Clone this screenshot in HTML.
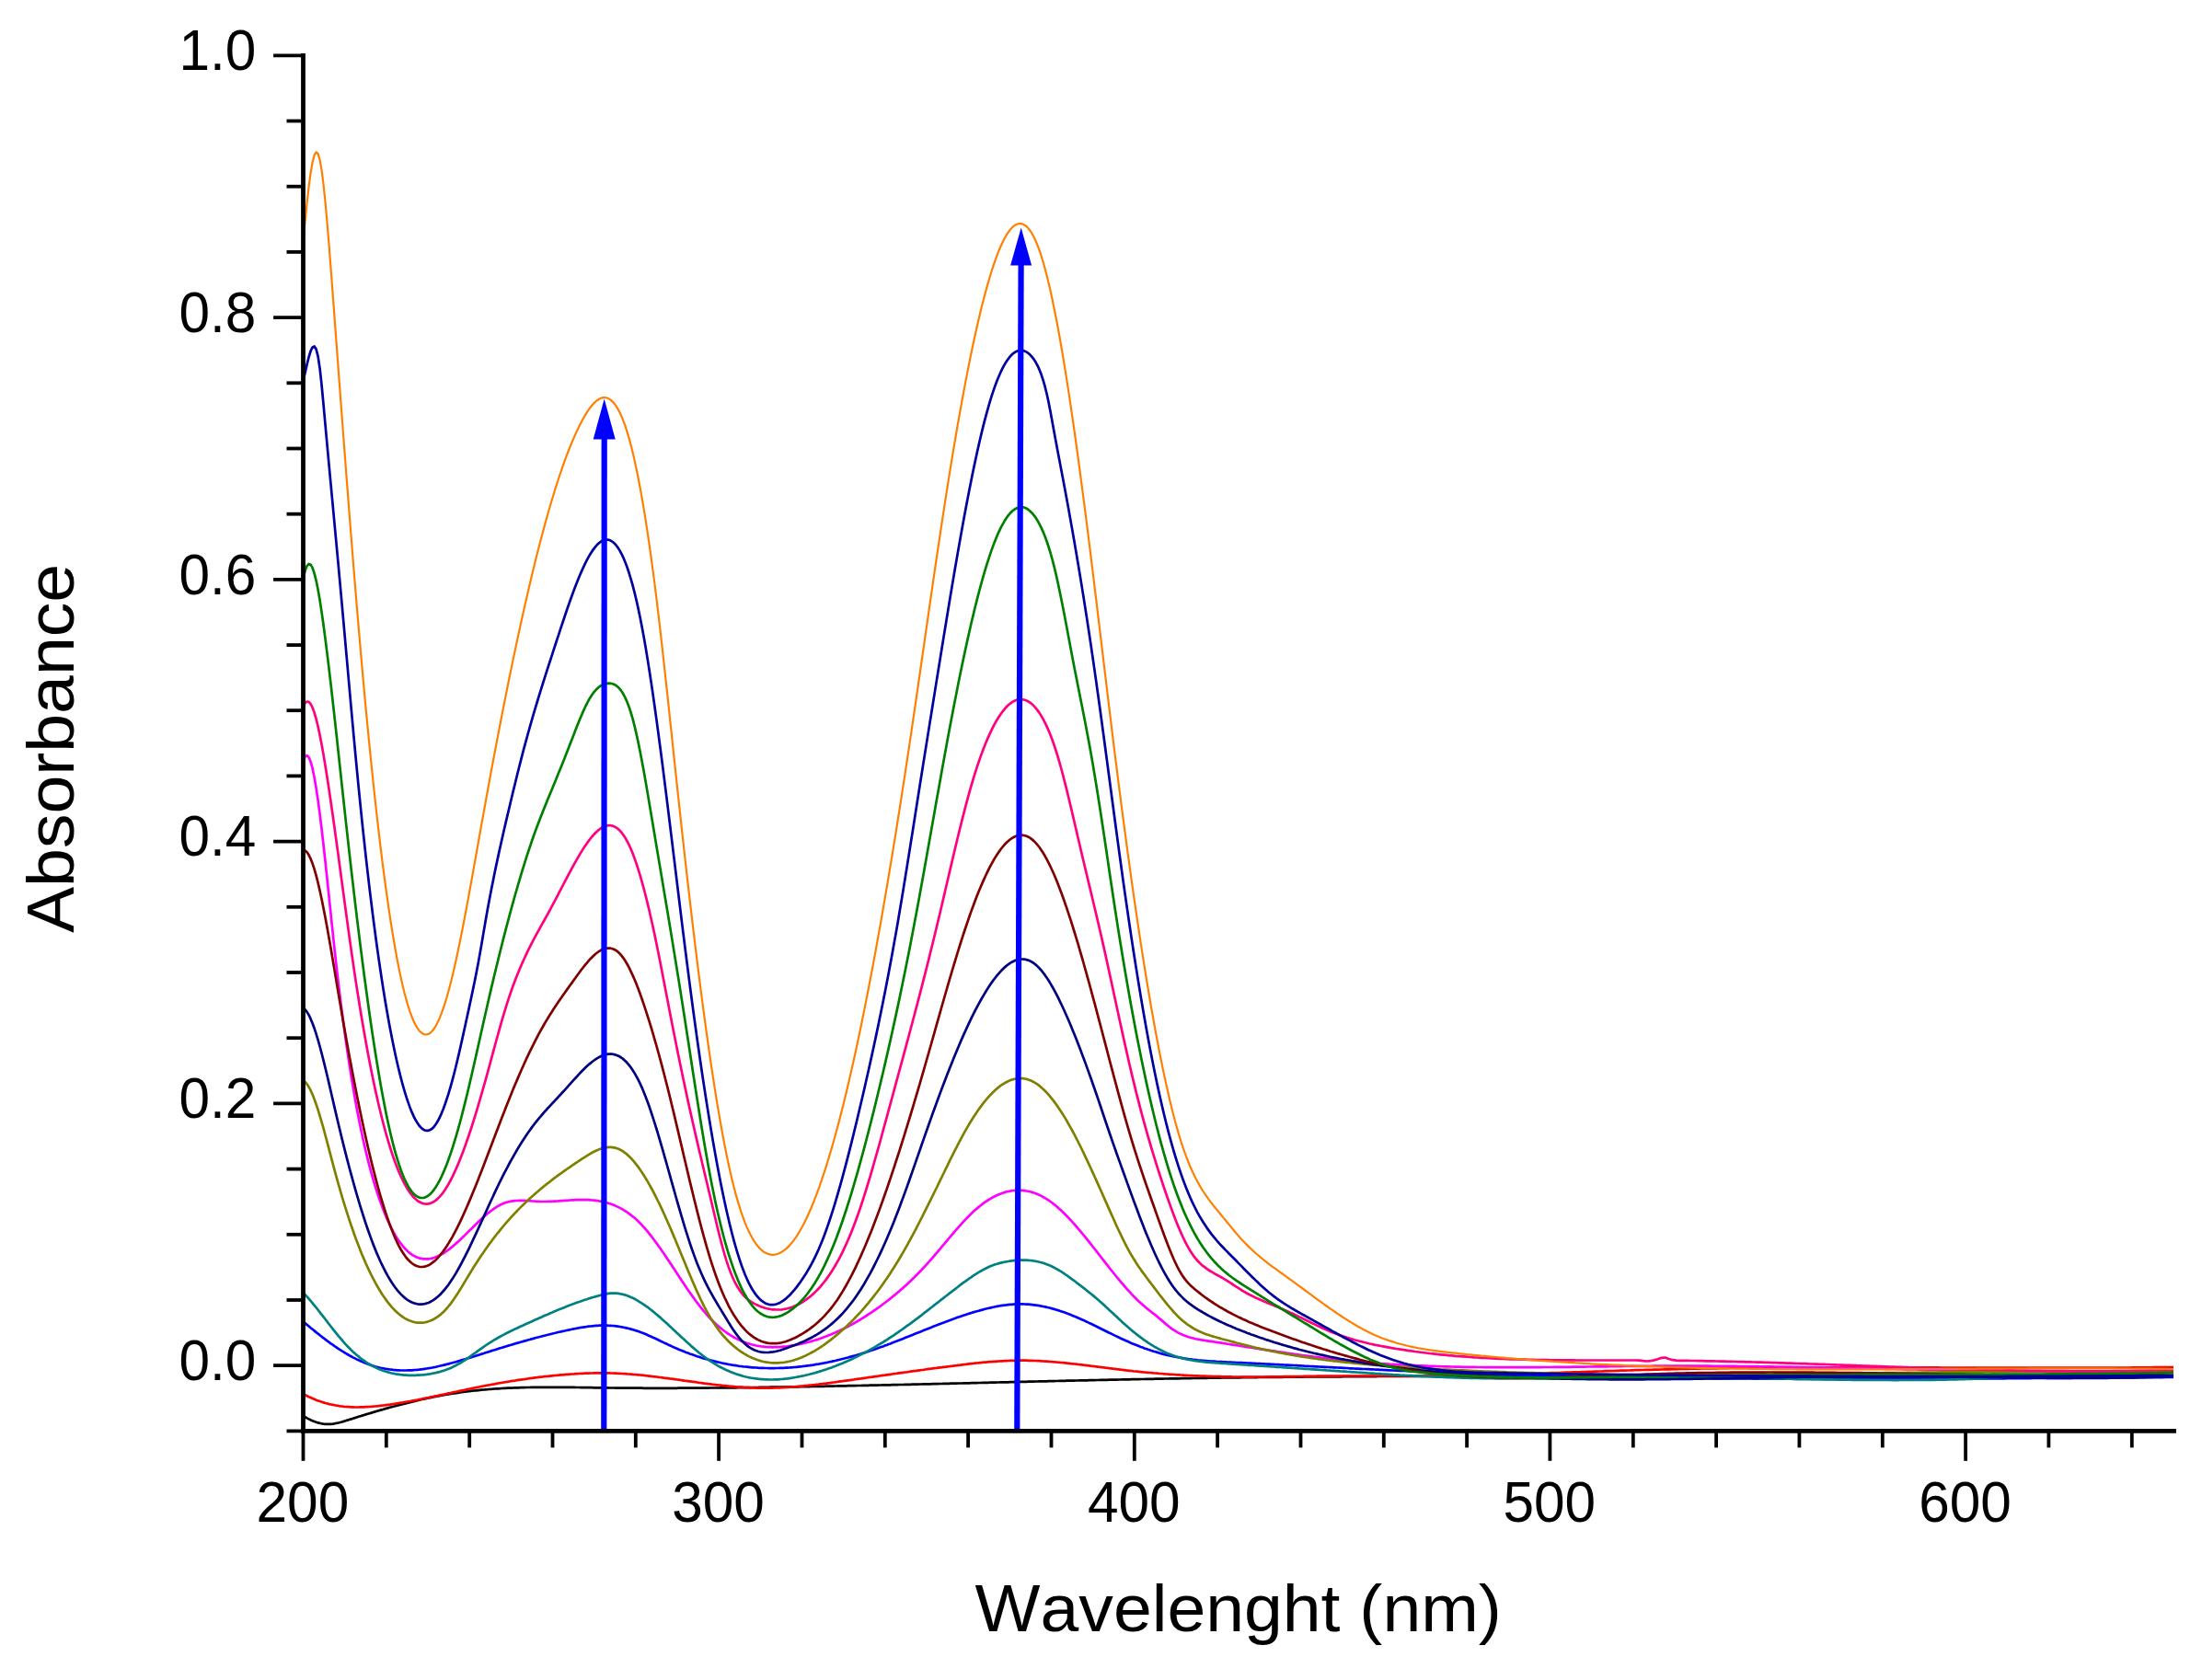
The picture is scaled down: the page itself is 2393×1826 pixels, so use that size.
<!DOCTYPE html>
<html lang="en"><head><meta charset="utf-8"><title>Absorbance spectra</title>
<style>html,body{margin:0;padding:0;background:#fff}svg{display:block}text{font-kerning:none;font-family:"Liberation Sans",Arial,Helvetica,sans-serif;fill:#000}</style></head><body>
<svg width="2393" height="1826" viewBox="0 0 2393 1826">
<rect width="2393" height="1826" fill="#fff"/>
<g fill="none" stroke-width="2.7" stroke-linejoin="round" stroke-linecap="butt">
<path d="M329.6,1539.0 331.6,1540.2 333.6,1541.4 335.6,1542.4 337.6,1543.4 339.6,1544.3 341.6,1545.1 343.6,1545.8 345.6,1546.4 347.6,1546.9 349.6,1547.3 351.6,1547.6 353.6,1547.8 355.6,1547.9 357.6,1547.9 359.6,1547.8 361.6,1547.6 363.6,1547.3 365.6,1546.9 367.6,1546.5 369.6,1546.0 371.6,1545.5 373.6,1544.9 375.6,1544.3 377.6,1543.6 379.6,1543.0 381.6,1542.4 383.6,1541.7 385.6,1541.1 387.6,1540.5 389.6,1539.8 391.6,1539.2 393.6,1538.6 395.6,1538.0 397.6,1537.4 399.6,1536.8 401.6,1536.2 403.6,1535.6 405.6,1535.0 407.6,1534.4 409.6,1533.8 411.6,1533.2 413.6,1532.6 415.6,1532.1 417.6,1531.5 419.6,1530.9 421.6,1530.4 423.6,1529.8 425.6,1529.3 427.6,1528.7 429.6,1528.2 431.6,1527.6 433.6,1527.1 435.6,1526.6 437.6,1526.1 439.6,1525.6 441.6,1525.1 443.6,1524.6 445.6,1524.1 447.6,1523.6 449.6,1523.1 451.6,1522.6 453.6,1522.2 455.6,1521.7 457.6,1521.3 459.6,1520.8 461.6,1520.4 463.6,1519.9 465.6,1519.5 467.6,1519.1 469.6,1518.7 471.6,1518.3 473.6,1517.9 475.6,1517.5 477.6,1517.1 479.6,1516.7 481.6,1516.4 483.6,1516.0 485.6,1515.7 487.6,1515.3 489.6,1515.0 491.6,1514.7 493.6,1514.4 495.6,1514.1 497.6,1513.8 499.6,1513.5 501.6,1513.2 503.6,1512.9 505.6,1512.7 507.6,1512.4 509.6,1512.2 511.6,1511.9 513.6,1511.7 515.6,1511.5 517.6,1511.3 519.6,1511.1 521.6,1510.9 523.6,1510.7 525.6,1510.5 527.6,1510.3 529.6,1510.2 531.6,1510.0 533.6,1509.8 535.6,1509.7 537.6,1509.5 539.6,1509.4 541.6,1509.3 543.6,1509.2 545.6,1509.0 547.6,1508.9 549.6,1508.8 551.6,1508.7 553.6,1508.6 555.6,1508.6 557.6,1508.5 559.6,1508.4 561.6,1508.3 563.6,1508.3 565.6,1508.2 567.6,1508.1 569.6,1508.1 571.6,1508.0 573.6,1508.0 575.6,1508.0 577.6,1507.9 579.6,1507.9 581.6,1507.9 583.6,1507.8 585.6,1507.8 587.6,1507.8 589.6,1507.8 591.6,1507.8 593.6,1507.8 595.6,1507.8 597.6,1507.8 599.6,1507.8 601.6,1507.8 603.6,1507.8 605.6,1507.8 607.6,1507.8 609.6,1507.8 611.6,1507.8 613.6,1507.8 615.6,1507.9 617.6,1507.9 619.6,1507.9 621.6,1507.9 623.6,1507.9 625.6,1508.0 627.6,1508.0 629.6,1508.0 631.6,1508.1 633.6,1508.1 635.6,1508.1 637.6,1508.1 639.6,1508.2 641.6,1508.2 643.6,1508.2 645.6,1508.3 647.6,1508.3 649.6,1508.3 651.6,1508.3 653.6,1508.4 655.6,1508.4 657.6,1508.4 659.6,1508.4 661.6,1508.5 663.6,1508.5 665.6,1508.5 667.6,1508.5 669.6,1508.6 671.6,1508.6 673.6,1508.6 675.6,1508.6 677.6,1508.6 679.6,1508.6 681.6,1508.7 683.6,1508.7 685.6,1508.7 687.6,1508.7 689.6,1508.7 691.6,1508.7 693.6,1508.7 695.6,1508.7 697.6,1508.7 699.6,1508.8 701.6,1508.8 703.6,1508.8 705.6,1508.8 707.6,1508.8 709.6,1508.8 711.6,1508.8 713.6,1508.8 715.6,1508.8 717.6,1508.8 719.6,1508.8 721.6,1508.8 723.6,1508.8 725.6,1508.8 727.6,1508.8 729.6,1508.8 731.6,1508.8 733.6,1508.8 735.6,1508.8 737.6,1508.7 739.6,1508.7 741.6,1508.7 743.6,1508.7 745.6,1508.7 747.6,1508.7 749.6,1508.7 751.6,1508.7 753.6,1508.7 755.6,1508.7 757.6,1508.6 759.6,1508.6 761.6,1508.6 763.6,1508.6 765.6,1508.6 767.6,1508.6 769.6,1508.6 771.6,1508.5 773.6,1508.5 775.6,1508.5 777.6,1508.5 779.6,1508.5 781.6,1508.5 783.6,1508.4 785.6,1508.4 787.6,1508.4 789.6,1508.4 791.6,1508.4 793.6,1508.3 795.6,1508.3 797.6,1508.3 799.6,1508.3 801.6,1508.2 803.6,1508.2 805.6,1508.2 807.6,1508.2 809.6,1508.1 811.6,1508.1 813.6,1508.1 815.6,1508.1 817.6,1508.0 819.6,1508.0 821.6,1508.0 823.6,1508.0 825.6,1507.9 827.6,1507.9 829.6,1507.9 831.6,1507.8 833.6,1507.8 835.6,1507.8 837.6,1507.7 839.6,1507.7 841.6,1507.7 843.6,1507.7 845.6,1507.6 847.6,1507.6 849.6,1507.6 851.6,1507.5 853.6,1507.5 855.6,1507.5 857.6,1507.4 859.6,1507.4 861.6,1507.4 863.6,1507.3 865.6,1507.3 867.6,1507.3 869.6,1507.2 871.6,1507.2 873.6,1507.2 875.6,1507.1 877.6,1507.1 879.6,1507.1 881.6,1507.0 883.6,1507.0 885.6,1506.9 887.6,1506.9 889.6,1506.9 891.6,1506.8 893.6,1506.8 895.6,1506.8 897.6,1506.7 899.6,1506.7 901.6,1506.6 903.6,1506.6 905.6,1506.6 907.6,1506.5 909.6,1506.5 911.6,1506.4 913.6,1506.4 915.6,1506.4 917.6,1506.3 919.6,1506.3 921.6,1506.2 923.6,1506.2 925.6,1506.2 927.6,1506.1 929.6,1506.1 931.6,1506.0 933.6,1506.0 935.6,1506.0 937.6,1505.9 939.6,1505.9 941.6,1505.8 943.6,1505.8 945.6,1505.7 947.6,1505.7 949.6,1505.7 951.6,1505.6 953.6,1505.6 955.6,1505.5 957.6,1505.5 959.6,1505.4 961.6,1505.4 963.6,1505.4 965.6,1505.3 967.6,1505.3 969.6,1505.2 971.6,1505.2 973.6,1505.1 975.6,1505.1 977.6,1505.0 979.6,1505.0 981.6,1505.0 983.6,1504.9 985.6,1504.9 987.6,1504.8 989.6,1504.8 991.6,1504.7 993.6,1504.7 995.6,1504.6 997.6,1504.6 999.6,1504.5 1001.6,1504.5 1003.6,1504.4 1005.6,1504.4 1007.6,1504.4 1009.6,1504.3 1011.6,1504.3 1013.6,1504.2 1015.6,1504.2 1017.6,1504.1 1019.6,1504.1 1021.6,1504.0 1023.6,1504.0 1025.6,1503.9 1027.6,1503.9 1029.6,1503.8 1031.6,1503.8 1033.6,1503.7 1035.6,1503.7 1037.6,1503.6 1039.6,1503.6 1041.6,1503.5 1043.6,1503.5 1045.6,1503.5 1047.6,1503.4 1049.6,1503.4 1051.6,1503.3 1053.6,1503.3 1055.6,1503.2 1057.6,1503.2 1059.6,1503.1 1061.6,1503.1 1063.6,1503.0 1065.6,1503.0 1067.6,1502.9 1069.6,1502.9 1071.6,1502.8 1073.6,1502.8 1075.6,1502.7 1077.6,1502.7 1079.6,1502.6 1081.6,1502.6 1083.6,1502.5 1085.6,1502.5 1087.6,1502.4 1089.6,1502.4 1091.6,1502.3 1093.6,1502.3 1095.6,1502.3 1097.6,1502.2 1099.6,1502.2 1101.6,1502.1 1103.6,1502.1 1105.6,1502.0 1107.6,1502.0 1109.6,1501.9 1111.6,1501.9 1113.6,1501.8 1115.6,1501.8 1117.6,1501.7 1119.6,1501.7 1121.6,1501.6 1123.6,1501.6 1125.6,1501.5 1127.6,1501.5 1129.6,1501.4 1131.6,1501.4 1133.6,1501.4 1135.6,1501.3 1137.6,1501.3 1139.6,1501.2 1141.6,1501.2 1143.6,1501.1 1145.6,1501.1 1147.6,1501.0 1149.6,1501.0 1151.6,1500.9 1153.6,1500.9 1155.6,1500.8 1157.6,1500.8 1159.6,1500.7 1161.6,1500.7 1163.6,1500.7 1165.6,1500.6 1167.6,1500.6 1169.6,1500.5 1171.6,1500.5 1173.6,1500.4 1175.6,1500.4 1177.6,1500.3 1179.6,1500.3 1181.6,1500.3 1183.6,1500.2 1185.6,1500.2 1187.6,1500.1 1189.6,1500.1 1191.6,1500.0 1193.6,1500.0 1195.6,1499.9 1197.6,1499.9 1199.6,1499.9 1201.6,1499.8 1203.6,1499.8 1205.6,1499.7 1207.6,1499.7 1209.6,1499.6 1211.6,1499.6 1213.6,1499.6 1215.6,1499.5 1217.6,1499.5 1219.6,1499.4 1221.6,1499.4 1223.6,1499.4 1225.6,1499.3 1227.6,1499.3 1229.6,1499.2 1231.6,1499.2 1233.6,1499.2 1235.6,1499.1 1237.6,1499.1 1239.6,1499.0 1241.6,1499.0 1243.6,1499.0 1245.6,1498.9 1247.6,1498.9 1249.6,1498.8 1251.6,1498.8 1253.6,1498.8 1255.6,1498.7 1257.6,1498.7 1259.6,1498.6 1261.6,1498.6 1263.6,1498.6 1265.6,1498.5 1267.6,1498.5 1269.6,1498.5 1271.6,1498.4 1273.6,1498.4 1275.6,1498.4 1277.6,1498.3 1279.6,1498.3 1281.6,1498.3 1283.6,1498.2 1285.6,1498.2 1287.6,1498.2 1289.6,1498.1 1291.6,1498.1 1293.6,1498.1 1295.6,1498.0 1297.6,1498.0 1299.6,1498.0 1301.6,1497.9 1303.6,1497.9 1305.6,1497.9 1307.6,1497.8 1309.6,1497.8 1311.6,1497.8 1313.6,1497.7 1315.6,1497.7 1317.6,1497.7 1319.6,1497.7 1321.6,1497.6 1323.6,1497.6 1325.6,1497.6 1327.6,1497.5 1329.6,1497.5 1331.6,1497.5 1333.6,1497.5 1335.6,1497.4 1337.6,1497.4 1339.6,1497.4 1341.6,1497.4 1343.6,1497.3 1345.6,1497.3 1347.6,1497.3 1349.6,1497.2 1351.6,1497.2 1353.6,1497.2 1355.6,1497.2 1357.6,1497.2 1359.6,1497.1 1361.6,1497.1 1363.6,1497.1 1365.6,1497.1 1367.6,1497.0 1369.6,1497.0 1371.6,1497.0 1373.6,1497.0 1375.6,1496.9 1377.6,1496.9 1379.6,1496.9 1381.6,1496.9 1383.6,1496.9 1385.6,1496.8 1387.6,1496.8 1389.6,1496.8 1391.6,1496.8 1393.6,1496.8 1395.6,1496.7 1397.6,1496.7 1399.6,1496.7 1401.6,1496.7 1403.6,1496.7 1405.6,1496.6 1407.6,1496.6 1409.6,1496.6 1411.6,1496.6 1413.6,1496.6 1415.6,1496.6 1417.6,1496.5 1419.6,1496.5 1421.6,1496.5 1423.6,1496.5 1425.6,1496.5 1427.6,1496.5 1429.6,1496.4 1431.6,1496.4 1433.6,1496.4 1435.6,1496.4 1437.6,1496.4 1439.6,1496.4 1441.6,1496.4 1443.6,1496.3 1445.6,1496.3 1447.6,1496.3 1449.6,1496.3 1451.6,1496.3 1453.6,1496.3 1455.6,1496.3 1457.6,1496.3 1459.6,1496.2 1461.6,1496.2 1463.6,1496.2 1465.6,1496.2 1467.6,1496.2 1469.6,1496.2 1471.6,1496.2 1473.6,1496.2 1475.6,1496.1 1477.6,1496.1 1479.6,1496.1 1481.6,1496.1 1483.6,1496.1 1485.6,1496.1 1487.6,1496.1 1489.6,1496.1 1491.6,1496.1 1493.6,1496.1 1495.6,1496.1 1497.6,1496.0 1499.6,1496.0 1501.6,1496.0 1505.6,1496.0 1509.6,1496.0 1513.6,1496.0 1517.6,1496.0 1521.6,1496.0 1525.6,1495.9 1529.6,1495.9 1533.6,1495.9 1537.6,1495.9 1541.6,1495.9 1545.6,1495.9 1549.6,1495.9 1553.6,1495.9 1557.6,1495.9 1561.6,1495.9 1565.6,1495.8 1569.6,1495.8 1573.6,1495.8 1577.6,1495.8 1581.6,1495.8 1585.6,1495.8 1589.6,1495.8 1593.6,1495.8 1597.6,1495.8 1601.6,1495.8 1605.6,1495.8 1609.6,1495.8 1613.6,1495.8 1617.6,1495.8 1621.6,1495.8 1625.6,1495.8 1629.6,1495.8 1633.6,1495.8 1637.6,1495.8 1641.6,1495.8 1645.6,1495.8 1649.6,1495.8 1653.6,1495.8 1657.6,1495.8 1661.6,1495.9 1665.6,1495.9 1669.6,1495.9 1673.6,1495.9 1677.6,1495.9 1681.6,1495.9 1685.6,1495.9 1689.6,1495.9 1693.6,1495.9 1697.6,1495.9 1701.6,1495.9 1705.6,1495.9 1709.6,1495.9 1713.6,1496.0 1717.6,1496.0 1721.6,1496.0 1725.6,1496.0 1729.6,1496.0 1733.6,1496.0 1737.6,1496.0 1741.6,1496.0 1745.6,1496.0 1749.6,1496.1 1753.6,1496.1 1757.6,1496.1 1761.6,1496.1 1765.6,1496.1 1769.6,1496.1 1773.6,1496.1 1777.6,1496.1 1781.6,1496.2 1785.6,1496.2 1789.6,1496.2 1793.6,1496.2 1797.6,1496.2 1801.6,1496.2 1805.6,1496.2 1809.6,1496.2 1813.6,1496.3 1817.6,1496.3 1821.6,1496.3 1825.6,1496.3 1829.6,1496.3 1833.6,1496.3 1837.6,1496.3 1841.6,1496.4 1845.6,1496.4 1849.6,1496.4 1853.6,1496.4 1857.6,1496.4 1861.6,1496.4 1865.6,1496.4 1869.6,1496.4 1873.6,1496.5 1877.6,1496.5 1881.6,1496.5 1885.6,1496.5 1889.6,1496.5 1893.6,1496.5 1897.6,1496.5 1901.6,1496.6 1905.6,1496.6 1909.6,1496.6 1913.6,1496.6 1917.6,1496.6 1921.6,1496.6 1925.6,1496.6 1929.6,1496.6 1933.6,1496.7 1937.6,1496.7 1941.6,1496.7 1945.6,1496.7 1949.6,1496.7 1953.6,1496.7 1957.6,1496.7 1961.6,1496.7 1965.6,1496.7 1969.6,1496.7 1973.6,1496.8 1977.6,1496.8 1981.6,1496.8 1985.6,1496.8 1989.6,1496.8 1993.6,1496.8 1997.6,1496.8 2001.6,1496.8 2005.6,1496.8 2009.6,1496.8 2013.6,1496.8 2017.6,1496.8 2021.6,1496.8 2025.6,1496.8 2029.6,1496.8 2033.6,1496.8 2037.6,1496.9 2041.6,1496.9 2045.6,1496.9 2049.6,1496.9 2053.6,1496.9 2057.6,1496.9 2061.6,1496.9 2065.6,1496.9 2069.6,1496.9 2073.6,1496.9 2077.6,1496.9 2081.6,1496.9 2085.6,1496.9 2089.6,1496.9 2093.6,1496.9 2097.6,1496.8 2101.6,1496.8 2105.6,1496.8 2109.6,1496.8 2113.6,1496.8 2117.6,1496.8 2121.6,1496.8 2125.6,1496.8 2129.6,1496.8 2133.6,1496.8 2137.6,1496.8 2141.6,1496.8 2145.6,1496.8 2149.6,1496.7 2153.6,1496.7 2157.6,1496.7 2161.6,1496.7 2165.6,1496.7 2169.6,1496.7 2173.6,1496.7 2177.6,1496.6 2181.6,1496.6 2185.6,1496.6 2189.6,1496.6 2193.6,1496.6 2197.6,1496.5 2201.6,1496.5 2205.6,1496.5 2209.6,1496.5 2213.6,1496.5 2217.6,1496.4 2221.6,1496.4 2225.6,1496.4 2229.6,1496.4 2233.6,1496.3 2237.6,1496.3 2241.6,1496.3 2245.6,1496.2 2249.6,1496.2 2253.6,1496.2 2257.6,1496.1 2261.6,1496.1 2265.6,1496.1 2269.6,1496.0 2273.6,1496.0 2277.6,1496.0 2281.6,1495.9 2285.6,1495.9 2289.6,1495.8 2293.6,1495.8 2297.6,1495.8 2301.6,1495.7 2305.6,1495.7 2309.6,1495.6 2313.6,1495.6 2317.6,1495.5 2321.6,1495.5 2325.6,1495.4 2329.6,1495.4 2333.6,1495.3 2337.6,1495.3 2341.6,1495.2 2345.6,1495.2 2349.6,1495.1 2353.6,1495.1 2357.6,1495.0 2361.6,1494.9 2362.0,1494.9" stroke="#000000"/>
<path d="M329.6,1515.0 331.6,1516.1 333.6,1517.2 335.6,1518.2 337.6,1519.1 339.6,1520.0 341.6,1520.8 343.6,1521.7 345.6,1522.4 347.6,1523.1 349.6,1523.8 351.6,1524.4 353.6,1525.0 355.6,1525.5 357.6,1526.1 359.6,1526.5 361.6,1526.9 363.6,1527.3 365.6,1527.7 367.6,1528.0 369.6,1528.3 371.6,1528.5 373.6,1528.8 375.6,1529.0 377.6,1529.1 379.6,1529.2 381.6,1529.3 383.6,1529.4 385.6,1529.5 387.6,1529.5 389.6,1529.5 391.6,1529.4 393.6,1529.4 395.6,1529.3 397.6,1529.2 399.6,1529.1 401.6,1529.0 403.6,1528.8 405.6,1528.7 407.6,1528.5 409.6,1528.3 411.6,1528.1 413.6,1527.8 415.6,1527.6 417.6,1527.4 419.6,1527.1 421.6,1526.8 423.6,1526.6 425.6,1526.3 427.6,1526.0 429.6,1525.7 431.6,1525.3 433.6,1525.0 435.6,1524.7 437.6,1524.4 439.6,1524.0 441.6,1523.7 443.6,1523.3 445.6,1523.0 447.6,1522.6 449.6,1522.2 451.6,1521.8 453.6,1521.5 455.6,1521.1 457.6,1520.7 459.6,1520.3 461.6,1519.9 463.6,1519.5 465.6,1519.1 467.6,1518.6 469.6,1518.2 471.6,1517.8 473.6,1517.4 475.6,1517.0 477.6,1516.5 479.6,1516.1 481.6,1515.7 483.6,1515.3 485.6,1514.8 487.6,1514.4 489.6,1514.0 491.6,1513.5 493.6,1513.1 495.6,1512.7 497.6,1512.3 499.6,1511.8 501.6,1511.4 503.6,1511.0 505.6,1510.6 507.6,1510.1 509.6,1509.7 511.6,1509.3 513.6,1508.9 515.6,1508.5 517.6,1508.1 519.6,1507.7 521.6,1507.3 523.6,1506.9 525.6,1506.5 527.6,1506.1 529.6,1505.7 531.6,1505.4 533.6,1505.0 535.6,1504.6 537.6,1504.3 539.6,1503.9 541.6,1503.5 543.6,1503.2 545.6,1502.8 547.6,1502.5 549.6,1502.2 551.6,1501.8 553.6,1501.5 555.6,1501.2 557.6,1500.9 559.6,1500.6 561.6,1500.2 563.6,1499.9 565.6,1499.6 567.6,1499.3 569.6,1499.1 571.6,1498.8 573.6,1498.5 575.6,1498.2 577.6,1498.0 579.6,1497.7 581.6,1497.4 583.6,1497.2 585.6,1496.9 587.6,1496.7 589.6,1496.5 591.6,1496.2 593.6,1496.0 595.6,1495.8 597.6,1495.6 599.6,1495.4 601.6,1495.2 603.6,1495.0 605.6,1494.8 607.6,1494.6 609.6,1494.4 611.6,1494.3 613.6,1494.1 615.6,1493.9 617.6,1493.8 619.6,1493.6 621.6,1493.5 623.6,1493.4 625.6,1493.2 627.6,1493.1 629.6,1493.0 631.6,1492.9 633.6,1492.8 635.6,1492.7 637.6,1492.7 639.6,1492.6 641.6,1492.5 643.6,1492.5 645.6,1492.4 647.6,1492.4 649.6,1492.4 651.6,1492.4 653.6,1492.4 655.6,1492.4 657.6,1492.4 659.6,1492.4 661.6,1492.4 663.6,1492.5 665.6,1492.5 667.6,1492.6 669.6,1492.7 671.6,1492.8 673.6,1492.9 675.6,1493.0 677.6,1493.1 679.6,1493.2 681.6,1493.4 683.6,1493.5 685.6,1493.6 687.6,1493.8 689.6,1494.0 691.6,1494.2 693.6,1494.3 695.6,1494.5 697.6,1494.7 699.6,1494.9 701.6,1495.2 703.6,1495.4 705.6,1495.6 707.6,1495.8 709.6,1496.1 711.6,1496.3 713.6,1496.5 715.6,1496.8 717.6,1497.0 719.6,1497.3 721.6,1497.6 723.6,1497.8 725.6,1498.1 727.6,1498.4 729.6,1498.6 731.6,1498.9 733.6,1499.2 735.6,1499.5 737.6,1499.7 739.6,1500.0 741.6,1500.3 743.6,1500.6 745.6,1500.8 747.6,1501.1 749.6,1501.4 751.6,1501.7 753.6,1501.9 755.6,1502.2 757.6,1502.5 759.6,1502.8 761.6,1503.0 763.6,1503.3 765.6,1503.6 767.6,1503.8 769.6,1504.1 771.6,1504.3 773.6,1504.6 775.6,1504.8 777.6,1505.1 779.6,1505.3 781.6,1505.5 783.6,1505.7 785.6,1506.0 787.6,1506.2 789.6,1506.4 791.6,1506.6 793.6,1506.8 795.6,1506.9 797.6,1507.1 799.6,1507.3 801.6,1507.5 803.6,1507.6 805.6,1507.7 807.6,1507.9 809.6,1508.0 811.6,1508.1 813.6,1508.2 815.6,1508.3 817.6,1508.4 819.6,1508.5 821.6,1508.6 823.6,1508.6 825.6,1508.6 827.6,1508.7 829.6,1508.7 831.6,1508.7 833.6,1508.7 835.6,1508.7 837.6,1508.6 839.6,1508.6 841.6,1508.5 843.6,1508.5 845.6,1508.4 847.6,1508.3 849.6,1508.2 851.6,1508.1 853.6,1508.0 855.6,1507.9 857.6,1507.7 859.6,1507.6 861.6,1507.4 863.6,1507.3 865.6,1507.1 867.6,1506.9 869.6,1506.8 871.6,1506.6 873.6,1506.4 875.6,1506.2 877.6,1506.0 879.6,1505.7 881.6,1505.5 883.6,1505.3 885.6,1505.1 887.6,1504.8 889.6,1504.6 891.6,1504.3 893.6,1504.1 895.6,1503.8 897.6,1503.6 899.6,1503.3 901.6,1503.1 903.6,1502.8 905.6,1502.5 907.6,1502.3 909.6,1502.0 911.6,1501.7 913.6,1501.4 915.6,1501.2 917.6,1500.9 919.6,1500.6 921.6,1500.3 923.6,1500.1 925.6,1499.8 927.6,1499.5 929.6,1499.2 931.6,1498.9 933.6,1498.6 935.6,1498.4 937.6,1498.1 939.6,1497.8 941.6,1497.5 943.6,1497.2 945.6,1496.9 947.6,1496.7 949.6,1496.4 951.6,1496.1 953.6,1495.8 955.6,1495.5 957.6,1495.2 959.6,1494.9 961.6,1494.7 963.6,1494.4 965.6,1494.1 967.6,1493.8 969.6,1493.5 971.6,1493.2 973.6,1493.0 975.6,1492.7 977.6,1492.4 979.6,1492.1 981.6,1491.8 983.6,1491.5 985.6,1491.3 987.6,1491.0 989.6,1490.7 991.6,1490.4 993.6,1490.1 995.6,1489.9 997.6,1489.6 999.6,1489.3 1001.6,1489.0 1003.6,1488.8 1005.6,1488.5 1007.6,1488.2 1009.6,1487.9 1011.6,1487.7 1013.6,1487.4 1015.6,1487.1 1017.6,1486.9 1019.6,1486.6 1021.6,1486.3 1023.6,1486.1 1025.6,1485.8 1027.6,1485.6 1029.6,1485.3 1031.6,1485.1 1033.6,1484.8 1035.6,1484.6 1037.6,1484.3 1039.6,1484.1 1041.6,1483.8 1043.6,1483.6 1045.6,1483.3 1047.6,1483.1 1049.6,1482.9 1051.6,1482.6 1053.6,1482.4 1055.6,1482.2 1057.6,1482.0 1059.6,1481.7 1061.6,1481.5 1063.6,1481.3 1065.6,1481.1 1067.6,1480.9 1069.6,1480.7 1071.6,1480.6 1073.6,1480.4 1075.6,1480.2 1077.6,1480.1 1079.6,1479.9 1081.6,1479.8 1083.6,1479.6 1085.6,1479.5 1087.6,1479.4 1089.6,1479.3 1091.6,1479.2 1093.6,1479.1 1095.6,1479.0 1097.6,1478.9 1099.6,1478.8 1101.6,1478.8 1103.6,1478.8 1105.6,1478.7 1107.6,1478.7 1109.6,1478.7 1111.6,1478.7 1113.6,1478.7 1115.6,1478.7 1117.6,1478.8 1119.6,1478.8 1121.6,1478.9 1123.6,1479.0 1125.6,1479.0 1127.6,1479.1 1129.6,1479.2 1131.6,1479.3 1133.6,1479.5 1135.6,1479.6 1137.6,1479.7 1139.6,1479.8 1141.6,1480.0 1143.6,1480.2 1145.6,1480.3 1147.6,1480.5 1149.6,1480.7 1151.6,1480.8 1153.6,1481.0 1155.6,1481.2 1157.6,1481.4 1159.6,1481.6 1161.6,1481.8 1163.6,1482.1 1165.6,1482.3 1167.6,1482.5 1169.6,1482.7 1171.6,1483.0 1173.6,1483.2 1175.6,1483.4 1177.6,1483.7 1179.6,1483.9 1181.6,1484.2 1183.6,1484.4 1185.6,1484.7 1187.6,1484.9 1189.6,1485.2 1191.6,1485.4 1193.6,1485.7 1195.6,1485.9 1197.6,1486.2 1199.6,1486.4 1201.6,1486.7 1203.6,1486.9 1205.6,1487.2 1207.6,1487.4 1209.6,1487.7 1211.6,1487.9 1213.6,1488.2 1215.6,1488.4 1217.6,1488.7 1219.6,1488.9 1221.6,1489.1 1223.6,1489.4 1225.6,1489.6 1227.6,1489.8 1229.6,1490.0 1231.6,1490.3 1233.6,1490.5 1235.6,1490.7 1237.6,1490.9 1239.6,1491.1 1241.6,1491.3 1243.6,1491.5 1245.6,1491.7 1247.6,1491.8 1249.6,1492.0 1251.6,1492.2 1253.6,1492.4 1255.6,1492.5 1257.6,1492.7 1259.6,1492.9 1261.6,1493.0 1263.6,1493.2 1265.6,1493.3 1267.6,1493.5 1269.6,1493.6 1271.6,1493.8 1273.6,1493.9 1275.6,1494.0 1277.6,1494.2 1279.6,1494.3 1281.6,1494.4 1283.6,1494.5 1285.6,1494.6 1287.6,1494.8 1289.6,1494.9 1291.6,1495.0 1293.6,1495.1 1295.6,1495.2 1297.6,1495.3 1299.6,1495.4 1301.6,1495.4 1303.6,1495.5 1305.6,1495.6 1307.6,1495.7 1309.6,1495.7 1311.6,1495.8 1313.6,1495.9 1315.6,1495.9 1317.6,1496.0 1319.6,1496.1 1321.6,1496.1 1323.6,1496.2 1325.6,1496.2 1327.6,1496.3 1329.6,1496.3 1331.6,1496.3 1333.6,1496.4 1335.6,1496.4 1337.6,1496.4 1339.6,1496.5 1341.6,1496.5 1343.6,1496.5 1345.6,1496.5 1347.6,1496.5 1349.6,1496.5 1351.6,1496.5 1353.6,1496.6 1355.6,1496.6 1357.6,1496.6 1359.6,1496.6 1361.6,1496.6 1363.6,1496.5 1365.6,1496.5 1367.6,1496.5 1369.6,1496.5 1371.6,1496.5 1373.6,1496.5 1375.6,1496.5 1377.6,1496.5 1379.6,1496.4 1381.6,1496.4 1383.6,1496.4 1385.6,1496.4 1387.6,1496.3 1389.6,1496.3 1391.6,1496.3 1393.6,1496.3 1395.6,1496.2 1397.6,1496.2 1399.6,1496.2 1401.6,1496.2 1403.6,1496.1 1405.6,1496.1 1407.6,1496.1 1409.6,1496.0 1411.6,1496.0 1413.6,1496.0 1415.6,1496.0 1417.6,1495.9 1419.6,1495.9 1421.6,1495.9 1423.6,1495.8 1425.6,1495.8 1427.6,1495.8 1429.6,1495.8 1431.6,1495.7 1433.6,1495.7 1435.6,1495.7 1437.6,1495.7 1439.6,1495.7 1441.6,1495.6 1443.6,1495.6 1445.6,1495.6 1447.6,1495.6 1449.6,1495.6 1451.6,1495.6 1453.6,1495.6 1455.6,1495.6 1457.6,1495.5 1459.6,1495.5 1461.6,1495.5 1463.6,1495.5 1465.6,1495.5 1467.6,1495.5 1469.6,1495.5 1471.6,1495.5 1473.6,1495.5 1475.6,1495.5 1477.6,1495.5 1479.6,1495.5 1481.6,1495.5 1483.6,1495.5 1485.6,1495.5 1487.6,1495.5 1489.6,1495.5 1491.6,1495.5 1493.6,1495.5 1495.6,1495.5 1497.6,1495.5 1499.6,1495.5 1501.6,1495.5 1505.6,1495.5 1509.6,1495.5 1513.6,1495.5 1517.6,1495.5 1521.6,1495.5 1525.6,1495.5 1529.6,1495.5 1533.6,1495.5 1537.6,1495.5 1541.6,1495.5 1545.6,1495.5 1549.6,1495.4 1553.6,1495.4 1557.6,1495.4 1561.6,1495.3 1565.6,1495.3 1569.6,1495.2 1573.6,1495.2 1577.6,1495.1 1581.6,1495.1 1585.6,1495.0 1589.6,1494.9 1593.6,1494.8 1597.6,1494.8 1601.6,1494.7 1605.6,1494.6 1609.6,1494.5 1613.6,1494.4 1617.6,1494.3 1621.6,1494.2 1625.6,1494.1 1629.6,1494.0 1633.6,1493.9 1637.6,1493.8 1641.6,1493.6 1645.6,1493.5 1649.6,1493.4 1653.6,1493.3 1657.6,1493.2 1661.6,1493.0 1665.6,1492.9 1669.6,1492.8 1673.6,1492.6 1677.6,1492.5 1681.6,1492.4 1685.6,1492.2 1689.6,1492.1 1693.6,1492.0 1697.6,1491.8 1701.6,1491.7 1705.6,1491.6 1709.6,1491.4 1713.6,1491.3 1717.6,1491.2 1721.6,1491.0 1725.6,1490.9 1729.6,1490.8 1733.6,1490.6 1737.6,1490.5 1741.6,1490.4 1745.6,1490.2 1749.6,1490.1 1753.6,1490.0 1757.6,1489.8 1761.6,1489.7 1765.6,1489.6 1769.6,1489.5 1773.6,1489.3 1777.6,1489.2 1781.6,1489.1 1785.6,1489.0 1789.6,1488.9 1793.6,1488.8 1797.6,1488.7 1801.6,1488.6 1805.6,1488.5 1809.6,1488.4 1813.6,1488.3 1817.6,1488.2 1821.6,1488.1 1825.6,1488.0 1829.6,1487.9 1833.6,1487.8 1837.6,1487.7 1841.6,1487.7 1845.6,1487.6 1849.6,1487.5 1853.6,1487.4 1857.6,1487.4 1861.6,1487.3 1865.6,1487.3 1869.6,1487.2 1873.6,1487.1 1877.6,1487.1 1881.6,1487.0 1885.6,1487.0 1889.6,1486.9 1893.6,1486.9 1897.6,1486.8 1901.6,1486.8 1905.6,1486.8 1909.6,1486.7 1913.6,1486.7 1917.6,1486.6 1921.6,1486.6 1925.6,1486.6 1929.6,1486.5 1933.6,1486.5 1937.6,1486.5 1941.6,1486.5 1945.6,1486.4 1949.6,1486.4 1953.6,1486.4 1957.6,1486.4 1961.6,1486.4 1965.6,1486.4 1969.6,1486.3 1973.6,1486.3 1977.6,1486.3 1981.6,1486.3 1985.6,1486.3 1989.6,1486.3 1993.6,1486.3 1997.6,1486.3 2001.6,1486.3 2005.6,1486.3 2009.6,1486.3 2013.6,1486.3 2017.6,1486.3 2021.6,1486.3 2025.6,1486.3 2029.6,1486.3 2033.6,1486.3 2037.6,1486.3 2041.6,1486.3 2045.6,1486.3 2049.6,1486.3 2053.6,1486.3 2057.6,1486.3 2061.6,1486.3 2065.6,1486.3 2069.6,1486.3 2073.6,1486.4 2077.6,1486.4 2081.6,1486.4 2085.6,1486.4 2089.6,1486.4 2093.6,1486.4 2097.6,1486.4 2101.6,1486.4 2105.6,1486.4 2109.6,1486.5 2113.6,1486.5 2117.6,1486.5 2121.6,1486.5 2125.6,1486.5 2129.6,1486.5 2133.6,1486.5 2137.6,1486.6 2141.6,1486.6 2145.6,1486.6 2149.6,1486.6 2153.6,1486.6 2157.6,1486.6 2161.6,1486.6 2165.6,1486.6 2169.6,1486.6 2173.6,1486.7 2177.6,1486.7 2181.6,1486.7 2185.6,1486.7 2189.6,1486.7 2193.6,1486.7 2197.6,1486.7 2201.6,1486.7 2205.6,1486.7 2209.6,1486.7 2213.6,1486.7 2217.6,1486.7 2221.6,1486.7 2225.6,1486.7 2229.6,1486.7 2233.6,1486.7 2237.6,1486.7 2241.6,1486.7 2245.6,1486.7 2249.6,1486.7 2253.6,1486.7 2257.6,1486.7 2261.6,1486.7 2265.6,1486.7 2269.6,1486.7 2273.6,1486.7 2277.6,1486.6 2281.6,1486.6 2285.6,1486.6 2289.6,1486.6 2293.6,1486.6 2297.6,1486.6 2301.6,1486.5 2305.6,1486.5 2309.6,1486.5 2313.6,1486.5 2317.6,1486.4 2321.6,1486.4 2325.6,1486.4 2329.6,1486.3 2333.6,1486.3 2337.6,1486.3 2341.6,1486.2 2345.6,1486.2 2349.6,1486.1 2353.6,1486.1 2357.6,1486.0 2361.6,1486.0 2362.0,1486.0" stroke="#ff0000"/>
<path d="M329.6,1436.5 331.6,1438.2 333.6,1439.9 335.6,1441.5 337.6,1443.2 339.6,1444.8 341.6,1446.4 343.6,1448.1 345.6,1449.7 347.6,1451.2 349.6,1452.8 351.6,1454.3 353.6,1455.9 355.6,1457.4 357.6,1458.8 359.6,1460.3 361.6,1461.7 363.6,1463.1 365.6,1464.5 367.6,1465.8 369.6,1467.1 371.6,1468.4 373.6,1469.6 375.6,1470.9 377.6,1472.0 379.6,1473.2 381.6,1474.3 383.6,1475.4 385.6,1476.4 387.6,1477.4 389.6,1478.3 391.6,1479.2 393.6,1480.1 395.6,1481.0 397.6,1481.8 399.6,1482.5 401.6,1483.2 403.6,1483.9 405.6,1484.6 407.6,1485.2 409.6,1485.7 411.6,1486.2 413.6,1486.7 415.6,1487.1 417.6,1487.5 419.6,1487.9 421.6,1488.2 423.6,1488.5 425.6,1488.7 427.6,1489.0 429.6,1489.1 431.6,1489.3 433.6,1489.4 435.6,1489.5 437.6,1489.5 439.6,1489.5 441.6,1489.5 443.6,1489.4 445.6,1489.4 447.6,1489.3 449.6,1489.1 451.6,1489.0 453.6,1488.8 455.6,1488.6 457.6,1488.3 459.6,1488.1 461.6,1487.8 463.6,1487.5 465.6,1487.2 467.6,1486.8 469.6,1486.5 471.6,1486.1 473.6,1485.7 475.6,1485.2 477.6,1484.8 479.6,1484.3 481.6,1483.9 483.6,1483.4 485.6,1482.9 487.6,1482.4 489.6,1481.8 491.6,1481.3 493.6,1480.7 495.6,1480.2 497.6,1479.6 499.6,1479.0 501.6,1478.4 503.6,1477.8 505.6,1477.2 507.6,1476.6 509.6,1476.0 511.6,1475.4 513.6,1474.8 515.6,1474.1 517.6,1473.5 519.6,1472.9 521.6,1472.2 523.6,1471.6 525.6,1471.0 527.6,1470.3 529.6,1469.7 531.6,1469.1 533.6,1468.4 535.6,1467.8 537.6,1467.2 539.6,1466.6 541.6,1465.9 543.6,1465.3 545.6,1464.7 547.6,1464.1 549.6,1463.5 551.6,1462.9 553.6,1462.3 555.6,1461.7 557.6,1461.1 559.6,1460.5 561.6,1459.9 563.6,1459.4 565.6,1458.8 567.6,1458.2 569.6,1457.6 571.6,1457.1 573.6,1456.5 575.6,1456.0 577.6,1455.4 579.6,1454.9 581.6,1454.3 583.6,1453.8 585.6,1453.3 587.6,1452.7 589.6,1452.2 591.6,1451.7 593.6,1451.2 595.6,1450.7 597.6,1450.2 599.6,1449.7 601.6,1449.2 603.6,1448.8 605.6,1448.3 607.6,1447.8 609.6,1447.4 611.6,1446.9 613.6,1446.5 615.6,1446.0 617.6,1445.6 619.6,1445.2 621.6,1444.8 623.6,1444.4 625.6,1444.0 627.6,1443.6 629.6,1443.2 631.6,1442.9 633.6,1442.6 635.6,1442.3 637.6,1442.0 639.6,1441.7 641.6,1441.5 643.6,1441.3 645.6,1441.1 647.6,1440.9 649.6,1440.8 651.6,1440.7 653.6,1440.7 655.6,1440.6 657.6,1440.6 659.6,1440.7 661.6,1440.8 663.6,1440.9 665.6,1441.0 667.6,1441.2 669.6,1441.4 671.6,1441.7 673.6,1442.0 675.6,1442.3 677.6,1442.7 679.6,1443.1 681.6,1443.6 683.6,1444.0 685.6,1444.6 687.6,1445.1 689.6,1445.7 691.6,1446.4 693.6,1447.0 695.6,1447.8 697.6,1448.5 699.6,1449.3 701.6,1450.1 703.6,1451.0 705.6,1451.9 707.6,1452.8 709.6,1453.7 711.6,1454.6 713.6,1455.5 715.6,1456.5 717.6,1457.5 719.6,1458.4 721.6,1459.4 723.6,1460.3 725.6,1461.3 727.6,1462.2 729.6,1463.1 731.6,1464.1 733.6,1464.9 735.6,1465.8 737.6,1466.7 739.6,1467.5 741.6,1468.3 743.6,1469.1 745.6,1469.9 747.6,1470.6 749.6,1471.4 751.6,1472.1 753.6,1472.8 755.6,1473.5 757.6,1474.2 759.6,1474.8 761.6,1475.5 763.6,1476.1 765.6,1476.7 767.6,1477.2 769.6,1477.8 771.6,1478.4 773.6,1478.9 775.6,1479.4 777.6,1479.9 779.6,1480.4 781.6,1480.8 783.6,1481.3 785.6,1481.7 787.6,1482.1 789.6,1482.5 791.6,1482.9 793.6,1483.2 795.6,1483.6 797.6,1483.9 799.6,1484.2 801.6,1484.5 803.6,1484.8 805.6,1485.0 807.6,1485.3 809.6,1485.5 811.6,1485.7 813.6,1485.9 815.6,1486.1 817.6,1486.3 819.6,1486.4 821.6,1486.5 823.6,1486.7 825.6,1486.8 827.6,1486.9 829.6,1486.9 831.6,1487.0 833.6,1487.0 835.6,1487.1 837.6,1487.1 839.6,1487.1 841.6,1487.1 843.6,1487.0 845.6,1487.0 847.6,1486.9 849.6,1486.9 851.6,1486.8 853.6,1486.7 855.6,1486.6 857.6,1486.5 859.6,1486.3 861.6,1486.2 863.6,1486.0 865.6,1485.8 867.6,1485.6 869.6,1485.4 871.6,1485.2 873.6,1484.9 875.6,1484.7 877.6,1484.4 879.6,1484.2 881.6,1483.9 883.6,1483.6 885.6,1483.2 887.6,1482.9 889.6,1482.6 891.6,1482.2 893.6,1481.9 895.6,1481.5 897.6,1481.1 899.6,1480.7 901.6,1480.3 903.6,1479.9 905.6,1479.4 907.6,1479.0 909.6,1478.5 911.6,1478.0 913.6,1477.5 915.6,1477.0 917.6,1476.5 919.6,1476.0 921.6,1475.5 923.6,1474.9 925.6,1474.4 927.6,1473.8 929.6,1473.3 931.6,1472.7 933.6,1472.1 935.6,1471.5 937.6,1470.8 939.6,1470.2 941.6,1469.6 943.6,1468.9 945.6,1468.3 947.6,1467.6 949.6,1466.9 951.6,1466.2 953.6,1465.5 955.6,1464.8 957.6,1464.1 959.6,1463.4 961.6,1462.6 963.6,1461.9 965.6,1461.1 967.6,1460.4 969.6,1459.6 971.6,1458.8 973.6,1458.1 975.6,1457.3 977.6,1456.5 979.6,1455.7 981.6,1454.9 983.6,1454.1 985.6,1453.3 987.6,1452.5 989.6,1451.7 991.6,1450.9 993.6,1450.1 995.6,1449.3 997.6,1448.5 999.6,1447.7 1001.6,1446.9 1003.6,1446.1 1005.6,1445.3 1007.6,1444.5 1009.6,1443.7 1011.6,1442.9 1013.6,1442.1 1015.6,1441.3 1017.6,1440.6 1019.6,1439.8 1021.6,1439.0 1023.6,1438.2 1025.6,1437.5 1027.6,1436.7 1029.6,1436.0 1031.6,1435.2 1033.6,1434.5 1035.6,1433.8 1037.6,1433.1 1039.6,1432.3 1041.6,1431.6 1043.6,1430.9 1045.6,1430.3 1047.6,1429.6 1049.6,1428.9 1051.6,1428.3 1053.6,1427.6 1055.6,1427.0 1057.6,1426.4 1059.6,1425.8 1061.6,1425.2 1063.6,1424.7 1065.6,1424.1 1067.6,1423.6 1069.6,1423.0 1071.6,1422.5 1073.6,1422.0 1075.6,1421.6 1077.6,1421.1 1079.6,1420.7 1081.6,1420.3 1083.6,1419.9 1085.6,1419.5 1087.6,1419.2 1089.6,1418.9 1091.6,1418.6 1093.6,1418.4 1095.6,1418.1 1097.6,1417.9 1099.6,1417.8 1101.6,1417.6 1103.6,1417.5 1105.6,1417.4 1107.6,1417.4 1109.6,1417.4 1111.6,1417.4 1113.6,1417.5 1115.6,1417.6 1117.6,1417.7 1119.6,1417.9 1121.6,1418.1 1123.6,1418.3 1125.6,1418.6 1127.6,1418.9 1129.6,1419.2 1131.6,1419.6 1133.6,1420.0 1135.6,1420.4 1137.6,1420.9 1139.6,1421.3 1141.6,1421.8 1143.6,1422.4 1145.6,1422.9 1147.6,1423.5 1149.6,1424.1 1151.6,1424.8 1153.6,1425.4 1155.6,1426.1 1157.6,1426.8 1159.6,1427.6 1161.6,1428.3 1163.6,1429.1 1165.6,1429.9 1167.6,1430.7 1169.6,1431.5 1171.6,1432.4 1173.6,1433.3 1175.6,1434.2 1177.6,1435.1 1179.6,1436.0 1181.6,1436.9 1183.6,1437.9 1185.6,1438.8 1187.6,1439.8 1189.6,1440.8 1191.6,1441.7 1193.6,1442.7 1195.6,1443.7 1197.6,1444.7 1199.6,1445.7 1201.6,1446.7 1203.6,1447.7 1205.6,1448.7 1207.6,1449.6 1209.6,1450.6 1211.6,1451.6 1213.6,1452.6 1215.6,1453.5 1217.6,1454.5 1219.6,1455.4 1221.6,1456.3 1223.6,1457.2 1225.6,1458.1 1227.6,1459.0 1229.6,1459.9 1231.6,1460.7 1233.6,1461.5 1235.6,1462.3 1237.6,1463.1 1239.6,1463.9 1241.6,1464.6 1243.6,1465.4 1245.6,1466.1 1247.6,1466.8 1249.6,1467.4 1251.6,1468.1 1253.6,1468.7 1255.6,1469.3 1257.6,1469.9 1259.6,1470.5 1261.6,1471.1 1263.6,1471.6 1265.6,1472.1 1267.6,1472.6 1269.6,1473.1 1271.6,1473.5 1273.6,1474.0 1275.6,1474.4 1277.6,1474.8 1279.6,1475.2 1281.6,1475.5 1283.6,1475.9 1285.6,1476.2 1287.6,1476.5 1289.6,1476.8 1291.6,1477.1 1293.6,1477.3 1295.6,1477.6 1297.6,1477.8 1299.6,1478.0 1301.6,1478.3 1303.6,1478.5 1305.6,1478.7 1307.6,1478.8 1309.6,1479.0 1311.6,1479.2 1313.6,1479.3 1315.6,1479.5 1317.6,1479.6 1319.6,1479.7 1321.6,1479.9 1323.6,1480.0 1325.6,1480.1 1327.6,1480.2 1329.6,1480.3 1331.6,1480.4 1333.6,1480.5 1335.6,1480.6 1337.6,1480.7 1339.6,1480.8 1341.6,1480.9 1343.6,1481.0 1345.6,1481.1 1347.6,1481.2 1349.6,1481.2 1351.6,1481.3 1353.6,1481.4 1355.6,1481.5 1357.6,1481.6 1359.6,1481.7 1361.6,1481.8 1363.6,1481.9 1365.6,1482.0 1367.6,1482.1 1369.6,1482.2 1371.6,1482.3 1373.6,1482.4 1375.6,1482.5 1377.6,1482.6 1379.6,1482.7 1381.6,1482.8 1383.6,1482.9 1385.6,1483.0 1387.6,1483.1 1389.6,1483.2 1391.6,1483.3 1393.6,1483.4 1395.6,1483.5 1397.6,1483.6 1399.6,1483.7 1401.6,1483.8 1403.6,1483.9 1405.6,1484.0 1407.6,1484.1 1409.6,1484.2 1411.6,1484.3 1413.6,1484.4 1415.6,1484.5 1417.6,1484.7 1419.6,1484.8 1421.6,1484.9 1423.6,1485.0 1425.6,1485.1 1427.6,1485.2 1429.6,1485.3 1431.6,1485.4 1433.6,1485.5 1435.6,1485.6 1437.6,1485.7 1439.6,1485.8 1441.6,1485.9 1443.6,1486.0 1445.6,1486.1 1447.6,1486.2 1449.6,1486.3 1451.6,1486.4 1453.6,1486.5 1455.6,1486.6 1457.6,1486.7 1459.6,1486.8 1461.6,1486.9 1463.6,1487.0 1465.6,1487.2 1467.6,1487.3 1469.6,1487.4 1471.6,1487.5 1473.6,1487.6 1475.6,1487.7 1477.6,1487.8 1479.6,1487.9 1481.6,1488.0 1483.6,1488.0 1485.6,1488.1 1487.6,1488.2 1489.6,1488.3 1491.6,1488.4 1493.6,1488.5 1495.6,1488.6 1497.6,1488.7 1499.6,1488.8 1501.6,1488.9 1505.6,1489.1 1509.6,1489.3 1513.6,1489.5 1517.6,1489.6 1521.6,1489.8 1525.6,1490.0 1529.6,1490.2 1533.6,1490.3 1537.6,1490.5 1541.6,1490.7 1545.6,1490.8 1549.6,1491.0 1553.6,1491.2 1557.6,1491.3 1561.6,1491.5 1565.6,1491.6 1569.6,1491.8 1573.6,1491.9 1577.6,1492.1 1581.6,1492.2 1585.6,1492.4 1589.6,1492.5 1593.6,1492.6 1597.6,1492.8 1601.6,1492.9 1605.6,1493.1 1609.6,1493.2 1613.6,1493.3 1617.6,1493.5 1621.6,1493.6 1625.6,1493.7 1629.6,1493.8 1633.6,1493.9 1637.6,1494.1 1641.6,1494.2 1645.6,1494.3 1649.6,1494.4 1653.6,1494.5 1657.6,1494.6 1661.6,1494.8 1665.6,1494.9 1669.6,1495.0 1673.6,1495.1 1677.6,1495.2 1681.6,1495.3 1685.6,1495.4 1689.6,1495.5 1693.6,1495.6 1697.6,1495.7 1701.6,1495.8 1705.6,1495.8 1709.6,1495.9 1713.6,1496.0 1717.6,1496.1 1721.6,1496.2 1725.6,1496.3 1729.6,1496.4 1733.6,1496.4 1737.6,1496.5 1741.6,1496.6 1745.6,1496.7 1749.6,1496.7 1753.6,1496.8 1757.6,1496.9 1761.6,1497.0 1765.6,1497.0 1769.6,1497.1 1773.6,1497.2 1777.6,1497.2 1781.6,1497.3 1785.6,1497.3 1789.6,1497.4 1793.6,1497.5 1797.6,1497.5 1801.6,1497.6 1805.6,1497.6 1809.6,1497.7 1813.6,1497.7 1817.6,1497.8 1821.6,1497.8 1825.6,1497.9 1829.6,1497.9 1833.6,1498.0 1837.6,1498.0 1841.6,1498.1 1845.6,1498.1 1849.6,1498.1 1853.6,1498.2 1857.6,1498.2 1861.6,1498.2 1865.6,1498.3 1869.6,1498.3 1873.6,1498.3 1877.6,1498.4 1881.6,1498.4 1885.6,1498.4 1889.6,1498.5 1893.6,1498.5 1897.6,1498.5 1901.6,1498.5 1905.6,1498.6 1909.6,1498.6 1913.6,1498.6 1917.6,1498.6 1921.6,1498.7 1925.6,1498.7 1929.6,1498.7 1933.6,1498.7 1937.6,1498.7 1941.6,1498.7 1945.6,1498.7 1949.6,1498.8 1953.6,1498.8 1957.6,1498.8 1961.6,1498.8 1965.6,1498.8 1969.6,1498.8 1973.6,1498.8 1977.6,1498.8 1981.6,1498.8 1985.6,1498.8 1989.6,1498.8 1993.6,1498.8 1997.6,1498.8 2001.6,1498.8 2005.6,1498.8 2009.6,1498.8 2013.6,1498.8 2017.6,1498.8 2021.6,1498.8 2025.6,1498.8 2029.6,1498.8 2033.6,1498.8 2037.6,1498.8 2041.6,1498.8 2045.6,1498.8 2049.6,1498.8 2053.6,1498.8 2057.6,1498.8 2061.6,1498.8 2065.6,1498.8 2069.6,1498.7 2073.6,1498.7 2077.6,1498.7 2081.6,1498.7 2085.6,1498.7 2089.6,1498.7 2093.6,1498.7 2097.6,1498.7 2101.6,1498.6 2105.6,1498.6 2109.6,1498.6 2113.6,1498.6 2117.6,1498.6 2121.6,1498.6 2125.6,1498.5 2129.6,1498.5 2133.6,1498.5 2137.6,1498.5 2141.6,1498.5 2145.6,1498.4 2149.6,1498.4 2153.6,1498.4 2157.6,1498.4 2161.6,1498.3 2165.6,1498.3 2169.6,1498.3 2173.6,1498.3 2177.6,1498.3 2181.6,1498.2 2185.6,1498.2 2189.6,1498.2 2193.6,1498.2 2197.6,1498.1 2201.6,1498.1 2205.6,1498.1 2209.6,1498.0 2213.6,1498.0 2217.6,1498.0 2221.6,1498.0 2225.6,1497.9 2229.6,1497.9 2233.6,1497.9 2237.6,1497.9 2241.6,1497.8 2245.6,1497.8 2249.6,1497.8 2253.6,1497.7 2257.6,1497.7 2261.6,1497.7 2265.6,1497.7 2269.6,1497.6 2273.6,1497.6 2277.6,1497.6 2281.6,1497.5 2285.6,1497.5 2289.6,1497.5 2293.6,1497.5 2297.6,1497.4 2301.6,1497.4 2305.6,1497.4 2309.6,1497.3 2313.6,1497.3 2317.6,1497.3 2321.6,1497.3 2325.6,1497.2 2329.6,1497.2 2333.6,1497.2 2337.6,1497.1 2341.6,1497.1 2345.6,1497.1 2349.6,1497.1 2353.6,1497.0 2357.6,1497.0 2361.6,1497.0 2362.0,1497.0" stroke="#0000ff"/>
<path d="M329.6,1405.0 331.6,1407.1 333.6,1409.3 335.6,1411.6 337.6,1413.9 339.6,1416.3 341.6,1418.8 343.6,1421.2 345.6,1423.8 347.6,1426.3 349.6,1428.9 351.6,1431.4 353.6,1434.0 355.6,1436.6 357.6,1439.2 359.6,1441.8 361.6,1444.3 363.6,1446.8 365.6,1449.3 367.6,1451.8 369.6,1454.2 371.6,1456.5 373.6,1458.8 375.6,1461.1 377.6,1463.2 379.6,1465.3 381.6,1467.3 383.6,1469.2 385.6,1471.0 387.6,1472.8 389.6,1474.4 391.6,1476.0 393.6,1477.5 395.6,1478.9 397.6,1480.3 399.6,1481.6 401.6,1482.8 403.6,1484.0 405.6,1485.0 407.6,1486.1 409.6,1487.0 411.6,1487.9 413.6,1488.7 415.6,1489.5 417.6,1490.2 419.6,1490.8 421.6,1491.4 423.6,1492.0 425.6,1492.5 427.6,1492.9 429.6,1493.3 431.6,1493.6 433.6,1493.9 435.6,1494.2 437.6,1494.4 439.6,1494.6 441.6,1494.7 443.6,1494.8 445.6,1494.8 447.6,1494.9 449.6,1494.8 451.6,1494.8 453.6,1494.7 455.6,1494.6 457.6,1494.5 459.6,1494.3 461.6,1494.1 463.6,1493.9 465.6,1493.6 467.6,1493.3 469.6,1492.9 471.6,1492.5 473.6,1492.1 475.6,1491.6 477.6,1491.1 479.6,1490.5 481.6,1489.9 483.6,1489.2 485.6,1488.5 487.6,1487.7 489.6,1486.9 491.6,1486.0 493.6,1485.0 495.6,1484.0 497.6,1482.9 499.6,1481.8 501.6,1480.6 503.6,1479.3 505.6,1478.0 507.6,1476.7 509.6,1475.3 511.6,1473.9 513.6,1472.4 515.6,1471.0 517.6,1469.6 519.6,1468.1 521.6,1466.7 523.6,1465.3 525.6,1463.9 527.6,1462.5 529.6,1461.1 531.6,1459.8 533.6,1458.6 535.6,1457.4 537.6,1456.2 539.6,1455.0 541.6,1453.8 543.6,1452.7 545.6,1451.6 547.6,1450.6 549.6,1449.5 551.6,1448.5 553.6,1447.5 555.6,1446.5 557.6,1445.6 559.6,1444.6 561.6,1443.7 563.6,1442.7 565.6,1441.8 567.6,1440.9 569.6,1440.0 571.6,1439.1 573.6,1438.2 575.6,1437.3 577.6,1436.4 579.6,1435.5 581.6,1434.6 583.6,1433.7 585.6,1432.8 587.6,1431.9 589.6,1431.0 591.6,1430.1 593.6,1429.2 595.6,1428.4 597.6,1427.5 599.6,1426.7 601.6,1425.8 603.6,1425.0 605.6,1424.1 607.6,1423.3 609.6,1422.5 611.6,1421.7 613.6,1420.9 615.6,1420.1 617.6,1419.3 619.6,1418.5 621.6,1417.8 623.6,1417.0 625.6,1416.3 627.6,1415.6 629.6,1414.9 631.6,1414.2 633.6,1413.5 635.6,1412.8 637.6,1412.2 639.6,1411.5 641.6,1410.9 643.6,1410.3 645.6,1409.7 647.6,1409.1 649.6,1408.6 651.6,1408.0 653.6,1407.5 655.6,1407.0 657.6,1406.6 659.6,1406.2 661.6,1405.9 663.6,1405.7 665.6,1405.6 667.6,1405.6 669.6,1405.7 671.6,1405.9 673.6,1406.2 675.6,1406.6 677.6,1407.0 679.6,1407.6 681.6,1408.3 683.6,1409.1 685.6,1409.9 687.6,1410.8 689.6,1411.8 691.6,1412.9 693.6,1414.1 695.6,1415.3 697.6,1416.6 699.6,1417.9 701.6,1419.3 703.6,1420.7 705.6,1422.2 707.6,1423.8 709.6,1425.4 711.6,1427.0 713.6,1428.7 715.6,1430.4 717.6,1432.1 719.6,1433.9 721.6,1435.7 723.6,1437.5 725.6,1439.3 727.6,1441.2 729.6,1443.1 731.6,1444.9 733.6,1446.8 735.6,1448.7 737.6,1450.5 739.6,1452.4 741.6,1454.3 743.6,1456.1 745.6,1458.0 747.6,1459.8 749.6,1461.6 751.6,1463.4 753.6,1465.1 755.6,1466.8 757.6,1468.5 759.6,1470.2 761.6,1471.8 763.6,1473.4 765.6,1474.9 767.6,1476.3 769.6,1477.8 771.6,1479.1 773.6,1480.4 775.6,1481.7 777.6,1482.9 779.6,1484.1 781.6,1485.2 783.6,1486.3 785.6,1487.3 787.6,1488.3 789.6,1489.2 791.6,1490.1 793.6,1491.0 795.6,1491.8 797.6,1492.5 799.6,1493.2 801.6,1493.9 803.6,1494.5 805.6,1495.1 807.6,1495.7 809.6,1496.2 811.6,1496.7 813.6,1497.1 815.6,1497.5 817.6,1497.8 819.6,1498.2 821.6,1498.4 823.6,1498.7 825.6,1498.9 827.6,1499.1 829.6,1499.2 831.6,1499.3 833.6,1499.4 835.6,1499.5 837.6,1499.5 839.6,1499.5 841.6,1499.4 843.6,1499.4 845.6,1499.3 847.6,1499.1 849.6,1499.0 851.6,1498.8 853.6,1498.6 855.6,1498.4 857.6,1498.1 859.6,1497.8 861.6,1497.5 863.6,1497.2 865.6,1496.8 867.6,1496.4 869.6,1496.0 871.6,1495.6 873.6,1495.2 875.6,1494.7 877.6,1494.3 879.6,1493.8 881.6,1493.2 883.6,1492.7 885.6,1492.2 887.6,1491.6 889.6,1491.0 891.6,1490.4 893.6,1489.8 895.6,1489.1 897.6,1488.5 899.6,1487.8 901.6,1487.1 903.6,1486.4 905.6,1485.6 907.6,1484.9 909.6,1484.1 911.6,1483.3 913.6,1482.5 915.6,1481.7 917.6,1480.8 919.6,1479.9 921.6,1479.1 923.6,1478.2 925.6,1477.2 927.6,1476.3 929.6,1475.3 931.6,1474.4 933.6,1473.4 935.6,1472.3 937.6,1471.3 939.6,1470.3 941.6,1469.2 943.6,1468.1 945.6,1467.0 947.6,1465.9 949.6,1464.8 951.6,1463.6 953.6,1462.4 955.6,1461.2 957.6,1460.0 959.6,1458.8 961.6,1457.5 963.6,1456.3 965.6,1455.0 967.6,1453.7 969.6,1452.4 971.6,1451.1 973.6,1449.7 975.6,1448.3 977.6,1446.9 979.6,1445.5 981.6,1444.1 983.6,1442.7 985.6,1441.2 987.6,1439.8 989.6,1438.3 991.6,1436.8 993.6,1435.3 995.6,1433.8 997.6,1432.3 999.6,1430.8 1001.6,1429.3 1003.6,1427.7 1005.6,1426.2 1007.6,1424.6 1009.6,1423.1 1011.6,1421.5 1013.6,1420.0 1015.6,1418.4 1017.6,1416.8 1019.6,1415.3 1021.6,1413.7 1023.6,1412.2 1025.6,1410.6 1027.6,1409.0 1029.6,1407.5 1031.6,1405.9 1033.6,1404.4 1035.6,1402.8 1037.6,1401.3 1039.6,1399.8 1041.6,1398.2 1043.6,1396.7 1045.6,1395.2 1047.6,1393.7 1049.6,1392.3 1051.6,1390.9 1053.6,1389.4 1055.6,1388.1 1057.6,1386.7 1059.6,1385.4 1061.6,1384.1 1063.6,1382.9 1065.6,1381.7 1067.6,1380.6 1069.6,1379.5 1071.6,1378.5 1073.6,1377.5 1075.6,1376.6 1077.6,1375.8 1079.6,1375.0 1081.6,1374.3 1083.6,1373.7 1085.6,1373.1 1087.6,1372.6 1089.6,1372.1 1091.6,1371.7 1093.6,1371.3 1095.6,1371.0 1097.6,1370.7 1099.6,1370.4 1101.6,1370.2 1103.6,1370.0 1105.6,1369.8 1107.6,1369.7 1109.6,1369.6 1111.6,1369.6 1113.6,1369.6 1115.6,1369.7 1117.6,1369.8 1119.6,1370.0 1121.6,1370.2 1123.6,1370.5 1125.6,1370.8 1127.6,1371.2 1129.6,1371.7 1131.6,1372.2 1133.6,1372.8 1135.6,1373.4 1137.6,1374.2 1139.6,1375.0 1141.6,1375.8 1143.6,1376.8 1145.6,1377.8 1147.6,1378.9 1149.6,1380.0 1151.6,1381.2 1153.6,1382.4 1155.6,1383.7 1157.6,1385.1 1159.6,1386.4 1161.6,1387.8 1163.6,1389.3 1165.6,1390.8 1167.6,1392.2 1169.6,1393.8 1171.6,1395.3 1173.6,1396.8 1175.6,1398.4 1177.6,1399.9 1179.6,1401.5 1181.6,1403.1 1183.6,1404.7 1185.6,1406.3 1187.6,1407.9 1189.6,1409.6 1191.6,1411.3 1193.6,1413.0 1195.6,1414.7 1197.6,1416.5 1199.6,1418.3 1201.6,1420.2 1203.6,1422.0 1205.6,1423.9 1207.6,1425.7 1209.6,1427.6 1211.6,1429.5 1213.6,1431.3 1215.6,1433.2 1217.6,1435.1 1219.6,1436.9 1221.6,1438.7 1223.6,1440.5 1225.6,1442.3 1227.6,1444.0 1229.6,1445.7 1231.6,1447.4 1233.6,1449.0 1235.6,1450.6 1237.6,1452.1 1239.6,1453.6 1241.6,1455.1 1243.6,1456.6 1245.6,1457.9 1247.6,1459.3 1249.6,1460.6 1251.6,1461.9 1253.6,1463.1 1255.6,1464.3 1257.6,1465.4 1259.6,1466.5 1261.6,1467.5 1263.6,1468.5 1265.6,1469.5 1267.6,1470.4 1269.6,1471.2 1271.6,1472.0 1273.6,1472.8 1275.6,1473.5 1277.6,1474.2 1279.6,1474.8 1281.6,1475.4 1283.6,1475.9 1285.6,1476.4 1287.6,1476.9 1289.6,1477.4 1291.6,1477.8 1293.6,1478.2 1295.6,1478.5 1297.6,1478.8 1299.6,1479.1 1301.6,1479.4 1303.6,1479.7 1305.6,1479.9 1307.6,1480.2 1309.6,1480.4 1311.6,1480.6 1313.6,1480.7 1315.6,1480.9 1317.6,1481.1 1319.6,1481.2 1321.6,1481.3 1323.6,1481.5 1325.6,1481.6 1327.6,1481.8 1329.6,1481.9 1331.6,1482.0 1333.6,1482.2 1335.6,1482.3 1337.6,1482.4 1339.6,1482.6 1341.6,1482.7 1343.6,1482.8 1345.6,1483.0 1347.6,1483.1 1349.6,1483.2 1351.6,1483.4 1353.6,1483.5 1355.6,1483.6 1357.6,1483.8 1359.6,1483.9 1361.6,1484.0 1363.6,1484.2 1365.6,1484.3 1367.6,1484.4 1369.6,1484.6 1371.6,1484.7 1373.6,1484.8 1375.6,1485.0 1377.6,1485.1 1379.6,1485.2 1381.6,1485.4 1383.6,1485.5 1385.6,1485.6 1387.6,1485.8 1389.6,1485.9 1391.6,1486.0 1393.6,1486.2 1395.6,1486.3 1397.6,1486.4 1399.6,1486.6 1401.6,1486.7 1403.6,1486.8 1405.6,1487.0 1407.6,1487.1 1409.6,1487.2 1411.6,1487.4 1413.6,1487.5 1415.6,1487.6 1417.6,1487.8 1419.6,1487.9 1421.6,1488.0 1423.6,1488.2 1425.6,1488.3 1427.6,1488.4 1429.6,1488.6 1431.6,1488.7 1433.6,1488.8 1435.6,1489.0 1437.6,1489.1 1439.6,1489.2 1441.6,1489.4 1443.6,1489.5 1445.6,1489.7 1447.6,1489.8 1449.6,1489.9 1451.6,1490.1 1453.6,1490.2 1455.6,1490.3 1457.6,1490.5 1459.6,1490.6 1461.6,1490.7 1463.6,1490.9 1465.6,1491.0 1467.6,1491.1 1469.6,1491.3 1471.6,1491.4 1473.6,1491.5 1475.6,1491.7 1477.6,1491.8 1479.6,1491.9 1481.6,1492.1 1483.6,1492.2 1485.6,1492.3 1487.6,1492.5 1489.6,1492.6 1491.6,1492.7 1493.6,1492.8 1495.6,1493.0 1497.6,1493.1 1499.6,1493.2 1501.6,1493.4 1505.6,1493.6 1509.6,1493.8 1513.6,1494.1 1517.6,1494.3 1521.6,1494.6 1525.6,1494.8 1529.6,1495.0 1533.6,1495.2 1537.6,1495.4 1541.6,1495.6 1545.6,1495.8 1549.6,1496.0 1553.6,1496.2 1557.6,1496.4 1561.6,1496.6 1565.6,1496.7 1569.6,1496.9 1573.6,1497.1 1577.6,1497.2 1581.6,1497.3 1585.6,1497.5 1589.6,1497.6 1593.6,1497.7 1597.6,1497.8 1601.6,1497.9 1605.6,1498.0 1609.6,1498.1 1613.6,1498.1 1617.6,1498.2 1621.6,1498.2 1625.6,1498.3 1629.6,1498.3 1633.6,1498.3 1637.6,1498.4 1641.6,1498.4 1645.6,1498.4 1649.6,1498.4 1653.6,1498.4 1657.6,1498.4 1661.6,1498.4 1665.6,1498.3 1669.6,1498.3 1673.6,1498.3 1677.6,1498.3 1681.6,1498.2 1685.6,1498.2 1689.6,1498.1 1693.6,1498.1 1697.6,1498.0 1701.6,1498.0 1705.6,1497.9 1709.6,1497.9 1713.6,1497.8 1717.6,1497.8 1721.6,1497.7 1725.6,1497.7 1729.6,1497.6 1733.6,1497.6 1737.6,1497.5 1741.6,1497.4 1745.6,1497.4 1749.6,1497.3 1753.6,1497.3 1757.6,1497.2 1761.6,1497.2 1765.6,1497.1 1769.6,1497.1 1773.6,1497.0 1777.6,1497.0 1781.6,1497.0 1785.6,1496.9 1789.6,1496.9 1793.6,1496.9 1797.6,1496.9 1801.6,1496.9 1805.6,1496.9 1809.6,1496.9 1813.6,1496.9 1817.6,1496.9 1821.6,1496.9 1825.6,1496.9 1829.6,1496.9 1833.6,1496.9 1837.6,1497.0 1841.6,1497.0 1845.6,1497.0 1849.6,1497.1 1853.6,1497.1 1857.6,1497.2 1861.6,1497.2 1865.6,1497.3 1869.6,1497.3 1873.6,1497.4 1877.6,1497.4 1881.6,1497.5 1885.6,1497.6 1889.6,1497.6 1893.6,1497.7 1897.6,1497.8 1901.6,1497.8 1905.6,1497.9 1909.6,1498.0 1913.6,1498.1 1917.6,1498.1 1921.6,1498.2 1925.6,1498.3 1929.6,1498.4 1933.6,1498.4 1937.6,1498.5 1941.6,1498.6 1945.6,1498.7 1949.6,1498.7 1953.6,1498.8 1957.6,1498.9 1961.6,1499.0 1965.6,1499.0 1969.6,1499.1 1973.6,1499.2 1977.6,1499.2 1981.6,1499.3 1985.6,1499.4 1989.6,1499.4 1993.6,1499.5 1997.6,1499.6 2001.6,1499.6 2005.6,1499.7 2009.6,1499.7 2013.6,1499.8 2017.6,1499.8 2021.6,1499.8 2025.6,1499.9 2029.6,1499.9 2033.6,1500.0 2037.6,1500.0 2041.6,1500.0 2045.6,1500.0 2049.6,1500.0 2053.6,1500.0 2057.6,1500.1 2061.6,1500.1 2065.6,1500.0 2069.6,1500.0 2073.6,1500.0 2077.6,1500.0 2081.6,1500.0 2085.6,1500.0 2089.6,1499.9 2093.6,1499.9 2097.6,1499.8 2101.6,1499.8 2105.6,1499.7 2109.6,1499.6 2113.6,1499.6 2117.6,1499.5 2121.6,1499.4 2125.6,1499.3 2129.6,1499.2 2133.6,1499.1 2137.6,1499.0 2141.6,1498.8 2145.6,1498.7 2149.6,1498.6 2153.6,1498.4 2157.6,1498.2 2161.6,1498.1 2165.6,1497.9 2169.6,1497.7 2173.6,1497.5 2177.6,1497.3 2181.6,1497.1 2185.6,1496.9 2189.6,1496.6 2193.6,1496.4 2197.6,1496.2 2201.6,1495.9 2205.6,1495.6 2209.6,1495.3 2213.6,1495.0 2217.6,1494.8 2221.6,1494.5 2225.6,1494.2 2229.6,1493.9 2233.6,1493.6 2237.6,1493.3 2241.6,1493.0 2245.6,1492.7 2249.6,1492.5 2253.6,1492.2 2257.6,1492.0 2261.6,1491.8 2265.6,1491.6 2269.6,1491.4 2273.6,1491.2 2277.6,1491.0 2281.6,1490.9 2285.6,1490.8 2289.6,1490.7 2293.6,1490.7 2297.6,1490.7 2301.6,1490.7 2305.6,1490.7 2309.6,1490.8 2313.6,1490.9 2317.6,1491.1 2321.6,1491.3 2325.6,1491.6 2329.6,1491.8 2333.6,1492.2 2337.6,1492.6 2341.6,1493.0 2345.6,1493.5 2349.6,1494.0 2353.6,1494.6 2357.6,1495.2 2361.6,1495.9 2362.0,1496.0" stroke="#008080"/>
<path d="M329.6,826.6 331.6,822.2 333.6,821.1 335.6,823.1 337.6,827.9 339.6,835.2 341.6,844.9 343.6,856.6 345.6,870.1 347.6,885.1 349.6,901.5 351.6,919.0 353.6,937.2 355.6,956.0 357.6,975.2 359.6,994.4 361.6,1013.5 363.6,1032.1 365.6,1050.1 367.6,1067.3 369.6,1083.9 371.6,1099.7 373.6,1114.9 375.6,1129.4 377.6,1143.3 379.6,1156.6 381.6,1169.3 383.6,1181.4 385.6,1193.0 387.6,1204.0 389.6,1214.5 391.6,1224.5 393.6,1234.0 395.6,1243.1 397.6,1251.7 399.6,1259.9 401.6,1267.7 403.6,1275.1 405.6,1282.1 407.6,1288.8 409.6,1295.2 411.6,1301.2 413.6,1307.0 415.6,1312.4 417.6,1317.6 419.6,1322.4 421.6,1327.0 423.6,1331.3 425.6,1335.3 427.6,1339.1 429.6,1342.6 431.6,1345.9 433.6,1348.9 435.6,1351.7 437.6,1354.2 439.6,1356.5 441.6,1358.6 443.6,1360.5 445.6,1362.1 447.6,1363.6 449.6,1364.8 451.6,1365.9 453.6,1366.8 455.6,1367.4 457.6,1367.9 459.6,1368.3 461.6,1368.4 463.6,1368.4 465.6,1368.3 467.6,1368.0 469.6,1367.6 471.6,1367.0 473.6,1366.3 475.6,1365.5 477.6,1364.5 479.6,1363.4 481.6,1362.3 483.6,1361.0 485.6,1359.6 487.6,1358.2 489.6,1356.6 491.6,1355.0 493.6,1353.3 495.6,1351.6 497.6,1349.7 499.6,1347.9 501.6,1346.0 503.6,1344.1 505.6,1342.1 507.6,1340.1 509.6,1338.1 511.6,1336.2 513.6,1334.2 515.6,1332.2 517.6,1330.2 519.6,1328.3 521.6,1326.4 523.6,1324.5 525.6,1322.7 527.6,1320.9 529.6,1319.2 531.6,1317.6 533.6,1316.0 535.6,1314.6 537.6,1313.2 539.6,1311.9 541.6,1310.7 543.6,1309.6 545.6,1308.7 547.6,1307.8 549.6,1307.1 551.6,1306.5 553.6,1306.0 555.6,1305.6 557.6,1305.3 559.6,1305.1 561.6,1305.0 563.6,1304.9 565.6,1304.8 567.6,1304.8 569.6,1304.9 571.6,1305.0 573.6,1305.1 575.6,1305.2 577.6,1305.4 579.6,1305.5 581.6,1305.7 583.6,1305.8 585.6,1305.9 587.6,1306.0 589.6,1306.0 591.6,1306.0 593.6,1306.0 595.6,1305.9 597.6,1305.9 599.6,1305.8 601.6,1305.7 603.6,1305.6 605.6,1305.5 607.6,1305.3 609.6,1305.2 611.6,1305.1 613.6,1304.9 615.6,1304.8 617.6,1304.7 619.6,1304.5 621.6,1304.4 623.6,1304.3 625.6,1304.2 627.6,1304.2 629.6,1304.1 631.6,1304.1 633.6,1304.1 635.6,1304.1 637.6,1304.1 639.6,1304.2 641.6,1304.3 643.6,1304.5 645.6,1304.7 647.6,1304.9 649.6,1305.2 651.6,1305.5 653.6,1305.9 655.6,1306.3 657.6,1306.8 659.6,1307.3 661.6,1307.9 663.6,1308.6 665.6,1309.3 667.6,1310.1 669.6,1310.9 671.6,1311.9 673.6,1312.9 675.6,1313.9 677.6,1315.1 679.6,1316.3 681.6,1317.7 683.6,1319.1 685.6,1320.6 687.6,1322.2 689.6,1323.8 691.6,1325.6 693.6,1327.5 695.6,1329.5 697.6,1331.6 699.6,1333.8 701.6,1336.0 703.6,1338.4 705.6,1340.9 707.6,1343.4 709.6,1346.0 711.6,1348.7 713.6,1351.4 715.6,1354.2 717.6,1357.0 719.6,1359.9 721.6,1362.8 723.6,1365.7 725.6,1368.7 727.6,1371.7 729.6,1374.8 731.6,1377.8 733.6,1380.8 735.6,1383.9 737.6,1386.9 739.6,1389.9 741.6,1393.0 743.6,1396.0 745.6,1398.9 747.6,1401.9 749.6,1404.8 751.6,1407.6 753.6,1410.4 755.6,1413.2 757.6,1415.9 759.6,1418.5 761.6,1421.1 763.6,1423.6 765.6,1426.0 767.6,1428.4 769.6,1430.6 771.6,1432.8 773.6,1434.8 775.6,1436.8 777.6,1438.7 779.6,1440.5 781.6,1442.3 783.6,1443.9 785.6,1445.5 787.6,1447.0 789.6,1448.5 791.6,1449.8 793.6,1451.1 795.6,1452.3 797.6,1453.5 799.6,1454.6 801.6,1455.6 803.6,1456.6 805.6,1457.4 807.6,1458.3 809.6,1459.0 811.6,1459.7 813.6,1460.4 815.6,1461.0 817.6,1461.5 819.6,1462.0 821.6,1462.5 823.6,1462.8 825.6,1463.2 827.6,1463.5 829.6,1463.7 831.6,1463.9 833.6,1464.0 835.6,1464.2 837.6,1464.2 839.6,1464.3 841.6,1464.2 843.6,1464.2 845.6,1464.1 847.6,1464.0 849.6,1463.9 851.6,1463.7 853.6,1463.5 855.6,1463.3 857.6,1463.0 859.6,1462.7 861.6,1462.4 863.6,1462.1 865.6,1461.7 867.6,1461.3 869.6,1460.9 871.6,1460.5 873.6,1460.0 875.6,1459.5 877.6,1459.0 879.6,1458.5 881.6,1457.9 883.6,1457.3 885.6,1456.7 887.6,1456.1 889.6,1455.5 891.6,1454.8 893.6,1454.1 895.6,1453.3 897.6,1452.6 899.6,1451.8 901.6,1451.0 903.6,1450.2 905.6,1449.3 907.6,1448.5 909.6,1447.6 911.6,1446.7 913.6,1445.7 915.6,1444.8 917.6,1443.8 919.6,1442.7 921.6,1441.7 923.6,1440.6 925.6,1439.6 927.6,1438.5 929.6,1437.3 931.6,1436.2 933.6,1435.0 935.6,1433.8 937.6,1432.6 939.6,1431.3 941.6,1430.0 943.6,1428.7 945.6,1427.4 947.6,1426.1 949.6,1424.7 951.6,1423.3 953.6,1421.9 955.6,1420.5 957.6,1419.0 959.6,1417.5 961.6,1416.0 963.6,1414.5 965.6,1413.0 967.6,1411.4 969.6,1409.8 971.6,1408.1 973.6,1406.5 975.6,1404.8 977.6,1403.1 979.6,1401.3 981.6,1399.6 983.6,1397.8 985.6,1395.9 987.6,1394.1 989.6,1392.2 991.6,1390.2 993.6,1388.3 995.6,1386.3 997.6,1384.3 999.6,1382.2 1001.6,1380.1 1003.6,1378.0 1005.6,1375.8 1007.6,1373.6 1009.6,1371.4 1011.6,1369.1 1013.6,1366.8 1015.6,1364.5 1017.6,1362.2 1019.6,1359.8 1021.6,1357.4 1023.6,1355.0 1025.6,1352.7 1027.6,1350.3 1029.6,1347.9 1031.6,1345.5 1033.6,1343.1 1035.6,1340.8 1037.6,1338.4 1039.6,1336.1 1041.6,1333.8 1043.6,1331.6 1045.6,1329.4 1047.6,1327.2 1049.6,1325.1 1051.6,1323.0 1053.6,1321.0 1055.6,1319.0 1057.6,1317.1 1059.6,1315.3 1061.6,1313.6 1063.6,1311.9 1065.6,1310.3 1067.6,1308.7 1069.6,1307.2 1071.6,1305.8 1073.6,1304.5 1075.6,1303.3 1077.6,1302.1 1079.6,1301.0 1081.6,1300.0 1083.6,1299.0 1085.6,1298.2 1087.6,1297.4 1089.6,1296.7 1091.6,1296.0 1093.6,1295.4 1095.6,1295.0 1097.6,1294.6 1099.6,1294.2 1101.6,1294.0 1103.6,1293.8 1105.6,1293.7 1107.6,1293.7 1109.6,1293.8 1111.6,1293.9 1113.6,1294.1 1115.6,1294.5 1117.6,1294.8 1119.6,1295.3 1121.6,1295.9 1123.6,1296.5 1125.6,1297.2 1127.6,1298.0 1129.6,1298.9 1131.6,1299.9 1133.6,1301.0 1135.6,1302.1 1137.6,1303.3 1139.6,1304.6 1141.6,1306.0 1143.6,1307.5 1145.6,1309.1 1147.6,1310.7 1149.6,1312.4 1151.6,1314.2 1153.6,1316.1 1155.6,1318.0 1157.6,1320.0 1159.6,1322.0 1161.6,1324.1 1163.6,1326.2 1165.6,1328.4 1167.6,1330.7 1169.6,1333.0 1171.6,1335.3 1173.6,1337.7 1175.6,1340.0 1177.6,1342.5 1179.6,1344.9 1181.6,1347.4 1183.6,1349.9 1185.6,1352.4 1187.6,1355.0 1189.6,1357.5 1191.6,1360.1 1193.6,1362.6 1195.6,1365.2 1197.6,1367.8 1199.6,1370.3 1201.6,1372.9 1203.6,1375.4 1205.6,1378.0 1207.6,1380.5 1209.6,1383.0 1211.6,1385.5 1213.6,1388.0 1215.6,1390.4 1217.6,1392.8 1219.6,1395.2 1221.6,1397.5 1223.6,1399.8 1225.6,1402.0 1227.6,1404.2 1229.6,1406.4 1231.6,1408.5 1233.6,1410.5 1235.6,1412.5 1237.6,1414.4 1239.6,1416.3 1241.6,1418.1 1243.6,1419.8 1245.6,1421.5 1247.6,1423.1 1249.6,1424.7 1251.6,1426.3 1253.6,1427.8 1255.6,1429.4 1257.6,1431.0 1259.6,1432.7 1261.6,1434.4 1263.6,1436.1 1265.6,1437.9 1267.6,1439.6 1269.6,1441.2 1271.6,1442.8 1273.6,1444.3 1275.6,1445.7 1277.6,1446.9 1279.6,1448.1 1281.6,1449.1 1283.6,1450.1 1285.6,1451.0 1287.6,1451.8 1289.6,1452.5 1291.6,1453.2 1293.6,1453.8 1295.6,1454.3 1297.6,1454.8 1299.6,1455.3 1301.6,1455.7 1303.6,1456.0 1305.6,1456.4 1307.6,1456.7 1309.6,1457.0 1311.6,1457.3 1313.6,1457.6 1315.6,1457.9 1317.6,1458.2 1319.6,1458.5 1321.6,1458.8 1323.6,1459.1 1325.6,1459.4 1327.6,1459.7 1329.6,1460.0 1331.6,1460.3 1333.6,1460.7 1335.6,1461.0 1337.6,1461.3 1339.6,1461.6 1341.6,1461.9 1343.6,1462.2 1345.6,1462.5 1347.6,1462.8 1349.6,1463.1 1351.6,1463.5 1353.6,1463.8 1355.6,1464.1 1357.6,1464.4 1359.6,1464.7 1361.6,1465.0 1363.6,1465.3 1365.6,1465.6 1367.6,1466.0 1369.6,1466.3 1371.6,1466.6 1373.6,1466.9 1375.6,1467.2 1377.6,1467.5 1379.6,1467.8 1381.6,1468.1 1383.6,1468.4 1385.6,1468.7 1387.6,1469.0 1389.6,1469.3 1391.6,1469.6 1393.6,1469.9 1395.6,1470.2 1397.6,1470.5 1399.6,1470.8 1401.6,1471.1 1403.6,1471.4 1405.6,1471.7 1407.6,1472.0 1409.6,1472.2 1411.6,1472.5 1413.6,1472.8 1415.6,1473.1 1417.6,1473.3 1419.6,1473.6 1421.6,1473.9 1423.6,1474.2 1425.6,1474.4 1427.6,1474.7 1429.6,1474.9 1431.6,1475.2 1433.6,1475.4 1435.6,1475.7 1437.6,1475.9 1439.6,1476.2 1441.6,1476.4 1443.6,1476.7 1445.6,1476.9 1447.6,1477.1 1449.6,1477.3 1451.6,1477.6 1453.6,1477.8 1455.6,1478.0 1457.6,1478.2 1459.6,1478.4 1461.6,1478.6 1463.6,1478.8 1465.6,1479.0 1467.6,1479.2 1469.6,1479.4 1471.6,1479.6 1473.6,1479.8 1475.6,1479.9 1477.6,1480.1 1479.6,1480.3 1481.6,1480.5 1483.6,1480.6 1485.6,1480.8 1487.6,1481.0 1489.6,1481.1 1491.6,1481.3 1493.6,1481.4 1495.6,1481.6 1497.6,1481.7 1499.6,1481.9 1501.6,1482.0 1505.6,1482.3 1509.6,1482.6 1513.6,1482.8 1517.6,1483.0 1521.6,1483.3 1525.6,1483.5 1529.6,1483.7 1533.6,1483.9 1537.6,1484.1 1541.6,1484.3 1545.6,1484.4 1549.6,1484.6 1553.6,1484.8 1557.6,1484.9 1561.6,1485.0 1565.6,1485.2 1569.6,1485.3 1573.6,1485.4 1577.6,1485.5 1581.6,1485.6 1585.6,1485.7 1589.6,1485.8 1593.6,1485.8 1597.6,1485.9 1601.6,1485.9 1605.6,1486.0 1609.6,1486.0 1613.6,1486.1 1617.6,1486.1 1621.6,1486.1 1625.6,1486.2 1629.6,1486.2 1633.6,1486.2 1637.6,1486.2 1641.6,1486.2 1645.6,1486.2 1649.6,1486.2 1653.6,1486.2 1657.6,1486.2 1661.6,1486.2 1665.6,1486.1 1669.6,1486.1 1673.6,1486.1 1677.6,1486.0 1681.6,1486.0 1685.6,1486.0 1689.6,1485.9 1693.6,1485.9 1697.6,1485.9 1701.6,1485.8 1705.6,1485.8 1709.6,1485.7 1713.6,1485.7 1717.6,1485.6 1721.6,1485.6 1725.6,1485.5 1729.6,1485.5 1733.6,1485.4 1737.6,1485.4 1741.6,1485.3 1745.6,1485.3 1749.6,1485.2 1753.6,1485.2 1757.6,1485.1 1761.6,1485.1 1765.6,1485.0 1769.6,1485.0 1773.6,1484.9 1777.6,1484.9 1781.6,1484.9 1785.6,1484.8 1789.6,1484.8 1793.6,1484.8 1797.6,1484.7 1801.6,1484.7 1805.6,1484.7 1809.6,1484.7 1813.6,1484.7 1817.6,1484.7 1821.6,1484.7 1825.6,1484.7 1829.6,1484.7 1833.6,1484.7 1837.6,1484.7 1841.6,1484.7 1845.6,1484.7 1849.6,1484.7 1853.6,1484.7 1857.6,1484.7 1861.6,1484.8 1865.6,1484.8 1869.6,1484.8 1873.6,1484.8 1877.6,1484.9 1881.6,1484.9 1885.6,1484.9 1889.6,1485.0 1893.6,1485.0 1897.6,1485.1 1901.6,1485.1 1905.6,1485.2 1909.6,1485.2 1913.6,1485.3 1917.6,1485.3 1921.6,1485.4 1925.6,1485.4 1929.6,1485.5 1933.6,1485.6 1937.6,1485.6 1941.6,1485.7 1945.6,1485.7 1949.6,1485.8 1953.6,1485.9 1957.6,1486.0 1961.6,1486.0 1965.6,1486.1 1969.6,1486.2 1973.6,1486.2 1977.6,1486.3 1981.6,1486.4 1985.6,1486.5 1989.6,1486.6 1993.6,1486.6 1997.6,1486.7 2001.6,1486.8 2005.6,1486.9 2009.6,1487.0 2013.6,1487.1 2017.6,1487.1 2021.6,1487.2 2025.6,1487.3 2029.6,1487.4 2033.6,1487.5 2037.6,1487.6 2041.6,1487.7 2045.6,1487.7 2049.6,1487.8 2053.6,1487.9 2057.6,1488.0 2061.6,1488.1 2065.6,1488.2 2069.6,1488.3 2073.6,1488.4 2077.6,1488.5 2081.6,1488.5 2085.6,1488.6 2089.6,1488.7 2093.6,1488.8 2097.6,1488.9 2101.6,1489.0 2105.6,1489.1 2109.6,1489.1 2113.6,1489.2 2117.6,1489.3 2121.6,1489.4 2125.6,1489.5 2129.6,1489.6 2133.6,1489.6 2137.6,1489.7 2141.6,1489.8 2145.6,1489.9 2149.6,1489.9 2153.6,1490.0 2157.6,1490.1 2161.6,1490.2 2165.6,1490.2 2169.6,1490.3 2173.6,1490.4 2177.6,1490.4 2181.6,1490.5 2185.6,1490.6 2189.6,1490.6 2193.6,1490.7 2197.6,1490.7 2201.6,1490.8 2205.6,1490.9 2209.6,1490.9 2213.6,1491.0 2217.6,1491.0 2221.6,1491.1 2225.6,1491.1 2229.6,1491.1 2233.6,1491.2 2237.6,1491.2 2241.6,1491.3 2245.6,1491.3 2249.6,1491.3 2253.6,1491.4 2257.6,1491.4 2261.6,1491.4 2265.6,1491.4 2269.6,1491.4 2273.6,1491.5 2277.6,1491.5 2281.6,1491.5 2285.6,1491.5 2289.6,1491.5 2293.6,1491.5 2297.6,1491.5 2301.6,1491.5 2305.6,1491.5 2309.6,1491.5 2313.6,1491.5 2317.6,1491.4 2321.6,1491.4 2325.6,1491.4 2329.6,1491.4 2333.6,1491.3 2337.6,1491.3 2341.6,1491.3 2345.6,1491.2 2349.6,1491.2 2353.6,1491.1 2357.6,1491.1 2361.6,1491.0 2362.0,1491.0" stroke="#ff00ff"/>
<path d="M329.6,1174.5 331.6,1176.0 333.6,1178.3 335.6,1181.4 337.6,1185.2 339.6,1189.6 341.6,1194.7 343.6,1200.3 345.6,1206.3 347.6,1212.8 349.6,1219.6 351.6,1226.7 353.6,1234.1 355.6,1241.6 357.6,1249.2 359.6,1256.8 361.6,1264.4 363.6,1271.9 365.6,1279.3 367.6,1286.4 369.6,1293.4 371.6,1300.3 373.6,1306.9 375.6,1313.4 377.6,1319.7 379.6,1325.8 381.6,1331.8 383.6,1337.5 385.6,1343.2 387.6,1348.6 389.6,1353.8 391.6,1358.9 393.6,1363.9 395.6,1368.6 397.6,1373.2 399.6,1377.6 401.6,1381.9 403.6,1386.0 405.6,1389.9 407.6,1393.7 409.6,1397.3 411.6,1400.7 413.6,1404.0 415.6,1407.2 417.6,1410.1 419.6,1412.9 421.6,1415.6 423.6,1418.1 425.6,1420.5 427.6,1422.6 429.6,1424.7 431.6,1426.6 433.6,1428.3 435.6,1429.9 437.6,1431.3 439.6,1432.6 441.6,1433.8 443.6,1434.8 445.6,1435.6 447.6,1436.3 449.6,1436.9 451.6,1437.3 453.6,1437.6 455.6,1437.7 457.6,1437.7 459.6,1437.6 461.6,1437.3 463.6,1436.9 465.6,1436.3 467.6,1435.6 469.6,1434.7 471.6,1433.7 473.6,1432.5 475.6,1431.2 477.6,1429.7 479.6,1428.1 481.6,1426.2 483.6,1424.2 485.6,1422.0 487.6,1419.6 489.6,1417.1 491.6,1414.4 493.6,1411.5 495.6,1408.5 497.6,1405.5 499.6,1402.3 501.6,1399.1 503.6,1395.8 505.6,1392.4 507.6,1389.1 509.6,1385.8 511.6,1382.5 513.6,1379.2 515.6,1376.0 517.6,1372.9 519.6,1369.8 521.6,1366.8 523.6,1363.8 525.6,1360.9 527.6,1358.0 529.6,1355.2 531.6,1352.4 533.6,1349.7 535.6,1347.0 537.6,1344.4 539.6,1341.8 541.6,1339.3 543.6,1336.8 545.6,1334.4 547.6,1332.0 549.6,1329.7 551.6,1327.4 553.6,1325.1 555.6,1322.9 557.6,1320.7 559.6,1318.6 561.6,1316.5 563.6,1314.4 565.6,1312.4 567.6,1310.4 569.6,1308.5 571.6,1306.6 573.6,1304.7 575.6,1302.8 577.6,1301.0 579.6,1299.2 581.6,1297.4 583.6,1295.7 585.6,1294.0 587.6,1292.3 589.6,1290.6 591.6,1289.0 593.6,1287.4 595.6,1285.8 597.6,1284.3 599.6,1282.7 601.6,1281.2 603.6,1279.7 605.6,1278.2 607.6,1276.7 609.6,1275.3 611.6,1273.9 613.6,1272.4 615.6,1271.0 617.6,1269.6 619.6,1268.3 621.6,1266.9 623.6,1265.5 625.6,1264.2 627.6,1262.9 629.6,1261.5 631.6,1260.2 633.6,1258.9 635.6,1257.6 637.6,1256.3 639.6,1255.1 641.6,1253.9 643.6,1252.8 645.6,1251.8 647.6,1250.8 649.6,1249.9 651.6,1249.1 653.6,1248.4 655.6,1247.9 657.6,1247.4 659.6,1247.1 661.6,1246.9 663.6,1246.9 665.6,1247.1 667.6,1247.4 669.6,1247.9 671.6,1248.6 673.6,1249.5 675.6,1250.5 677.6,1251.8 679.6,1253.3 681.6,1254.9 683.6,1256.8 685.6,1258.8 687.6,1260.9 689.6,1263.3 691.6,1265.8 693.6,1268.4 695.6,1271.2 697.6,1274.2 699.6,1277.3 701.6,1280.5 703.6,1283.9 705.6,1287.4 707.6,1291.0 709.6,1294.7 711.6,1298.5 713.6,1302.5 715.6,1306.5 717.6,1310.7 719.6,1314.9 721.6,1319.2 723.6,1323.7 725.6,1328.2 727.6,1332.7 729.6,1337.4 731.6,1342.1 733.6,1346.8 735.6,1351.7 737.6,1356.5 739.6,1361.4 741.6,1366.3 743.6,1371.1 745.6,1376.0 747.6,1380.8 749.6,1385.6 751.6,1390.3 753.6,1394.9 755.6,1399.5 757.6,1404.0 759.6,1408.3 761.6,1412.5 763.6,1416.6 765.6,1420.6 767.6,1424.3 769.6,1428.0 771.6,1431.4 773.6,1434.7 775.6,1437.8 777.6,1440.8 779.6,1443.6 781.6,1446.3 783.6,1448.8 785.6,1451.3 787.6,1453.5 789.6,1455.7 791.6,1457.8 793.6,1459.7 795.6,1461.6 797.6,1463.3 799.6,1464.9 801.6,1466.5 803.6,1468.0 805.6,1469.3 807.6,1470.7 809.6,1471.9 811.6,1473.0 813.6,1474.1 815.6,1475.1 817.6,1476.0 819.6,1476.8 821.6,1477.6 823.6,1478.3 825.6,1478.9 827.6,1479.5 829.6,1480.0 831.6,1480.4 833.6,1480.7 835.6,1481.0 837.6,1481.2 839.6,1481.3 841.6,1481.4 843.6,1481.4 845.6,1481.4 847.6,1481.2 849.6,1481.0 851.6,1480.8 853.6,1480.5 855.6,1480.1 857.6,1479.7 859.6,1479.2 861.6,1478.7 863.6,1478.1 865.6,1477.4 867.6,1476.7 869.6,1476.0 871.6,1475.2 873.6,1474.3 875.6,1473.4 877.6,1472.4 879.6,1471.4 881.6,1470.3 883.6,1469.2 885.6,1468.1 887.6,1466.9 889.6,1465.6 891.6,1464.3 893.6,1463.0 895.6,1461.6 897.6,1460.2 899.6,1458.7 901.6,1457.2 903.6,1455.6 905.6,1454.0 907.6,1452.4 909.6,1450.8 911.6,1449.1 913.6,1447.3 915.6,1445.5 917.6,1443.7 919.6,1441.9 921.6,1440.0 923.6,1438.1 925.6,1436.1 927.6,1434.1 929.6,1432.0 931.6,1429.9 933.6,1427.8 935.6,1425.6 937.6,1423.3 939.6,1421.1 941.6,1418.7 943.6,1416.4 945.6,1413.9 947.6,1411.4 949.6,1408.9 951.6,1406.3 953.6,1403.7 955.6,1401.0 957.6,1398.3 959.6,1395.5 961.6,1392.6 963.6,1389.7 965.6,1386.7 967.6,1383.7 969.6,1380.6 971.6,1377.5 973.6,1374.3 975.6,1371.0 977.6,1367.7 979.6,1364.3 981.6,1360.9 983.6,1357.4 985.6,1353.8 987.6,1350.2 989.6,1346.5 991.6,1342.8 993.6,1339.1 995.6,1335.3 997.6,1331.4 999.6,1327.5 1001.6,1323.6 1003.6,1319.7 1005.6,1315.7 1007.6,1311.7 1009.6,1307.7 1011.6,1303.7 1013.6,1299.6 1015.6,1295.5 1017.6,1291.5 1019.6,1287.4 1021.6,1283.2 1023.6,1279.1 1025.6,1275.0 1027.6,1270.9 1029.6,1266.8 1031.6,1262.7 1033.6,1258.7 1035.6,1254.7 1037.6,1250.7 1039.6,1246.8 1041.6,1242.9 1043.6,1239.1 1045.6,1235.3 1047.6,1231.7 1049.6,1228.1 1051.6,1224.6 1053.6,1221.3 1055.6,1218.0 1057.6,1214.8 1059.6,1211.7 1061.6,1208.7 1063.6,1205.8 1065.6,1203.1 1067.6,1200.4 1069.6,1197.8 1071.6,1195.4 1073.6,1193.0 1075.6,1190.8 1077.6,1188.7 1079.6,1186.7 1081.6,1184.8 1083.6,1183.1 1085.6,1181.4 1087.6,1179.9 1089.6,1178.5 1091.6,1177.3 1093.6,1176.2 1095.6,1175.2 1097.6,1174.3 1099.6,1173.6 1101.6,1173.0 1103.6,1172.6 1105.6,1172.3 1107.6,1172.1 1109.6,1172.1 1111.6,1172.2 1113.6,1172.5 1115.6,1172.9 1117.6,1173.5 1119.6,1174.2 1121.6,1175.1 1123.6,1176.2 1125.6,1177.4 1127.6,1178.7 1129.6,1180.2 1131.6,1181.9 1133.6,1183.7 1135.6,1185.6 1137.6,1187.7 1139.6,1189.9 1141.6,1192.3 1143.6,1194.8 1145.6,1197.4 1147.6,1200.1 1149.6,1202.9 1151.6,1205.9 1153.6,1209.0 1155.6,1212.1 1157.6,1215.4 1159.6,1218.8 1161.6,1222.3 1163.6,1225.8 1165.6,1229.5 1167.6,1233.2 1169.6,1237.1 1171.6,1241.0 1173.6,1245.0 1175.6,1249.0 1177.6,1253.1 1179.6,1257.3 1181.6,1261.6 1183.6,1265.8 1185.6,1270.2 1187.6,1274.6 1189.6,1279.0 1191.6,1283.4 1193.6,1287.9 1195.6,1292.3 1197.6,1296.8 1199.6,1301.4 1201.6,1305.9 1203.6,1310.4 1205.6,1314.9 1207.6,1319.4 1209.6,1323.8 1211.6,1328.3 1213.6,1332.7 1215.6,1337.0 1217.6,1341.2 1219.6,1345.4 1221.6,1349.4 1223.6,1353.4 1225.6,1357.2 1227.6,1360.8 1229.6,1364.3 1231.6,1367.6 1233.6,1370.8 1235.6,1373.9 1237.6,1376.9 1239.6,1379.8 1241.6,1382.6 1243.6,1385.3 1245.6,1388.0 1247.6,1390.7 1249.6,1393.4 1251.6,1396.0 1253.6,1398.6 1255.6,1401.3 1257.6,1403.9 1259.6,1406.5 1261.6,1409.1 1263.6,1411.6 1265.6,1414.1 1267.6,1416.6 1269.6,1419.1 1271.6,1421.4 1273.6,1423.7 1275.6,1426.0 1277.6,1428.1 1279.6,1430.2 1281.6,1432.2 1283.6,1434.1 1285.6,1435.8 1287.6,1437.4 1289.6,1439.0 1291.6,1440.4 1293.6,1441.7 1295.6,1443.0 1297.6,1444.2 1299.6,1445.3 1301.6,1446.3 1303.6,1447.2 1305.6,1448.1 1307.6,1448.9 1309.6,1449.7 1311.6,1450.4 1313.6,1451.1 1315.6,1451.8 1317.6,1452.4 1319.6,1453.0 1321.6,1453.5 1323.6,1454.1 1325.6,1454.6 1327.6,1455.2 1329.6,1455.7 1331.6,1456.3 1333.6,1456.8 1335.6,1457.3 1337.6,1457.9 1339.6,1458.4 1341.6,1458.9 1343.6,1459.5 1345.6,1460.0 1347.6,1460.5 1349.6,1461.0 1351.6,1461.5 1353.6,1462.0 1355.6,1462.5 1357.6,1463.0 1359.6,1463.5 1361.6,1464.0 1363.6,1464.5 1365.6,1465.0 1367.6,1465.4 1369.6,1465.9 1371.6,1466.3 1373.6,1466.8 1375.6,1467.2 1377.6,1467.6 1379.6,1468.0 1381.6,1468.5 1383.6,1468.9 1385.6,1469.3 1387.6,1469.7 1389.6,1470.1 1391.6,1470.4 1393.6,1470.8 1395.6,1471.2 1397.6,1471.6 1399.6,1471.9 1401.6,1472.3 1403.6,1472.6 1405.6,1473.0 1407.6,1473.3 1409.6,1473.7 1411.6,1474.0 1413.6,1474.3 1415.6,1474.6 1417.6,1474.9 1419.6,1475.2 1421.6,1475.5 1423.6,1475.8 1425.6,1476.1 1427.6,1476.4 1429.6,1476.7 1431.6,1477.0 1433.6,1477.3 1435.6,1477.5 1437.6,1477.8 1439.6,1478.0 1441.6,1478.3 1443.6,1478.5 1445.6,1478.8 1447.6,1479.0 1449.6,1479.3 1451.6,1479.5 1453.6,1479.7 1455.6,1480.0 1457.6,1480.2 1459.6,1480.4 1461.6,1480.6 1463.6,1480.8 1465.6,1481.0 1467.6,1481.2 1469.6,1481.4 1471.6,1481.6 1473.6,1481.8 1475.6,1482.0 1477.6,1482.2 1479.6,1482.4 1481.6,1482.6 1483.6,1482.8 1485.6,1482.9 1487.6,1483.1 1489.6,1483.3 1491.6,1483.4 1493.6,1483.6 1495.6,1483.8 1497.6,1483.9 1499.6,1484.1 1501.6,1484.2 1505.6,1484.5 1509.6,1484.8 1513.6,1485.1 1517.6,1485.4 1521.6,1485.7 1525.6,1485.9 1529.6,1486.2 1533.6,1486.4 1537.6,1486.7 1541.6,1486.9 1545.6,1487.1 1549.6,1487.4 1553.6,1487.6 1557.6,1487.8 1561.6,1488.0 1565.6,1488.3 1569.6,1488.5 1573.6,1488.7 1577.6,1488.9 1581.6,1489.1 1585.6,1489.3 1589.6,1489.4 1593.6,1489.6 1597.6,1489.8 1601.6,1490.0 1605.6,1490.2 1609.6,1490.3 1613.6,1490.5 1617.6,1490.6 1621.6,1490.8 1625.6,1490.9 1629.6,1491.1 1633.6,1491.2 1637.6,1491.4 1641.6,1491.5 1645.6,1491.6 1649.6,1491.8 1653.6,1491.9 1657.6,1492.0 1661.6,1492.1 1665.6,1492.2 1669.6,1492.4 1673.6,1492.5 1677.6,1492.6 1681.6,1492.7 1685.6,1492.8 1689.6,1492.9 1693.6,1492.9 1697.6,1493.0 1701.6,1493.1 1705.6,1493.2 1709.6,1493.3 1713.6,1493.3 1717.6,1493.4 1721.6,1493.5 1725.6,1493.5 1729.6,1493.6 1733.6,1493.7 1737.6,1493.7 1741.6,1493.8 1745.6,1493.8 1749.6,1493.9 1753.6,1493.9 1757.6,1494.0 1761.6,1494.0 1765.6,1494.0 1769.6,1494.1 1773.6,1494.1 1777.6,1494.1 1781.6,1494.2 1785.6,1494.2 1789.6,1494.2 1793.6,1494.2 1797.6,1494.2 1801.6,1494.3 1805.6,1494.3 1809.6,1494.3 1813.6,1494.3 1817.6,1494.3 1821.6,1494.3 1825.6,1494.3 1829.6,1494.3 1833.6,1494.3 1837.6,1494.3 1841.6,1494.3 1845.6,1494.3 1849.6,1494.3 1853.6,1494.3 1857.6,1494.2 1861.6,1494.2 1865.6,1494.2 1869.6,1494.2 1873.6,1494.2 1877.6,1494.1 1881.6,1494.1 1885.6,1494.1 1889.6,1494.1 1893.6,1494.0 1897.6,1494.0 1901.6,1494.0 1905.6,1494.0 1909.6,1493.9 1913.6,1493.9 1917.6,1493.9 1921.6,1493.8 1925.6,1493.8 1929.6,1493.7 1933.6,1493.7 1937.6,1493.7 1941.6,1493.6 1945.6,1493.6 1949.6,1493.5 1953.6,1493.5 1957.6,1493.4 1961.6,1493.4 1965.6,1493.3 1969.6,1493.3 1973.6,1493.2 1977.6,1493.2 1981.6,1493.1 1985.6,1493.1 1989.6,1493.0 1993.6,1493.0 1997.6,1492.9 2001.6,1492.9 2005.6,1492.8 2009.6,1492.8 2013.6,1492.7 2017.6,1492.7 2021.6,1492.6 2025.6,1492.6 2029.6,1492.5 2033.6,1492.5 2037.6,1492.4 2041.6,1492.3 2045.6,1492.3 2049.6,1492.2 2053.6,1492.2 2057.6,1492.1 2061.6,1492.1 2065.6,1492.0 2069.6,1492.0 2073.6,1491.9 2077.6,1491.9 2081.6,1491.8 2085.6,1491.8 2089.6,1491.7 2093.6,1491.6 2097.6,1491.6 2101.6,1491.5 2105.6,1491.5 2109.6,1491.4 2113.6,1491.4 2117.6,1491.3 2121.6,1491.3 2125.6,1491.2 2129.6,1491.2 2133.6,1491.2 2137.6,1491.1 2141.6,1491.1 2145.6,1491.0 2149.6,1491.0 2153.6,1490.9 2157.6,1490.9 2161.6,1490.9 2165.6,1490.8 2169.6,1490.8 2173.6,1490.7 2177.6,1490.7 2181.6,1490.7 2185.6,1490.6 2189.6,1490.6 2193.6,1490.6 2197.6,1490.6 2201.6,1490.5 2205.6,1490.5 2209.6,1490.5 2213.6,1490.5 2217.6,1490.4 2221.6,1490.4 2225.6,1490.4 2229.6,1490.4 2233.6,1490.4 2237.6,1490.4 2241.6,1490.3 2245.6,1490.3 2249.6,1490.3 2253.6,1490.3 2257.6,1490.3 2261.6,1490.3 2265.6,1490.3 2269.6,1490.3 2273.6,1490.3 2277.6,1490.3 2281.6,1490.3 2285.6,1490.4 2289.6,1490.4 2293.6,1490.4 2297.6,1490.4 2301.6,1490.4 2305.6,1490.4 2309.6,1490.5 2313.6,1490.5 2317.6,1490.5 2321.6,1490.6 2325.6,1490.6 2329.6,1490.6 2333.6,1490.7 2337.6,1490.7 2341.6,1490.8 2345.6,1490.8 2349.6,1490.9 2353.6,1490.9 2357.6,1491.0 2361.6,1491.0 2362.0,1491.0" stroke="#808000"/>
<path d="M329.6,1095.6 331.6,1097.3 333.6,1099.9 335.6,1103.2 337.6,1107.4 339.6,1112.2 341.6,1117.7 343.6,1123.8 345.6,1130.4 347.6,1137.5 349.6,1145.0 351.6,1152.8 353.6,1161.0 355.6,1169.3 357.6,1177.9 359.6,1186.5 361.6,1195.2 363.6,1203.9 365.6,1212.5 367.6,1221.0 369.6,1229.3 371.6,1237.6 373.6,1245.6 375.6,1253.6 377.6,1261.3 379.6,1269.0 381.6,1276.4 383.6,1283.7 385.6,1290.9 387.6,1297.9 389.6,1304.7 391.6,1311.3 393.6,1317.7 395.6,1324.0 397.6,1330.1 399.6,1336.0 401.6,1341.6 403.6,1347.1 405.6,1352.4 407.6,1357.5 409.6,1362.4 411.6,1367.0 413.6,1371.5 415.6,1375.7 417.6,1379.7 419.6,1383.5 421.6,1387.1 423.6,1390.5 425.6,1393.7 427.6,1396.7 429.6,1399.5 431.6,1402.1 433.6,1404.5 435.6,1406.6 437.6,1408.6 439.6,1410.4 441.6,1412.0 443.6,1413.4 445.6,1414.5 447.6,1415.5 449.6,1416.3 451.6,1416.9 453.6,1417.3 455.6,1417.6 457.6,1417.6 459.6,1417.4 461.6,1417.1 463.6,1416.6 465.6,1415.9 467.6,1415.0 469.6,1413.9 471.6,1412.6 473.6,1411.1 475.6,1409.5 477.6,1407.7 479.6,1405.7 481.6,1403.5 483.6,1401.2 485.6,1398.7 487.6,1396.0 489.6,1393.1 491.6,1390.1 493.6,1386.9 495.6,1383.6 497.6,1380.1 499.6,1376.5 501.6,1372.8 503.6,1369.0 505.6,1365.1 507.6,1361.1 509.6,1357.1 511.6,1352.9 513.6,1348.7 515.6,1344.4 517.6,1340.1 519.6,1335.8 521.6,1331.4 523.6,1327.0 525.6,1322.6 527.6,1318.2 529.6,1313.8 531.6,1309.4 533.6,1305.0 535.6,1300.7 537.6,1296.4 539.6,1292.2 541.6,1288.0 543.6,1283.9 545.6,1279.9 547.6,1275.9 549.6,1272.1 551.6,1268.3 553.6,1264.5 555.6,1260.9 557.6,1257.3 559.6,1253.8 561.6,1250.3 563.6,1247.0 565.6,1243.7 567.6,1240.6 569.6,1237.5 571.6,1234.4 573.6,1231.5 575.6,1228.7 577.6,1225.9 579.6,1223.2 581.6,1220.7 583.6,1218.1 585.6,1215.7 587.6,1213.3 589.6,1211.0 591.6,1208.7 593.6,1206.5 595.6,1204.2 597.6,1202.1 599.6,1199.9 601.6,1197.8 603.6,1195.6 605.6,1193.5 607.6,1191.3 609.6,1189.2 611.6,1187.0 613.6,1184.8 615.6,1182.6 617.6,1180.4 619.6,1178.1 621.6,1175.9 623.6,1173.7 625.6,1171.5 627.6,1169.3 629.6,1167.1 631.6,1165.0 633.6,1163.0 635.6,1161.0 637.6,1159.1 639.6,1157.3 641.6,1155.6 643.6,1154.0 645.6,1152.5 647.6,1151.1 649.6,1149.9 651.6,1148.8 653.6,1147.8 655.6,1147.0 657.6,1146.4 659.6,1145.9 661.6,1145.7 663.6,1145.6 665.6,1145.7 667.6,1146.1 669.6,1146.7 671.6,1147.5 673.6,1148.5 675.6,1149.8 677.6,1151.4 679.6,1153.2 681.6,1155.3 683.6,1157.6 685.6,1160.3 687.6,1163.2 689.6,1166.4 691.6,1169.9 693.6,1173.7 695.6,1177.7 697.6,1182.1 699.6,1186.9 701.6,1191.9 703.6,1197.2 705.6,1202.8 707.6,1208.7 709.6,1214.8 711.6,1221.1 713.6,1227.5 715.6,1234.2 717.6,1241.0 719.6,1247.9 721.6,1254.9 723.6,1261.9 725.6,1269.0 727.6,1276.2 729.6,1283.3 731.6,1290.4 733.6,1297.5 735.6,1304.6 737.6,1311.5 739.6,1318.4 741.6,1325.2 743.6,1331.8 745.6,1338.3 747.6,1344.6 749.6,1350.8 751.6,1356.7 753.6,1362.4 755.6,1367.9 757.6,1373.2 759.6,1378.1 761.6,1382.8 763.6,1387.3 765.6,1391.6 767.6,1395.7 769.6,1399.6 771.6,1403.3 773.6,1406.9 775.6,1410.5 777.6,1413.9 779.6,1417.3 781.6,1420.6 783.6,1423.9 785.6,1427.2 787.6,1430.5 789.6,1433.8 791.6,1437.1 793.6,1440.3 795.6,1443.4 797.6,1446.4 799.6,1449.2 801.6,1451.9 803.6,1454.4 805.6,1456.7 807.6,1458.8 809.6,1460.6 811.6,1462.3 813.6,1463.8 815.6,1465.1 817.6,1466.2 819.6,1467.2 821.6,1468.0 823.6,1468.7 825.6,1469.2 827.6,1469.6 829.6,1469.8 831.6,1470.0 833.6,1470.0 835.6,1469.9 837.6,1469.7 839.6,1469.5 841.6,1469.1 843.6,1468.7 845.6,1468.2 847.6,1467.7 849.6,1467.1 851.6,1466.4 853.6,1465.8 855.6,1465.1 857.6,1464.3 859.6,1463.6 861.6,1462.8 863.6,1462.1 865.6,1461.3 867.6,1460.5 869.6,1459.6 871.6,1458.8 873.6,1457.9 875.6,1457.0 877.6,1456.0 879.6,1455.0 881.6,1454.0 883.6,1452.9 885.6,1451.7 887.6,1450.6 889.6,1449.3 891.6,1448.1 893.6,1446.7 895.6,1445.3 897.6,1443.9 899.6,1442.4 901.6,1440.8 903.6,1439.1 905.6,1437.4 907.6,1435.6 909.6,1433.7 911.6,1431.8 913.6,1429.7 915.6,1427.6 917.6,1425.4 919.6,1423.1 921.6,1420.7 923.6,1418.2 925.6,1415.6 927.6,1413.0 929.6,1410.2 931.6,1407.3 933.6,1404.3 935.6,1401.2 937.6,1398.0 939.6,1394.7 941.6,1391.2 943.6,1387.7 945.6,1384.1 947.6,1380.3 949.6,1376.5 951.6,1372.5 953.6,1368.5 955.6,1364.3 957.6,1360.1 959.6,1355.7 961.6,1351.2 963.6,1346.7 965.6,1342.0 967.6,1337.2 969.6,1332.4 971.6,1327.4 973.6,1322.3 975.6,1317.2 977.6,1311.9 979.6,1306.6 981.6,1301.1 983.6,1295.6 985.6,1290.1 987.6,1284.5 989.6,1278.8 991.6,1273.1 993.6,1267.4 995.6,1261.6 997.6,1255.9 999.6,1250.1 1001.6,1244.3 1003.6,1238.6 1005.6,1232.9 1007.6,1227.2 1009.6,1221.5 1011.6,1215.9 1013.6,1210.3 1015.6,1204.7 1017.6,1199.2 1019.6,1193.8 1021.6,1188.4 1023.6,1183.0 1025.6,1177.7 1027.6,1172.5 1029.6,1167.3 1031.6,1162.2 1033.6,1157.2 1035.6,1152.2 1037.6,1147.3 1039.6,1142.4 1041.6,1137.7 1043.6,1133.0 1045.6,1128.4 1047.6,1123.9 1049.6,1119.5 1051.6,1115.1 1053.6,1110.9 1055.6,1106.7 1057.6,1102.7 1059.6,1098.7 1061.6,1094.9 1063.6,1091.2 1065.6,1087.5 1067.6,1084.0 1069.6,1080.6 1071.6,1077.3 1073.6,1074.1 1075.6,1071.1 1077.6,1068.1 1079.6,1065.3 1081.6,1062.7 1083.6,1060.2 1085.6,1057.8 1087.6,1055.6 1089.6,1053.5 1091.6,1051.6 1093.6,1049.9 1095.6,1048.3 1097.6,1046.9 1099.6,1045.7 1101.6,1044.7 1103.6,1043.8 1105.6,1043.2 1107.6,1042.8 1109.6,1042.5 1111.6,1042.5 1113.6,1042.7 1115.6,1043.1 1117.6,1043.7 1119.6,1044.6 1121.6,1045.7 1123.6,1047.0 1125.6,1048.6 1127.6,1050.4 1129.6,1052.5 1131.6,1054.7 1133.6,1057.2 1135.6,1059.9 1137.6,1062.8 1139.6,1065.8 1141.6,1069.1 1143.6,1072.5 1145.6,1076.1 1147.6,1079.8 1149.6,1083.7 1151.6,1087.8 1153.6,1092.0 1155.6,1096.3 1157.6,1100.7 1159.6,1105.2 1161.6,1109.8 1163.6,1114.6 1165.6,1119.4 1167.6,1124.3 1169.6,1129.3 1171.6,1134.4 1173.6,1139.6 1175.6,1144.9 1177.6,1150.2 1179.6,1155.6 1181.6,1161.1 1183.6,1166.7 1185.6,1172.3 1187.6,1178.0 1189.6,1183.7 1191.6,1189.5 1193.6,1195.4 1195.6,1201.3 1197.6,1207.3 1199.6,1213.2 1201.6,1219.2 1203.6,1225.1 1205.6,1231.0 1207.6,1236.8 1209.6,1242.6 1211.6,1248.3 1213.6,1254.0 1215.6,1259.6 1217.6,1265.1 1219.6,1270.7 1221.6,1276.3 1223.6,1281.9 1225.6,1287.4 1227.6,1292.9 1229.6,1298.4 1231.6,1303.9 1233.6,1309.3 1235.6,1314.6 1237.6,1319.9 1239.6,1325.2 1241.6,1330.3 1243.6,1335.4 1245.6,1340.4 1247.6,1345.3 1249.6,1350.0 1251.6,1354.7 1253.6,1359.3 1255.6,1363.7 1257.6,1368.0 1259.6,1372.1 1261.6,1376.1 1263.6,1380.0 1265.6,1383.7 1267.6,1387.2 1269.6,1390.6 1271.6,1393.7 1273.6,1396.7 1275.6,1399.5 1277.6,1402.1 1279.6,1404.5 1281.6,1406.8 1283.6,1408.9 1285.6,1410.9 1287.6,1412.7 1289.6,1414.5 1291.6,1416.1 1293.6,1417.7 1295.6,1419.1 1297.6,1420.5 1299.6,1421.8 1301.6,1423.1 1303.6,1424.3 1305.6,1425.5 1307.6,1426.7 1309.6,1427.8 1311.6,1429.0 1313.6,1430.1 1315.6,1431.1 1317.6,1432.2 1319.6,1433.2 1321.6,1434.2 1323.6,1435.2 1325.6,1436.2 1327.6,1437.1 1329.6,1438.1 1331.6,1439.0 1333.6,1439.9 1335.6,1440.8 1337.6,1441.6 1339.6,1442.5 1341.6,1443.3 1343.6,1444.2 1345.6,1445.0 1347.6,1445.8 1349.6,1446.6 1351.6,1447.3 1353.6,1448.1 1355.6,1448.9 1357.6,1449.6 1359.6,1450.4 1361.6,1451.1 1363.6,1451.8 1365.6,1452.5 1367.6,1453.2 1369.6,1453.9 1371.6,1454.6 1373.6,1455.3 1375.6,1456.0 1377.6,1456.6 1379.6,1457.3 1381.6,1457.9 1383.6,1458.6 1385.6,1459.2 1387.6,1459.8 1389.6,1460.4 1391.6,1461.0 1393.6,1461.6 1395.6,1462.2 1397.6,1462.8 1399.6,1463.4 1401.6,1463.9 1403.6,1464.5 1405.6,1465.1 1407.6,1465.6 1409.6,1466.1 1411.6,1466.7 1413.6,1467.2 1415.6,1467.7 1417.6,1468.2 1419.6,1468.7 1421.6,1469.2 1423.6,1469.7 1425.6,1470.2 1427.6,1470.7 1429.6,1471.1 1431.6,1471.6 1433.6,1472.1 1435.6,1472.5 1437.6,1472.9 1439.6,1473.4 1441.6,1473.8 1443.6,1474.2 1445.6,1474.7 1447.6,1475.1 1449.6,1475.5 1451.6,1475.9 1453.6,1476.3 1455.6,1476.7 1457.6,1477.1 1459.6,1477.4 1461.6,1477.8 1463.6,1478.2 1465.6,1478.5 1467.6,1478.9 1469.6,1479.3 1471.6,1479.6 1473.6,1479.9 1475.6,1480.3 1477.6,1480.6 1479.6,1480.9 1481.6,1481.3 1483.6,1481.6 1485.6,1481.9 1487.6,1482.2 1489.6,1482.5 1491.6,1482.8 1493.6,1483.1 1495.6,1483.4 1497.6,1483.7 1499.6,1484.0 1501.6,1484.3 1505.6,1484.8 1509.6,1485.3 1513.6,1485.9 1517.6,1486.4 1521.6,1486.9 1525.6,1487.3 1529.6,1487.8 1533.6,1488.2 1537.6,1488.7 1541.6,1489.1 1545.6,1489.5 1549.6,1489.9 1553.6,1490.3 1557.6,1490.7 1561.6,1491.1 1565.6,1491.5 1569.6,1491.8 1573.6,1492.2 1577.6,1492.5 1581.6,1492.8 1585.6,1493.2 1589.6,1493.5 1593.6,1493.8 1597.6,1494.0 1601.6,1494.3 1605.6,1494.6 1609.6,1494.9 1613.6,1495.1 1617.6,1495.4 1621.6,1495.6 1625.6,1495.8 1629.6,1496.0 1633.6,1496.2 1637.6,1496.4 1641.6,1496.6 1645.6,1496.8 1649.6,1497.0 1653.6,1497.2 1657.6,1497.3 1661.6,1497.5 1665.6,1497.6 1669.6,1497.8 1673.6,1497.9 1677.6,1498.0 1681.6,1498.2 1685.6,1498.3 1689.6,1498.4 1693.6,1498.5 1697.6,1498.6 1701.6,1498.7 1705.6,1498.7 1709.6,1498.8 1713.6,1498.9 1717.6,1498.9 1721.6,1499.0 1725.6,1499.1 1729.6,1499.1 1733.6,1499.1 1737.6,1499.2 1741.6,1499.2 1745.6,1499.2 1749.6,1499.3 1753.6,1499.3 1757.6,1499.3 1761.6,1499.3 1765.6,1499.3 1769.6,1499.3 1773.6,1499.3 1777.6,1499.3 1781.6,1499.3 1785.6,1499.3 1789.6,1499.2 1793.6,1499.2 1797.6,1499.2 1801.6,1499.2 1805.6,1499.1 1809.6,1499.1 1813.6,1499.1 1817.6,1499.0 1821.6,1499.0 1825.6,1498.9 1829.6,1498.9 1833.6,1498.8 1837.6,1498.8 1841.6,1498.7 1845.6,1498.6 1849.6,1498.6 1853.6,1498.5 1857.6,1498.5 1861.6,1498.4 1865.6,1498.3 1869.6,1498.3 1873.6,1498.2 1877.6,1498.1 1881.6,1498.1 1885.6,1498.0 1889.6,1497.9 1893.6,1497.8 1897.6,1497.8 1901.6,1497.7 1905.6,1497.6 1909.6,1497.6 1913.6,1497.5 1917.6,1497.4 1921.6,1497.3 1925.6,1497.3 1929.6,1497.2 1933.6,1497.1 1937.6,1497.1 1941.6,1497.0 1945.6,1496.9 1949.6,1496.9 1953.6,1496.8 1957.6,1496.7 1961.6,1496.7 1965.6,1496.6 1969.6,1496.5 1973.6,1496.5 1977.6,1496.4 1981.6,1496.4 1985.6,1496.3 1989.6,1496.3 1993.6,1496.2 1997.6,1496.2 2001.6,1496.2 2005.6,1496.1 2009.6,1496.1 2013.6,1496.1 2017.6,1496.0 2021.6,1496.0 2025.6,1496.0 2029.6,1496.0 2033.6,1495.9 2037.6,1495.9 2041.6,1495.9 2045.6,1495.9 2049.6,1495.9 2053.6,1495.9 2057.6,1495.9 2061.6,1496.0 2065.6,1496.0 2069.6,1496.0 2073.6,1496.0 2077.6,1496.0 2081.6,1496.1 2085.6,1496.1 2089.6,1496.1 2093.6,1496.2 2097.6,1496.2 2101.6,1496.3 2105.6,1496.3 2109.6,1496.4 2113.6,1496.4 2117.6,1496.5 2121.6,1496.5 2125.6,1496.6 2129.6,1496.6 2133.6,1496.7 2137.6,1496.7 2141.6,1496.8 2145.6,1496.8 2149.6,1496.9 2153.6,1496.9 2157.6,1497.0 2161.6,1497.1 2165.6,1497.1 2169.6,1497.2 2173.6,1497.2 2177.6,1497.3 2181.6,1497.3 2185.6,1497.4 2189.6,1497.4 2193.6,1497.5 2197.6,1497.5 2201.6,1497.6 2205.6,1497.6 2209.6,1497.6 2213.6,1497.7 2217.6,1497.7 2221.6,1497.7 2225.6,1497.8 2229.6,1497.8 2233.6,1497.8 2237.6,1497.9 2241.6,1497.9 2245.6,1497.9 2249.6,1497.9 2253.6,1497.9 2257.6,1497.9 2261.6,1497.9 2265.6,1497.9 2269.6,1497.9 2273.6,1497.9 2277.6,1497.8 2281.6,1497.8 2285.6,1497.8 2289.6,1497.8 2293.6,1497.7 2297.6,1497.7 2301.6,1497.6 2305.6,1497.5 2309.6,1497.5 2313.6,1497.4 2317.6,1497.3 2321.6,1497.2 2325.6,1497.2 2329.6,1497.1 2333.6,1497.0 2337.6,1496.8 2341.6,1496.7 2345.6,1496.6 2349.6,1496.5 2353.6,1496.3 2357.6,1496.2 2361.6,1496.0 2362.0,1496.0" stroke="#000080"/>
<path d="M329.6,924.1 331.6,924.6 333.6,926.3 335.6,929.3 337.6,933.4 339.6,938.6 341.6,944.7 343.6,951.7 345.6,959.6 347.6,968.2 349.6,977.5 351.6,987.4 353.6,997.7 355.6,1008.6 357.6,1019.8 359.6,1031.3 361.6,1043.0 363.6,1054.9 365.6,1066.9 367.6,1078.8 369.6,1090.6 371.6,1102.3 373.6,1113.9 375.6,1125.2 377.6,1136.4 379.6,1147.4 381.6,1158.1 383.6,1168.7 385.6,1179.1 387.6,1189.3 389.6,1199.2 391.6,1209.0 393.6,1218.5 395.6,1227.8 397.6,1236.8 399.6,1245.7 401.6,1254.2 403.6,1262.6 405.6,1270.6 407.6,1278.4 409.6,1286.0 411.6,1293.3 413.6,1300.3 415.6,1307.0 417.6,1313.5 419.6,1319.6 421.6,1325.5 423.6,1331.1 425.6,1336.3 427.6,1341.3 429.6,1345.9 431.6,1350.3 433.6,1354.3 435.6,1358.0 437.6,1361.3 439.6,1364.3 441.6,1367.0 443.6,1369.3 445.6,1371.3 447.6,1373.0 449.6,1374.4 451.6,1375.5 453.6,1376.3 455.6,1376.8 457.6,1377.0 459.6,1376.9 461.6,1376.6 463.6,1376.0 465.6,1375.2 467.6,1374.1 469.6,1372.7 471.6,1371.2 473.6,1369.4 475.6,1367.4 477.6,1365.1 479.6,1362.7 481.6,1360.1 483.6,1357.3 485.6,1354.3 487.6,1351.1 489.6,1347.8 491.6,1344.3 493.6,1340.6 495.6,1336.8 497.6,1332.9 499.6,1328.8 501.6,1324.6 503.6,1320.2 505.6,1315.8 507.6,1311.3 509.6,1306.6 511.6,1301.9 513.6,1297.1 515.6,1292.2 517.6,1287.2 519.6,1282.2 521.6,1277.1 523.6,1272.0 525.6,1266.8 527.6,1261.6 529.6,1256.3 531.6,1251.1 533.6,1245.8 535.6,1240.5 537.6,1235.3 539.6,1230.0 541.6,1224.8 543.6,1219.5 545.6,1214.3 547.6,1209.2 549.6,1204.0 551.6,1199.0 553.6,1194.0 555.6,1189.0 557.6,1184.1 559.6,1179.3 561.6,1174.6 563.6,1169.9 565.6,1165.3 567.6,1160.8 569.6,1156.3 571.6,1151.9 573.6,1147.7 575.6,1143.4 577.6,1139.3 579.6,1135.3 581.6,1131.3 583.6,1127.5 585.6,1123.7 587.6,1120.0 589.6,1116.5 591.6,1113.0 593.6,1109.6 595.6,1106.3 597.6,1103.0 599.6,1099.9 601.6,1096.8 603.6,1093.7 605.6,1090.7 607.6,1087.8 609.6,1084.9 611.6,1082.0 613.6,1079.2 615.6,1076.4 617.6,1073.6 619.6,1070.8 621.6,1068.1 623.6,1065.3 625.6,1062.5 627.6,1059.7 629.6,1057.0 631.6,1054.3 633.6,1051.7 635.6,1049.2 637.6,1046.8 639.6,1044.4 641.6,1042.2 643.6,1040.2 645.6,1038.3 647.6,1036.5 649.6,1035.0 651.6,1033.6 653.6,1032.5 655.6,1031.6 657.6,1031.0 659.6,1030.6 661.6,1030.5 663.6,1030.7 665.6,1031.2 667.6,1032.0 669.6,1033.2 671.6,1034.7 673.6,1036.6 675.6,1038.9 677.6,1041.6 679.6,1044.6 681.6,1048.0 683.6,1051.7 685.6,1055.8 687.6,1060.1 689.6,1064.7 691.6,1069.6 693.6,1074.8 695.6,1080.1 697.6,1085.8 699.6,1091.6 701.6,1097.6 703.6,1103.8 705.6,1110.2 707.6,1116.7 709.6,1123.4 711.6,1130.3 713.6,1137.3 715.6,1144.5 717.6,1151.9 719.6,1159.4 721.6,1167.0 723.6,1174.8 725.6,1182.7 727.6,1190.8 729.6,1199.0 731.6,1207.2 733.6,1215.6 735.6,1224.1 737.6,1232.6 739.6,1241.1 741.6,1249.6 743.6,1258.2 745.6,1266.7 747.6,1275.1 749.6,1283.6 751.6,1291.9 753.6,1300.2 755.6,1308.3 757.6,1316.3 759.6,1324.2 761.6,1331.9 763.6,1339.4 765.6,1346.7 767.6,1353.8 769.6,1360.7 771.6,1367.3 773.6,1373.6 775.6,1379.7 777.6,1385.5 779.6,1391.0 781.6,1396.2 783.6,1401.2 785.6,1406.0 787.6,1410.5 789.6,1414.7 791.6,1418.8 793.6,1422.6 795.6,1426.1 797.6,1429.5 799.6,1432.6 801.6,1435.6 803.6,1438.3 805.6,1440.9 807.6,1443.2 809.6,1445.4 811.6,1447.4 813.6,1449.2 815.6,1450.9 817.6,1452.4 819.6,1453.8 821.6,1455.0 823.6,1456.1 825.6,1457.1 827.6,1457.9 829.6,1458.6 831.6,1459.1 833.6,1459.6 835.6,1459.9 837.6,1460.1 839.6,1460.2 841.6,1460.2 843.6,1460.1 845.6,1459.9 847.6,1459.6 849.6,1459.2 851.6,1458.7 853.6,1458.2 855.6,1457.5 857.6,1456.8 859.6,1456.0 861.6,1455.1 863.6,1454.2 865.6,1453.2 867.6,1452.1 869.6,1451.0 871.6,1449.9 873.6,1448.6 875.6,1447.3 877.6,1446.0 879.6,1444.6 881.6,1443.1 883.6,1441.6 885.6,1440.0 887.6,1438.3 889.6,1436.5 891.6,1434.6 893.6,1432.6 895.6,1430.6 897.6,1428.4 899.6,1426.2 901.6,1423.8 903.6,1421.3 905.6,1418.7 907.6,1416.0 909.6,1413.2 911.6,1410.2 913.6,1407.1 915.6,1403.9 917.6,1400.5 919.6,1397.0 921.6,1393.4 923.6,1389.7 925.6,1385.9 927.6,1381.9 929.6,1377.8 931.6,1373.6 933.6,1369.3 935.6,1364.9 937.6,1360.3 939.6,1355.7 941.6,1351.0 943.6,1346.1 945.6,1341.2 947.6,1336.2 949.6,1331.0 951.6,1325.8 953.6,1320.5 955.6,1315.1 957.6,1309.6 959.6,1304.0 961.6,1298.3 963.6,1292.6 965.6,1286.8 967.6,1280.9 969.6,1274.9 971.6,1268.8 973.6,1262.7 975.6,1256.5 977.6,1250.3 979.6,1244.0 981.6,1237.6 983.6,1231.2 985.6,1224.7 987.6,1218.1 989.6,1211.5 991.6,1204.9 993.6,1198.2 995.6,1191.4 997.6,1184.6 999.6,1177.8 1001.6,1170.9 1003.6,1164.0 1005.6,1157.0 1007.6,1150.0 1009.6,1143.0 1011.6,1136.0 1013.6,1128.9 1015.6,1121.8 1017.6,1114.7 1019.6,1107.6 1021.6,1100.6 1023.6,1093.5 1025.6,1086.5 1027.6,1079.5 1029.6,1072.6 1031.6,1065.7 1033.6,1058.9 1035.6,1052.2 1037.6,1045.5 1039.6,1038.9 1041.6,1032.4 1043.6,1026.0 1045.6,1019.7 1047.6,1013.5 1049.6,1007.5 1051.6,1001.6 1053.6,995.8 1055.6,990.1 1057.6,984.7 1059.6,979.3 1061.6,974.1 1063.6,969.1 1065.6,964.3 1067.6,959.6 1069.6,955.1 1071.6,950.8 1073.6,946.6 1075.6,942.6 1077.6,938.9 1079.6,935.3 1081.6,931.9 1083.6,928.7 1085.6,925.8 1087.6,923.0 1089.6,920.5 1091.6,918.1 1093.6,916.0 1095.6,914.2 1097.6,912.5 1099.6,911.1 1101.6,909.9 1103.6,909.0 1105.6,908.3 1107.6,907.9 1109.6,907.7 1111.6,907.8 1113.6,908.2 1115.6,908.8 1117.6,909.7 1119.6,910.9 1121.6,912.4 1123.6,914.1 1125.6,916.1 1127.6,918.5 1129.6,921.0 1131.6,923.9 1133.6,927.0 1135.6,930.4 1137.6,934.0 1139.6,937.9 1141.6,942.0 1143.6,946.3 1145.6,950.8 1147.6,955.6 1149.6,960.5 1151.6,965.7 1153.6,971.0 1155.6,976.5 1157.6,982.2 1159.6,988.1 1161.6,994.1 1163.6,1000.2 1165.6,1006.5 1167.6,1013.0 1169.6,1019.6 1171.6,1026.2 1173.6,1033.1 1175.6,1040.0 1177.6,1047.0 1179.6,1054.1 1181.6,1061.3 1183.6,1068.5 1185.6,1075.9 1187.6,1083.3 1189.6,1090.7 1191.6,1098.2 1193.6,1105.8 1195.6,1113.4 1197.6,1121.0 1199.6,1128.6 1201.6,1136.2 1203.6,1143.9 1205.6,1151.5 1207.6,1159.1 1209.6,1166.6 1211.6,1174.2 1213.6,1181.6 1215.6,1189.1 1217.6,1196.4 1219.6,1203.7 1221.6,1210.8 1223.6,1217.9 1225.6,1224.9 1227.6,1231.7 1229.6,1238.4 1231.6,1245.0 1233.6,1251.4 1235.6,1257.7 1237.6,1263.8 1239.6,1269.9 1241.6,1275.9 1243.6,1281.8 1245.6,1287.6 1247.6,1293.3 1249.6,1299.0 1251.6,1304.7 1253.6,1310.3 1255.6,1316.0 1257.6,1321.6 1259.6,1327.2 1261.6,1332.8 1263.6,1338.3 1265.6,1343.8 1267.6,1349.1 1269.6,1354.3 1271.6,1359.3 1273.6,1364.1 1275.6,1368.7 1277.6,1373.0 1279.6,1377.1 1281.6,1380.8 1283.6,1384.3 1285.6,1387.4 1287.6,1390.1 1289.6,1392.6 1291.6,1394.9 1293.6,1396.9 1295.6,1398.8 1297.6,1400.6 1299.6,1402.2 1301.6,1403.8 1303.6,1405.4 1305.6,1407.0 1307.6,1408.5 1309.6,1410.0 1311.6,1411.4 1313.6,1412.8 1315.6,1414.2 1317.6,1415.5 1319.6,1416.8 1321.6,1418.1 1323.6,1419.3 1325.6,1420.6 1327.6,1421.7 1329.6,1422.9 1331.6,1424.0 1333.6,1425.2 1335.6,1426.3 1337.6,1427.3 1339.6,1428.4 1341.6,1429.4 1343.6,1430.4 1345.6,1431.4 1347.6,1432.3 1349.6,1433.3 1351.6,1434.2 1353.6,1435.1 1355.6,1436.0 1357.6,1436.9 1359.6,1437.7 1361.6,1438.6 1363.6,1439.4 1365.6,1440.2 1367.6,1441.1 1369.6,1441.9 1371.6,1442.7 1373.6,1443.4 1375.6,1444.2 1377.6,1445.0 1379.6,1445.8 1381.6,1446.5 1383.6,1447.3 1385.6,1448.0 1387.6,1448.8 1389.6,1449.5 1391.6,1450.3 1393.6,1451.0 1395.6,1451.8 1397.6,1452.5 1399.6,1453.2 1401.6,1454.0 1403.6,1454.7 1405.6,1455.4 1407.6,1456.1 1409.6,1456.8 1411.6,1457.5 1413.6,1458.2 1415.6,1458.9 1417.6,1459.6 1419.6,1460.3 1421.6,1460.9 1423.6,1461.6 1425.6,1462.3 1427.6,1462.9 1429.6,1463.6 1431.6,1464.2 1433.6,1464.9 1435.6,1465.5 1437.6,1466.2 1439.6,1466.8 1441.6,1467.4 1443.6,1468.0 1445.6,1468.7 1447.6,1469.3 1449.6,1469.9 1451.6,1470.5 1453.6,1471.1 1455.6,1471.6 1457.6,1472.2 1459.6,1472.8 1461.6,1473.4 1463.6,1473.9 1465.6,1474.5 1467.6,1475.0 1469.6,1475.6 1471.6,1476.1 1473.6,1476.6 1475.6,1477.1 1477.6,1477.7 1479.6,1478.2 1481.6,1478.7 1483.6,1479.2 1485.6,1479.7 1487.6,1480.1 1489.6,1480.6 1491.6,1481.1 1493.6,1481.6 1495.6,1482.0 1497.6,1482.5 1499.6,1482.9 1501.6,1483.3 1505.6,1484.2 1509.6,1485.0 1513.6,1485.8 1517.6,1486.5 1521.6,1487.3 1525.6,1487.9 1529.6,1488.6 1533.6,1489.2 1537.6,1489.9 1541.6,1490.4 1545.6,1491.0 1549.6,1491.5 1553.6,1492.0 1557.6,1492.5 1561.6,1493.0 1565.6,1493.4 1569.6,1493.8 1573.6,1494.2 1577.6,1494.5 1581.6,1494.9 1585.6,1495.2 1589.6,1495.5 1593.6,1495.7 1597.6,1496.0 1601.6,1496.2 1605.6,1496.4 1609.6,1496.6 1613.6,1496.8 1617.6,1496.9 1621.6,1497.1 1625.6,1497.2 1629.6,1497.3 1633.6,1497.4 1637.6,1497.5 1641.6,1497.5 1645.6,1497.6 1649.6,1497.6 1653.6,1497.6 1657.6,1497.6 1661.6,1497.6 1665.6,1497.6 1669.6,1497.5 1673.6,1497.5 1677.6,1497.4 1681.6,1497.4 1685.6,1497.3 1689.6,1497.2 1693.6,1497.1 1697.6,1497.0 1701.6,1496.9 1705.6,1496.8 1709.6,1496.7 1713.6,1496.6 1717.6,1496.4 1721.6,1496.3 1725.6,1496.2 1729.6,1496.0 1733.6,1495.9 1737.6,1495.7 1741.6,1495.6 1745.6,1495.4 1749.6,1495.2 1753.6,1495.1 1757.6,1494.9 1761.6,1494.8 1765.6,1494.6 1769.6,1494.5 1773.6,1494.3 1777.6,1494.1 1781.6,1494.0 1785.6,1493.8 1789.6,1493.7 1793.6,1493.6 1797.6,1493.4 1801.6,1493.3 1805.6,1493.2 1809.6,1493.1 1813.6,1492.9 1817.6,1492.8 1821.6,1492.7 1825.6,1492.6 1829.6,1492.5 1833.6,1492.4 1837.6,1492.4 1841.6,1492.3 1845.6,1492.2 1849.6,1492.1 1853.6,1492.1 1857.6,1492.0 1861.6,1492.0 1865.6,1491.9 1869.6,1491.9 1873.6,1491.8 1877.6,1491.8 1881.6,1491.7 1885.6,1491.7 1889.6,1491.7 1893.6,1491.6 1897.6,1491.6 1901.6,1491.6 1905.6,1491.6 1909.6,1491.6 1913.6,1491.6 1917.6,1491.6 1921.6,1491.5 1925.6,1491.5 1929.6,1491.6 1933.6,1491.6 1937.6,1491.6 1941.6,1491.6 1945.6,1491.6 1949.6,1491.6 1953.6,1491.6 1957.6,1491.6 1961.6,1491.7 1965.6,1491.7 1969.6,1491.7 1973.6,1491.8 1977.6,1491.8 1981.6,1491.8 1985.6,1491.9 1989.6,1491.9 1993.6,1491.9 1997.6,1492.0 2001.6,1492.0 2005.6,1492.1 2009.6,1492.1 2013.6,1492.1 2017.6,1492.2 2021.6,1492.2 2025.6,1492.3 2029.6,1492.3 2033.6,1492.4 2037.6,1492.4 2041.6,1492.5 2045.6,1492.5 2049.6,1492.6 2053.6,1492.7 2057.6,1492.7 2061.6,1492.8 2065.6,1492.8 2069.6,1492.9 2073.6,1492.9 2077.6,1493.0 2081.6,1493.0 2085.6,1493.1 2089.6,1493.2 2093.6,1493.2 2097.6,1493.3 2101.6,1493.3 2105.6,1493.4 2109.6,1493.4 2113.6,1493.5 2117.6,1493.5 2121.6,1493.6 2125.6,1493.6 2129.6,1493.7 2133.6,1493.7 2137.6,1493.8 2141.6,1493.8 2145.6,1493.8 2149.6,1493.9 2153.6,1493.9 2157.6,1494.0 2161.6,1494.0 2165.6,1494.0 2169.6,1494.1 2173.6,1494.1 2177.6,1494.1 2181.6,1494.2 2185.6,1494.2 2189.6,1494.2 2193.6,1494.2 2197.6,1494.2 2201.6,1494.3 2205.6,1494.3 2209.6,1494.3 2213.6,1494.3 2217.6,1494.3 2221.6,1494.3 2225.6,1494.3 2229.6,1494.3 2233.6,1494.3 2237.6,1494.3 2241.6,1494.3 2245.6,1494.2 2249.6,1494.2 2253.6,1494.2 2257.6,1494.2 2261.6,1494.1 2265.6,1494.1 2269.6,1494.1 2273.6,1494.0 2277.6,1494.0 2281.6,1493.9 2285.6,1493.9 2289.6,1493.8 2293.6,1493.8 2297.6,1493.7 2301.6,1493.6 2305.6,1493.5 2309.6,1493.5 2313.6,1493.4 2317.6,1493.3 2321.6,1493.2 2325.6,1493.1 2329.6,1493.0 2333.6,1492.9 2337.6,1492.8 2341.6,1492.6 2345.6,1492.5 2349.6,1492.4 2353.6,1492.2 2357.6,1492.1 2361.6,1491.9 2362.0,1491.9" stroke="#800000"/>
<path d="M329.6,767.5 331.6,764.0 333.6,762.5 335.6,762.9 337.6,765.2 339.6,769.2 341.6,774.6 343.6,781.5 345.6,789.7 347.6,799.1 349.6,809.4 351.6,820.7 353.6,832.7 355.6,845.3 357.6,858.4 359.6,872.0 361.6,886.0 363.6,900.2 365.6,914.7 367.6,929.4 369.6,944.2 371.6,959.1 373.6,973.9 375.6,988.7 377.6,1003.4 379.6,1017.9 381.6,1032.1 383.6,1045.9 385.6,1059.5 387.6,1072.6 389.6,1085.3 391.6,1097.7 393.6,1109.7 395.6,1121.3 397.6,1132.6 399.6,1143.5 401.6,1154.0 403.6,1164.2 405.6,1174.0 407.6,1183.4 409.6,1192.4 411.6,1201.2 413.6,1209.5 415.6,1217.5 417.6,1225.2 419.6,1232.5 421.6,1239.4 423.6,1246.0 425.6,1252.3 427.6,1258.2 429.6,1263.8 431.6,1269.0 433.6,1273.9 435.6,1278.5 437.6,1282.7 439.6,1286.7 441.6,1290.2 443.6,1293.5 445.6,1296.4 447.6,1299.0 449.6,1301.3 451.6,1303.3 453.6,1305.0 455.6,1306.3 457.6,1307.3 459.6,1308.1 461.6,1308.5 463.6,1308.6 465.6,1308.4 467.6,1307.9 469.6,1307.1 471.6,1306.0 473.6,1304.6 475.6,1302.9 477.6,1300.9 479.6,1298.6 481.6,1296.1 483.6,1293.2 485.6,1290.1 487.6,1286.7 489.6,1283.0 491.6,1279.1 493.6,1274.9 495.6,1270.5 497.6,1265.9 499.6,1261.0 501.6,1256.0 503.6,1250.7 505.6,1245.2 507.6,1239.5 509.6,1233.7 511.6,1227.7 513.6,1221.5 515.6,1215.1 517.6,1208.6 519.6,1201.9 521.6,1195.2 523.6,1188.2 525.6,1181.2 527.6,1174.1 529.6,1166.8 531.6,1159.5 533.6,1152.1 535.6,1144.7 537.6,1137.4 539.6,1130.0 541.6,1122.8 543.6,1115.7 545.6,1108.7 547.6,1101.9 549.6,1095.3 551.6,1088.9 553.6,1082.8 555.6,1077.0 557.6,1071.4 559.6,1066.0 561.6,1060.9 563.6,1055.9 565.6,1051.2 567.6,1046.6 569.6,1042.2 571.6,1037.9 573.6,1033.7 575.6,1029.7 577.6,1025.7 579.6,1021.9 581.6,1018.1 583.6,1014.4 585.6,1010.8 587.6,1007.1 589.6,1003.6 591.6,1000.0 593.6,996.4 595.6,992.8 597.6,989.1 599.6,985.4 601.6,981.7 603.6,977.9 605.6,974.1 607.6,970.2 609.6,966.4 611.6,962.5 613.6,958.7 615.6,954.8 617.6,951.0 619.6,947.3 621.6,943.6 623.6,939.9 625.6,936.3 627.6,932.8 629.6,929.4 631.6,926.1 633.6,922.9 635.6,919.8 637.6,916.9 639.6,914.1 641.6,911.5 643.6,909.0 645.6,906.8 647.6,904.7 649.6,902.9 651.6,901.3 653.6,899.9 655.6,898.8 657.6,897.9 659.6,897.4 661.6,897.2 663.6,897.2 665.6,897.6 667.6,898.4 669.6,899.5 671.6,900.9 673.6,902.8 675.6,905.0 677.6,907.7 679.6,910.8 681.6,914.3 683.6,918.3 685.6,922.7 687.6,927.6 689.6,933.0 691.6,938.7 693.6,944.9 695.6,951.4 697.6,958.4 699.6,965.7 701.6,973.4 703.6,981.4 705.6,989.7 707.6,998.5 709.6,1007.5 711.6,1016.9 713.6,1026.6 715.6,1036.5 717.6,1046.6 719.6,1056.9 721.6,1067.2 723.6,1077.7 725.6,1088.1 727.6,1098.4 729.6,1108.7 731.6,1118.9 733.6,1129.0 735.6,1139.0 737.6,1148.9 739.6,1158.6 741.6,1168.2 743.6,1177.8 745.6,1187.1 747.6,1196.4 749.6,1205.5 751.6,1214.4 753.6,1223.3 755.6,1232.0 757.6,1240.6 759.6,1249.2 761.6,1257.7 763.6,1266.1 765.6,1274.6 767.6,1283.0 769.6,1291.4 771.6,1299.8 773.6,1308.3 775.6,1316.8 777.6,1325.2 779.6,1333.6 781.6,1341.7 783.6,1349.5 785.6,1357.0 787.6,1364.1 789.6,1370.6 791.6,1376.6 793.6,1382.1 795.6,1387.0 797.6,1391.5 799.6,1395.4 801.6,1399.0 803.6,1402.1 805.6,1404.9 807.6,1407.4 809.6,1409.5 811.6,1411.4 813.6,1413.1 815.6,1414.5 817.6,1415.8 819.6,1416.9 821.6,1417.9 823.6,1418.8 825.6,1419.7 827.6,1420.4 829.6,1421.1 831.6,1421.7 833.6,1422.2 835.6,1422.6 837.6,1423.0 839.6,1423.3 841.6,1423.4 843.6,1423.5 845.6,1423.5 847.6,1423.5 849.6,1423.3 851.6,1423.0 853.6,1422.7 855.6,1422.3 857.6,1421.7 859.6,1421.1 861.6,1420.4 863.6,1419.6 865.6,1418.7 867.6,1417.7 869.6,1416.7 871.6,1415.5 873.6,1414.2 875.6,1412.9 877.6,1411.4 879.6,1409.9 881.6,1408.2 883.6,1406.4 885.6,1404.6 887.6,1402.6 889.6,1400.5 891.6,1398.3 893.6,1395.9 895.6,1393.5 897.6,1390.9 899.6,1388.1 901.6,1385.3 903.6,1382.2 905.6,1379.1 907.6,1375.7 909.6,1372.2 911.6,1368.6 913.6,1364.8 915.6,1360.8 917.6,1356.6 919.6,1352.3 921.6,1347.8 923.6,1343.1 925.6,1338.2 927.6,1333.1 929.6,1327.8 931.6,1322.3 933.6,1316.6 935.6,1310.7 937.6,1304.6 939.6,1298.4 941.6,1292.0 943.6,1285.4 945.6,1278.8 947.6,1272.0 949.6,1265.0 951.6,1258.0 953.6,1250.9 955.6,1243.8 957.6,1236.5 959.6,1229.2 961.6,1221.9 963.6,1214.6 965.6,1207.2 967.6,1199.8 969.6,1192.5 971.6,1185.1 973.6,1177.7 975.6,1170.4 977.6,1163.0 979.6,1155.7 981.6,1148.3 983.6,1140.9 985.6,1133.4 987.6,1126.0 989.6,1118.5 991.6,1111.0 993.6,1103.5 995.6,1095.9 997.6,1088.3 999.6,1080.6 1001.6,1072.9 1003.6,1065.1 1005.6,1057.3 1007.6,1049.4 1009.6,1041.4 1011.6,1033.3 1013.6,1025.2 1015.6,1017.0 1017.6,1008.8 1019.6,1000.4 1021.6,992.0 1023.6,983.5 1025.6,974.9 1027.6,966.3 1029.6,957.7 1031.6,949.1 1033.6,940.6 1035.6,932.1 1037.6,923.7 1039.6,915.3 1041.6,907.0 1043.6,898.9 1045.6,890.9 1047.6,883.1 1049.6,875.4 1051.6,867.9 1053.6,860.7 1055.6,853.7 1057.6,846.9 1059.6,840.4 1061.6,834.1 1063.6,828.2 1065.6,822.4 1067.6,817.0 1069.6,811.7 1071.6,806.8 1073.6,802.1 1075.6,797.6 1077.6,793.4 1079.6,789.4 1081.6,785.7 1083.6,782.2 1085.6,779.0 1087.6,776.0 1089.6,773.3 1091.6,770.8 1093.6,768.5 1095.6,766.5 1097.6,764.8 1099.6,763.4 1101.6,762.2 1103.6,761.2 1105.6,760.6 1107.6,760.2 1109.6,760.1 1111.6,760.3 1113.6,760.7 1115.6,761.5 1117.6,762.5 1119.6,763.8 1121.6,765.4 1123.6,767.4 1125.6,769.6 1127.6,772.1 1129.6,774.9 1131.6,778.1 1133.6,781.6 1135.6,785.4 1137.6,789.6 1139.6,794.1 1141.6,799.0 1143.6,804.3 1145.6,810.0 1147.6,816.0 1149.6,822.5 1151.6,829.3 1153.6,836.5 1155.6,844.1 1157.6,851.9 1159.6,859.9 1161.6,868.2 1163.6,876.6 1165.6,885.1 1167.6,893.7 1169.6,902.3 1171.6,911.0 1173.6,919.5 1175.6,928.1 1177.6,936.5 1179.6,944.9 1181.6,953.2 1183.6,961.6 1185.6,969.9 1187.6,978.3 1189.6,986.7 1191.6,995.1 1193.6,1003.7 1195.6,1012.3 1197.6,1021.1 1199.6,1029.9 1201.6,1038.9 1203.6,1048.0 1205.6,1057.2 1207.6,1066.4 1209.6,1075.7 1211.6,1085.0 1213.6,1094.3 1215.6,1103.5 1217.6,1112.7 1219.6,1121.9 1221.6,1131.0 1223.6,1139.9 1225.6,1148.8 1227.6,1157.5 1229.6,1166.1 1231.6,1174.4 1233.6,1182.6 1235.6,1190.6 1237.6,1198.4 1239.6,1206.1 1241.6,1213.6 1243.6,1220.9 1245.6,1228.1 1247.6,1235.1 1249.6,1242.0 1251.6,1248.8 1253.6,1255.4 1255.6,1261.9 1257.6,1268.3 1259.6,1274.5 1261.6,1280.7 1263.6,1286.7 1265.6,1292.7 1267.6,1298.5 1269.6,1304.3 1271.6,1309.9 1273.6,1315.4 1275.6,1320.8 1277.6,1325.9 1279.6,1330.9 1281.6,1335.8 1283.6,1340.4 1285.6,1344.7 1287.6,1348.9 1289.6,1352.8 1291.6,1356.4 1293.6,1359.8 1295.6,1362.8 1297.6,1365.6 1299.6,1368.2 1301.6,1370.5 1303.6,1372.5 1305.6,1374.4 1307.6,1376.2 1309.6,1377.7 1311.6,1379.2 1313.6,1380.5 1315.6,1381.8 1317.6,1382.9 1319.6,1384.1 1321.6,1385.2 1323.6,1386.3 1325.6,1387.4 1327.6,1388.5 1329.6,1389.7 1331.6,1390.9 1333.6,1392.1 1335.6,1393.4 1337.6,1394.7 1339.6,1396.0 1341.6,1397.3 1343.6,1398.6 1345.6,1399.9 1347.6,1401.2 1349.6,1402.5 1351.6,1403.7 1353.6,1404.8 1355.6,1406.0 1357.6,1407.0 1359.6,1408.1 1361.6,1409.0 1363.6,1410.0 1365.6,1410.9 1367.6,1411.8 1369.6,1412.7 1371.6,1413.6 1373.6,1414.5 1375.6,1415.3 1377.6,1416.2 1379.6,1417.0 1381.6,1417.8 1383.6,1418.6 1385.6,1419.5 1387.6,1420.3 1389.6,1421.1 1391.6,1422.0 1393.6,1422.8 1395.6,1423.7 1397.6,1424.6 1399.6,1425.4 1401.6,1426.4 1403.6,1427.3 1405.6,1428.2 1407.6,1429.2 1409.6,1430.1 1411.6,1431.1 1413.6,1432.1 1415.6,1433.0 1417.6,1434.0 1419.6,1435.0 1421.6,1436.0 1423.6,1437.0 1425.6,1438.0 1427.6,1438.9 1429.6,1439.9 1431.6,1440.9 1433.6,1441.8 1435.6,1442.7 1437.6,1443.7 1439.6,1444.6 1441.6,1445.4 1443.6,1446.3 1445.6,1447.2 1447.6,1448.0 1449.6,1448.8 1451.6,1449.5 1453.6,1450.3 1455.6,1451.0 1457.6,1451.7 1459.6,1452.4 1461.6,1453.1 1463.6,1453.8 1465.6,1454.4 1467.6,1455.0 1469.6,1455.6 1471.6,1456.2 1473.6,1456.7 1475.6,1457.3 1477.6,1457.8 1479.6,1458.3 1481.6,1458.8 1483.6,1459.3 1485.6,1459.8 1487.6,1460.3 1489.6,1460.7 1491.6,1461.1 1493.6,1461.6 1495.6,1462.0 1497.6,1462.4 1499.6,1462.8 1501.6,1463.2 1505.6,1463.9 1509.6,1464.6 1513.6,1465.3 1517.6,1466.0 1521.6,1466.6 1525.6,1467.2 1529.6,1467.8 1533.6,1468.4 1537.6,1469.0 1541.6,1469.5 1545.6,1470.0 1549.6,1470.5 1553.6,1471.0 1557.6,1471.4 1561.6,1471.9 1565.6,1472.3 1569.6,1472.7 1573.6,1473.1 1577.6,1473.4 1581.6,1473.8 1585.6,1474.1 1589.6,1474.4 1593.6,1474.7 1597.6,1475.0 1601.6,1475.3 1605.6,1475.5 1609.6,1475.8 1613.6,1476.0 1617.6,1476.2 1621.6,1476.4 1625.6,1476.6 1629.6,1476.8 1633.6,1477.0 1637.6,1477.1 1641.6,1477.3 1645.6,1477.4 1649.6,1477.5 1653.6,1477.6 1657.6,1477.7 1661.6,1477.8 1665.6,1477.9 1669.6,1478.0 1673.6,1478.1 1677.6,1478.1 1681.6,1478.2 1685.6,1478.3 1689.6,1478.3 1693.6,1478.3 1697.6,1478.4 1701.6,1478.4 1705.6,1478.4 1709.6,1478.4 1713.6,1478.5 1717.6,1478.5 1721.6,1478.5 1725.6,1478.5 1729.6,1478.5 1733.6,1478.5 1737.6,1478.5 1741.6,1478.5 1745.6,1478.5 1749.6,1478.5 1753.6,1478.5 1757.6,1478.5 1761.6,1478.5 1765.6,1478.5 1769.6,1478.5 1773.6,1478.5 1777.6,1478.5 1781.6,1478.6 1785.6,1479.1 1789.6,1479.5 1793.6,1479.2 1797.6,1478.4 1801.6,1477.2 1805.6,1475.8 1809.6,1475.6 1813.6,1477.0 1817.6,1478.2 1821.6,1478.7 1825.6,1478.8 1829.6,1478.9 1833.6,1478.9 1837.6,1479.0 1841.6,1479.0 1845.6,1479.1 1849.6,1479.2 1853.6,1479.3 1857.6,1479.3 1861.6,1479.4 1865.6,1479.5 1869.6,1479.6 1873.6,1479.7 1877.6,1479.8 1881.6,1479.9 1885.6,1480.0 1889.6,1480.1 1893.6,1480.2 1897.6,1480.3 1901.6,1480.4 1905.6,1480.5 1909.6,1480.6 1913.6,1480.7 1917.6,1480.8 1921.6,1480.9 1925.6,1481.1 1929.6,1481.2 1933.6,1481.3 1937.6,1481.4 1941.6,1481.6 1945.6,1481.7 1949.6,1481.8 1953.6,1482.0 1957.6,1482.1 1961.6,1482.2 1965.6,1482.4 1969.6,1482.5 1973.6,1482.6 1977.6,1482.8 1981.6,1482.9 1985.6,1483.0 1989.6,1483.2 1993.6,1483.3 1997.6,1483.5 2001.6,1483.6 2005.6,1483.8 2009.6,1483.9 2013.6,1484.0 2017.6,1484.2 2021.6,1484.3 2025.6,1484.5 2029.6,1484.6 2033.6,1484.8 2037.6,1484.9 2041.6,1485.0 2045.6,1485.2 2049.6,1485.3 2053.6,1485.5 2057.6,1485.6 2061.6,1485.8 2065.6,1485.9 2069.6,1486.0 2073.6,1486.2 2077.6,1486.3 2081.6,1486.4 2085.6,1486.6 2089.6,1486.7 2093.6,1486.8 2097.6,1487.0 2101.6,1487.1 2105.6,1487.2 2109.6,1487.4 2113.6,1487.5 2117.6,1487.6 2121.6,1487.7 2125.6,1487.9 2129.6,1488.0 2133.6,1488.1 2137.6,1488.2 2141.6,1488.3 2145.6,1488.4 2149.6,1488.5 2153.6,1488.6 2157.6,1488.7 2161.6,1488.8 2165.6,1488.9 2169.6,1489.0 2173.6,1489.1 2177.6,1489.2 2181.6,1489.3 2185.6,1489.4 2189.6,1489.5 2193.6,1489.5 2197.6,1489.6 2201.6,1489.7 2205.6,1489.8 2209.6,1489.8 2213.6,1489.9 2217.6,1489.9 2221.6,1490.0 2225.6,1490.0 2229.6,1490.1 2233.6,1490.1 2237.6,1490.2 2241.6,1490.2 2245.6,1490.2 2249.6,1490.3 2253.6,1490.3 2257.6,1490.3 2261.6,1490.3 2265.6,1490.3 2269.6,1490.3 2273.6,1490.3 2277.6,1490.3 2281.6,1490.3 2285.6,1490.3 2289.6,1490.3 2293.6,1490.3 2297.6,1490.2 2301.6,1490.2 2305.6,1490.1 2309.6,1490.1 2313.6,1490.1 2317.6,1490.0 2321.6,1489.9 2325.6,1489.9 2329.6,1489.8 2333.6,1489.7 2337.6,1489.6 2341.6,1489.5 2345.6,1489.4 2349.6,1489.3 2353.6,1489.2 2357.6,1489.1 2361.6,1489.0 2362.0,1489.0" stroke="#ff0080"/>
<path d="M329.6,629.0 331.6,620.3 333.6,615.1 335.6,612.9 337.6,613.7 339.6,617.2 341.6,623.1 343.6,631.1 345.6,641.0 347.6,652.6 349.6,665.6 351.6,679.8 353.6,694.9 355.6,710.8 357.6,727.3 359.6,744.4 361.6,762.0 363.6,780.0 365.6,798.2 367.6,816.7 369.6,835.2 371.6,853.8 373.6,872.3 375.6,890.6 377.6,908.7 379.6,926.6 381.6,944.1 383.6,961.4 385.6,978.4 387.6,995.1 389.6,1011.4 391.6,1027.5 393.6,1043.2 395.6,1058.5 397.6,1073.4 399.6,1088.0 401.6,1102.2 403.6,1116.0 405.6,1129.4 407.6,1142.3 409.6,1154.8 411.6,1166.8 413.6,1178.4 415.6,1189.5 417.6,1200.1 419.6,1210.2 421.6,1219.7 423.6,1228.8 425.6,1237.3 427.6,1245.2 429.6,1252.6 431.6,1259.4 433.6,1265.7 435.6,1271.5 437.6,1276.8 439.6,1281.5 441.6,1285.7 443.6,1289.4 445.6,1292.6 447.6,1295.4 449.6,1297.6 451.6,1299.4 453.6,1300.7 455.6,1301.6 457.6,1302.0 459.6,1302.0 461.6,1301.6 463.6,1300.7 465.6,1299.4 467.6,1297.7 469.6,1295.6 471.6,1293.1 473.6,1290.2 475.6,1286.9 477.6,1283.3 479.6,1279.3 481.6,1274.9 483.6,1270.2 485.6,1265.2 487.6,1259.8 489.6,1254.1 491.6,1248.1 493.6,1241.7 495.6,1235.1 497.6,1228.2 499.6,1221.0 501.6,1213.5 503.6,1205.7 505.6,1197.7 507.6,1189.5 509.6,1181.1 511.6,1172.5 513.6,1163.8 515.6,1155.0 517.6,1146.1 519.6,1137.2 521.6,1128.2 523.6,1119.3 525.6,1110.4 527.6,1101.5 529.6,1092.7 531.6,1084.0 533.6,1075.4 535.6,1066.9 537.6,1058.5 539.6,1050.3 541.6,1042.1 543.6,1034.0 545.6,1026.0 547.6,1018.2 549.6,1010.4 551.6,1002.8 553.6,995.3 555.6,987.9 557.6,980.6 559.6,973.5 561.6,966.5 563.6,959.6 565.6,952.8 567.6,946.2 569.6,939.8 571.6,933.4 573.6,927.2 575.6,921.2 577.6,915.3 579.6,909.5 581.6,903.9 583.6,898.5 585.6,893.2 587.6,888.0 589.6,882.9 591.6,877.9 593.6,873.0 595.6,868.1 597.6,863.2 599.6,858.4 601.6,853.5 603.6,848.7 605.6,843.8 607.6,838.8 609.6,833.9 611.6,828.9 613.6,823.9 615.6,818.8 617.6,813.7 619.6,808.6 621.6,803.5 623.6,798.3 625.6,793.1 627.6,788.1 629.6,783.1 631.6,778.2 633.6,773.6 635.6,769.2 637.6,765.1 639.6,761.3 641.6,757.9 643.6,754.8 645.6,752.1 647.6,749.8 649.6,747.9 651.6,746.2 653.6,744.9 655.6,743.9 657.6,743.2 659.6,742.8 661.6,742.7 663.6,742.8 665.6,743.2 667.6,744.0 669.6,745.2 671.6,746.8 673.6,748.9 675.6,751.5 677.6,754.8 679.6,758.6 681.6,763.2 683.6,768.4 685.6,774.5 687.6,781.3 689.6,789.1 691.6,797.6 693.6,806.9 695.6,816.8 697.6,827.2 699.6,838.1 701.6,849.5 703.6,861.1 705.6,872.9 707.6,884.8 709.6,896.8 711.6,908.8 713.6,920.7 715.6,932.6 717.6,944.5 719.6,956.4 721.6,968.4 723.6,980.3 725.6,992.3 727.6,1004.3 729.6,1016.4 731.6,1028.6 733.6,1040.9 735.6,1053.2 737.6,1065.6 739.6,1078.2 741.6,1090.9 743.6,1103.7 745.6,1116.7 747.6,1129.7 749.6,1142.8 751.6,1155.8 753.6,1168.9 755.6,1181.8 757.6,1194.6 759.6,1207.2 761.6,1219.7 763.6,1231.9 765.6,1243.8 767.6,1255.3 769.6,1266.5 771.6,1277.3 773.6,1287.7 775.6,1297.6 777.6,1307.1 779.6,1316.2 781.6,1324.8 783.6,1333.1 785.6,1341.0 787.6,1348.5 789.6,1355.6 791.6,1362.3 793.6,1368.6 795.6,1374.6 797.6,1380.3 799.6,1385.6 801.6,1390.6 803.6,1395.2 805.6,1399.6 807.6,1403.6 809.6,1407.3 811.6,1410.7 813.6,1413.9 815.6,1416.7 817.6,1419.3 819.6,1421.6 821.6,1423.7 823.6,1425.5 825.6,1427.0 827.6,1428.3 829.6,1429.4 831.6,1430.3 833.6,1431.0 835.6,1431.5 837.6,1431.7 839.6,1431.8 841.6,1431.7 843.6,1431.4 845.6,1431.0 847.6,1430.4 849.6,1429.7 851.6,1428.8 853.6,1427.7 855.6,1426.6 857.6,1425.3 859.6,1423.9 861.6,1422.4 863.6,1420.8 865.6,1419.1 867.6,1417.2 869.6,1415.2 871.6,1413.1 873.6,1410.9 875.6,1408.5 877.6,1406.0 879.6,1403.3 881.6,1400.5 883.6,1397.5 885.6,1394.4 887.6,1391.1 889.6,1387.7 891.6,1384.1 893.6,1380.3 895.6,1376.4 897.6,1372.2 899.6,1367.9 901.6,1363.5 903.6,1358.8 905.6,1354.0 907.6,1348.9 909.6,1343.7 911.6,1338.3 913.6,1332.7 915.6,1327.0 917.6,1321.0 919.6,1315.0 921.6,1308.7 923.6,1302.3 925.6,1295.8 927.6,1289.1 929.6,1282.2 931.6,1275.3 933.6,1268.2 935.6,1260.9 937.6,1253.6 939.6,1246.1 941.6,1238.5 943.6,1230.8 945.6,1223.0 947.6,1215.1 949.6,1207.1 951.6,1199.0 953.6,1190.8 955.6,1182.5 957.6,1174.1 959.6,1165.7 961.6,1157.1 963.6,1148.4 965.6,1139.6 967.6,1130.7 969.6,1121.7 971.6,1112.6 973.6,1103.4 975.6,1094.1 977.6,1084.6 979.6,1075.0 981.6,1065.3 983.6,1055.5 985.6,1045.5 987.6,1035.4 989.6,1025.2 991.6,1014.8 993.6,1004.3 995.6,993.7 997.6,982.9 999.6,972.0 1001.6,961.0 1003.6,949.9 1005.6,938.8 1007.6,927.6 1009.6,916.3 1011.6,905.0 1013.6,893.7 1015.6,882.4 1017.6,871.1 1019.6,859.9 1021.6,848.7 1023.6,837.5 1025.6,826.4 1027.6,815.5 1029.6,804.6 1031.6,793.8 1033.6,783.2 1035.6,772.7 1037.6,762.4 1039.6,752.2 1041.6,742.1 1043.6,732.3 1045.6,722.6 1047.6,713.1 1049.6,703.8 1051.6,694.6 1053.6,685.7 1055.6,677.0 1057.6,668.6 1059.6,660.3 1061.6,652.3 1063.6,644.6 1065.6,637.1 1067.6,629.9 1069.6,622.9 1071.6,616.2 1073.6,609.8 1075.6,603.7 1077.6,597.9 1079.6,592.4 1081.6,587.2 1083.6,582.3 1085.6,577.8 1087.6,573.6 1089.6,569.8 1091.6,566.3 1093.6,563.2 1095.6,560.4 1097.6,558.0 1099.6,556.0 1101.6,554.3 1103.6,553.0 1105.6,552.0 1107.6,551.4 1109.6,551.2 1111.6,551.3 1113.6,551.8 1115.6,552.7 1117.6,554.0 1119.6,555.7 1121.6,557.7 1123.6,560.1 1125.6,562.8 1127.6,566.0 1129.6,569.6 1131.6,573.6 1133.6,578.1 1135.6,583.0 1137.6,588.5 1139.6,594.5 1141.6,601.0 1143.6,608.2 1145.6,615.9 1147.6,624.3 1149.6,633.2 1151.6,642.7 1153.6,652.5 1155.6,662.6 1157.6,673.0 1159.6,683.6 1161.6,694.3 1163.6,704.9 1165.6,715.5 1167.6,725.9 1169.6,736.1 1171.6,746.2 1173.6,756.2 1175.6,766.3 1177.6,776.5 1179.6,786.8 1181.6,797.3 1183.6,808.0 1185.6,819.1 1187.6,830.6 1189.6,842.5 1191.6,854.7 1193.6,867.3 1195.6,880.1 1197.6,893.2 1199.6,906.4 1201.6,919.8 1203.6,933.4 1205.6,947.0 1207.6,960.5 1209.6,973.8 1211.6,987.0 1213.6,999.9 1215.6,1012.6 1217.6,1025.0 1219.6,1037.2 1221.6,1049.2 1223.6,1061.0 1225.6,1072.5 1227.6,1083.9 1229.6,1095.0 1231.6,1105.8 1233.6,1116.5 1235.6,1126.9 1237.6,1137.1 1239.6,1147.1 1241.6,1156.8 1243.6,1166.3 1245.6,1175.6 1247.6,1184.7 1249.6,1193.5 1251.6,1202.1 1253.6,1210.5 1255.6,1218.7 1257.6,1226.6 1259.6,1234.4 1261.6,1241.9 1263.6,1249.1 1265.6,1256.2 1267.6,1263.0 1269.6,1269.6 1271.6,1276.0 1273.6,1282.1 1275.6,1288.1 1277.6,1293.8 1279.6,1299.2 1281.6,1304.5 1283.6,1309.6 1285.6,1314.4 1287.6,1319.1 1289.6,1323.5 1291.6,1327.8 1293.6,1331.9 1295.6,1335.8 1297.6,1339.6 1299.6,1343.2 1301.6,1346.6 1303.6,1349.9 1305.6,1353.0 1307.6,1356.0 1309.6,1358.8 1311.6,1361.5 1313.6,1364.1 1315.6,1366.6 1317.6,1368.9 1319.6,1371.2 1321.6,1373.3 1323.6,1375.4 1325.6,1377.3 1327.6,1379.2 1329.6,1381.0 1331.6,1382.7 1333.6,1384.4 1335.6,1386.0 1337.6,1387.5 1339.6,1389.0 1341.6,1390.4 1343.6,1391.8 1345.6,1393.2 1347.6,1394.5 1349.6,1395.8 1351.6,1397.1 1353.6,1398.4 1355.6,1399.6 1357.6,1400.9 1359.6,1402.2 1361.6,1403.4 1363.6,1404.7 1365.6,1405.9 1367.6,1407.2 1369.6,1408.4 1371.6,1409.7 1373.6,1410.9 1375.6,1412.1 1377.6,1413.4 1379.6,1414.6 1381.6,1415.8 1383.6,1417.1 1385.6,1418.3 1387.6,1419.5 1389.6,1420.7 1391.6,1422.0 1393.6,1423.2 1395.6,1424.4 1397.6,1425.6 1399.6,1426.8 1401.6,1428.1 1403.6,1429.3 1405.6,1430.5 1407.6,1431.7 1409.6,1432.9 1411.6,1434.2 1413.6,1435.4 1415.6,1436.6 1417.6,1437.8 1419.6,1439.0 1421.6,1440.2 1423.6,1441.5 1425.6,1442.7 1427.6,1443.9 1429.6,1445.1 1431.6,1446.3 1433.6,1447.6 1435.6,1448.8 1437.6,1450.0 1439.6,1451.2 1441.6,1452.4 1443.6,1453.6 1445.6,1454.8 1447.6,1455.9 1449.6,1457.1 1451.6,1458.3 1453.6,1459.4 1455.6,1460.6 1457.6,1461.7 1459.6,1462.8 1461.6,1463.9 1463.6,1465.0 1465.6,1466.1 1467.6,1467.2 1469.6,1468.3 1471.6,1469.3 1473.6,1470.3 1475.6,1471.3 1477.6,1472.3 1479.6,1473.3 1481.6,1474.3 1483.6,1475.2 1485.6,1476.1 1487.6,1477.0 1489.6,1477.9 1491.6,1478.7 1493.6,1479.5 1495.6,1480.3 1497.6,1481.1 1499.6,1481.9 1501.6,1482.6 1505.6,1484.0 1509.6,1485.2 1513.6,1486.4 1517.6,1487.4 1521.6,1488.3 1525.6,1489.1 1529.6,1489.8 1533.6,1490.5 1537.6,1491.0 1541.6,1491.5 1545.6,1491.9 1549.6,1492.3 1553.6,1492.7 1557.6,1493.0 1561.6,1493.3 1565.6,1493.6 1569.6,1493.9 1573.6,1494.1 1577.6,1494.4 1581.6,1494.6 1585.6,1494.9 1589.6,1495.1 1593.6,1495.3 1597.6,1495.5 1601.6,1495.6 1605.6,1495.8 1609.6,1496.0 1613.6,1496.1 1617.6,1496.3 1621.6,1496.4 1625.6,1496.5 1629.6,1496.6 1633.6,1496.7 1637.6,1496.8 1641.6,1496.9 1645.6,1497.0 1649.6,1497.0 1653.6,1497.1 1657.6,1497.2 1661.6,1497.2 1665.6,1497.2 1669.6,1497.3 1673.6,1497.3 1677.6,1497.3 1681.6,1497.3 1685.6,1497.3 1689.6,1497.3 1693.6,1497.3 1697.6,1497.3 1701.6,1497.3 1705.6,1497.3 1709.6,1497.2 1713.6,1497.2 1717.6,1497.2 1721.6,1497.1 1725.6,1497.1 1729.6,1497.0 1733.6,1497.0 1737.6,1496.9 1741.6,1496.9 1745.6,1496.8 1749.6,1496.8 1753.6,1496.7 1757.6,1496.7 1761.6,1496.6 1765.6,1496.5 1769.6,1496.5 1773.6,1496.4 1777.6,1496.3 1781.6,1496.3 1785.6,1496.2 1789.6,1496.1 1793.6,1496.1 1797.6,1496.0 1801.6,1496.0 1805.6,1495.9 1809.6,1495.8 1813.6,1495.8 1817.6,1495.7 1821.6,1495.7 1825.6,1495.6 1829.6,1495.6 1833.6,1495.5 1837.6,1495.5 1841.6,1495.4 1845.6,1495.4 1849.6,1495.3 1853.6,1495.3 1857.6,1495.2 1861.6,1495.2 1865.6,1495.2 1869.6,1495.1 1873.6,1495.1 1877.6,1495.0 1881.6,1495.0 1885.6,1495.0 1889.6,1494.9 1893.6,1494.9 1897.6,1494.9 1901.6,1494.8 1905.6,1494.8 1909.6,1494.8 1913.6,1494.7 1917.6,1494.7 1921.6,1494.7 1925.6,1494.7 1929.6,1494.6 1933.6,1494.6 1937.6,1494.6 1941.6,1494.6 1945.6,1494.5 1949.6,1494.5 1953.6,1494.5 1957.6,1494.5 1961.6,1494.5 1965.6,1494.4 1969.6,1494.4 1973.6,1494.4 1977.6,1494.4 1981.6,1494.4 1985.6,1494.3 1989.6,1494.3 1993.6,1494.3 1997.6,1494.3 2001.6,1494.3 2005.6,1494.3 2009.6,1494.3 2013.6,1494.2 2017.6,1494.2 2021.6,1494.2 2025.6,1494.2 2029.6,1494.2 2033.6,1494.2 2037.6,1494.2 2041.6,1494.1 2045.6,1494.1 2049.6,1494.1 2053.6,1494.1 2057.6,1494.1 2061.6,1494.1 2065.6,1494.1 2069.6,1494.1 2073.6,1494.1 2077.6,1494.0 2081.6,1494.0 2085.6,1494.0 2089.6,1494.0 2093.6,1494.0 2097.6,1494.0 2101.6,1494.0 2105.6,1494.0 2109.6,1493.9 2113.6,1493.9 2117.6,1493.9 2121.6,1493.9 2125.6,1493.9 2129.6,1493.9 2133.6,1493.9 2137.6,1493.9 2141.6,1493.8 2145.6,1493.8 2149.6,1493.8 2153.6,1493.8 2157.6,1493.8 2161.6,1493.8 2165.6,1493.7 2169.6,1493.7 2173.6,1493.7 2177.6,1493.7 2181.6,1493.7 2185.6,1493.7 2189.6,1493.6 2193.6,1493.6 2197.6,1493.6 2201.6,1493.6 2205.6,1493.5 2209.6,1493.5 2213.6,1493.5 2217.6,1493.5 2221.6,1493.5 2225.6,1493.4 2229.6,1493.4 2233.6,1493.4 2237.6,1493.3 2241.6,1493.3 2245.6,1493.3 2249.6,1493.3 2253.6,1493.2 2257.6,1493.2 2261.6,1493.2 2265.6,1493.1 2269.6,1493.1 2273.6,1493.1 2277.6,1493.0 2281.6,1493.0 2285.6,1492.9 2289.6,1492.9 2293.6,1492.9 2297.6,1492.8 2301.6,1492.8 2305.6,1492.7 2309.6,1492.7 2313.6,1492.6 2317.6,1492.6 2321.6,1492.5 2325.6,1492.5 2329.6,1492.4 2333.6,1492.4 2337.6,1492.3 2341.6,1492.3 2345.6,1492.2 2349.6,1492.1 2353.6,1492.1 2357.6,1492.0 2361.6,1492.0 2362.0,1492.0" stroke="#008000"/>
<path d="M329.6,414.0 331.6,405.0 333.6,396.1 335.6,388.0 337.6,381.5 339.6,377.4 341.6,376.5 343.6,379.6 345.6,387.4 347.6,400.7 349.6,419.0 351.6,440.3 353.6,462.4 355.6,484.3 357.6,505.9 359.6,527.3 361.6,548.7 363.6,570.1 365.6,591.5 367.6,613.0 369.6,634.8 371.6,656.8 373.6,679.1 375.6,701.6 377.6,724.2 379.6,746.7 381.6,769.0 383.6,791.1 385.6,812.8 387.6,834.0 389.6,854.6 391.6,874.7 393.6,894.1 395.6,912.9 397.6,931.1 399.6,948.7 401.6,965.8 403.6,982.2 405.6,998.1 407.6,1013.4 409.6,1028.2 411.6,1042.4 413.6,1056.0 415.6,1069.1 417.6,1081.7 419.6,1093.7 421.6,1105.2 423.6,1116.2 425.6,1126.6 427.6,1136.6 429.6,1146.0 431.6,1155.0 433.6,1163.4 435.6,1171.4 437.6,1178.9 439.6,1185.9 441.6,1192.4 443.6,1198.4 445.6,1203.9 447.6,1208.9 449.6,1213.4 451.6,1217.3 453.6,1220.6 455.6,1223.5 457.6,1225.7 459.6,1227.4 461.6,1228.5 463.6,1228.9 465.6,1228.8 467.6,1228.1 469.6,1226.7 471.6,1224.7 473.6,1222.0 475.6,1218.8 477.6,1215.0 479.6,1210.6 481.6,1205.7 483.6,1200.3 485.6,1194.4 487.6,1188.1 489.6,1181.3 491.6,1174.1 493.6,1166.5 495.6,1158.5 497.6,1150.1 499.6,1141.5 501.6,1132.6 503.6,1123.6 505.6,1114.5 507.6,1105.3 509.6,1096.1 511.6,1086.8 513.6,1077.4 515.6,1067.7 517.6,1057.8 519.6,1047.3 521.6,1036.3 523.6,1024.8 525.6,1012.9 527.6,1001.2 529.6,989.8 531.6,979.0 533.6,968.5 535.6,958.4 537.6,948.5 539.6,938.9 541.6,929.6 543.6,920.5 545.6,911.6 547.6,902.8 549.6,894.1 551.6,885.6 553.6,877.2 555.6,868.8 557.6,860.4 559.6,852.2 561.6,844.0 563.6,836.0 565.6,828.1 567.6,820.3 569.6,812.7 571.6,805.3 573.6,798.0 575.6,790.9 577.6,783.8 579.6,776.9 581.6,770.2 583.6,763.5 585.6,756.9 587.6,750.4 589.6,744.0 591.6,737.7 593.6,731.4 595.6,725.1 597.6,719.0 599.6,712.8 601.6,706.7 603.6,700.5 605.6,694.4 607.6,688.3 609.6,682.2 611.6,676.2 613.6,670.2 615.6,664.3 617.6,658.5 619.6,652.8 621.6,647.3 623.6,641.8 625.6,636.6 627.6,631.5 629.6,626.6 631.6,621.9 633.6,617.4 635.6,613.2 637.6,609.2 639.6,605.4 641.6,602.0 643.6,598.9 645.6,596.1 647.6,593.6 649.6,591.4 651.6,589.7 653.6,588.3 655.6,587.3 657.6,586.7 659.6,586.5 661.6,586.8 663.6,587.6 665.6,588.8 667.6,590.5 669.6,592.7 671.6,595.4 673.6,598.6 675.6,602.3 677.6,606.6 679.6,611.4 681.6,616.8 683.6,622.8 685.6,629.3 687.6,636.4 689.6,644.1 691.6,652.4 693.6,661.4 695.6,671.0 697.6,681.2 699.6,692.1 701.6,703.5 703.6,715.6 705.6,728.2 707.6,741.3 709.6,754.9 711.6,769.0 713.6,783.4 715.6,798.2 717.6,813.3 719.6,828.7 721.6,844.4 723.6,860.3 725.6,876.4 727.6,892.6 729.6,908.9 731.6,925.3 733.6,941.7 735.6,958.2 737.6,974.5 739.6,990.9 741.6,1007.1 743.6,1023.2 745.6,1039.0 747.6,1054.7 749.6,1070.1 751.6,1085.3 753.6,1100.2 755.6,1114.8 757.6,1129.2 759.6,1143.2 761.6,1157.0 763.6,1170.5 765.6,1183.6 767.6,1196.5 769.6,1209.1 771.6,1221.3 773.6,1233.2 775.6,1244.8 777.6,1256.0 779.6,1266.9 781.6,1277.5 783.6,1287.7 785.6,1297.5 787.6,1307.0 789.6,1316.0 791.6,1324.8 793.6,1333.1 795.6,1341.0 797.6,1348.6 799.6,1355.7 801.6,1362.4 803.6,1368.7 805.6,1374.6 807.6,1380.1 809.6,1385.2 811.6,1389.8 813.6,1394.1 815.6,1398.0 817.6,1401.5 819.6,1404.6 821.6,1407.4 823.6,1409.8 825.6,1411.9 827.6,1413.7 829.6,1415.2 831.6,1416.4 833.6,1417.2 835.6,1417.8 837.6,1418.1 839.6,1418.2 841.6,1417.9 843.6,1417.5 845.6,1416.8 847.6,1415.9 849.6,1414.7 851.6,1413.4 853.6,1411.9 855.6,1410.1 857.6,1408.2 859.6,1406.2 861.6,1403.9 863.6,1401.6 865.6,1399.1 867.6,1396.4 869.6,1393.7 871.6,1390.8 873.6,1387.8 875.6,1384.7 877.6,1381.4 879.6,1378.0 881.6,1374.4 883.6,1370.6 885.6,1366.6 887.6,1362.4 889.6,1358.0 891.6,1353.3 893.6,1348.4 895.6,1343.2 897.6,1337.7 899.6,1332.1 901.6,1326.2 903.6,1320.1 905.6,1313.8 907.6,1307.3 909.6,1300.5 911.6,1293.6 913.6,1286.6 915.6,1279.3 917.6,1271.9 919.6,1264.3 921.6,1256.6 923.6,1248.8 925.6,1240.8 927.6,1232.7 929.6,1224.5 931.6,1216.2 933.6,1207.8 935.6,1199.3 937.6,1190.7 939.6,1182.1 941.6,1173.3 943.6,1164.5 945.6,1155.5 947.6,1146.4 949.6,1137.2 951.6,1127.9 953.6,1118.4 955.6,1108.8 957.6,1099.0 959.6,1089.1 961.6,1078.9 963.6,1068.7 965.6,1058.2 967.6,1047.5 969.6,1036.7 971.6,1025.6 973.6,1014.4 975.6,1002.9 977.6,991.1 979.6,979.2 981.6,967.1 983.6,954.8 985.6,942.4 987.6,929.9 989.6,917.3 991.6,904.7 993.6,892.0 995.6,879.2 997.6,866.5 999.6,853.8 1001.6,841.2 1003.6,828.6 1005.6,816.1 1007.6,803.6 1009.6,791.1 1011.6,778.7 1013.6,766.3 1015.6,753.9 1017.6,741.4 1019.6,729.0 1021.6,716.6 1023.6,704.2 1025.6,691.9 1027.6,679.7 1029.6,667.5 1031.6,655.3 1033.6,643.3 1035.6,631.4 1037.6,619.6 1039.6,608.0 1041.6,596.5 1043.6,585.2 1045.6,574.0 1047.6,563.1 1049.6,552.3 1051.6,541.8 1053.6,531.5 1055.6,521.4 1057.6,511.6 1059.6,502.1 1061.6,492.8 1063.6,483.9 1065.6,475.2 1067.6,466.9 1069.6,458.9 1071.6,451.3 1073.6,444.1 1075.6,437.2 1077.6,430.7 1079.6,424.6 1081.6,418.9 1083.6,413.6 1085.6,408.7 1087.6,404.2 1089.6,400.1 1091.6,396.4 1093.6,393.1 1095.6,390.2 1097.6,387.6 1099.6,385.5 1101.6,383.8 1103.6,382.4 1105.6,381.5 1107.6,380.9 1109.6,380.8 1111.6,381.0 1113.6,381.6 1115.6,382.6 1117.6,384.0 1119.6,385.8 1121.6,388.0 1123.6,390.6 1125.6,393.8 1127.6,397.5 1129.6,401.9 1131.6,407.1 1133.6,413.2 1135.6,420.2 1137.6,428.3 1139.6,437.4 1141.6,447.7 1143.6,458.7 1145.6,469.8 1147.6,480.6 1149.6,491.2 1151.6,501.7 1153.6,512.2 1155.6,522.8 1157.6,533.5 1159.6,544.3 1161.6,555.3 1163.6,566.5 1165.6,577.8 1167.6,589.3 1169.6,600.9 1171.6,612.8 1173.6,624.8 1175.6,637.1 1177.6,649.5 1179.6,662.2 1181.6,675.1 1183.6,688.2 1185.6,701.6 1187.6,715.2 1189.6,729.1 1191.6,743.2 1193.6,757.5 1195.6,772.0 1197.6,786.7 1199.6,801.5 1201.6,816.5 1203.6,831.4 1205.6,846.5 1207.6,861.5 1209.6,876.5 1211.6,891.5 1213.6,906.4 1215.6,921.1 1217.6,935.8 1219.6,950.3 1221.6,964.6 1223.6,978.6 1225.6,992.4 1227.6,1006.0 1229.6,1019.4 1231.6,1032.5 1233.6,1045.3 1235.6,1057.9 1237.6,1070.3 1239.6,1082.4 1241.6,1094.2 1243.6,1105.7 1245.6,1117.0 1247.6,1128.0 1249.6,1138.7 1251.6,1149.1 1253.6,1159.2 1255.6,1169.1 1257.6,1178.6 1259.6,1187.8 1261.6,1196.8 1263.6,1205.4 1265.6,1213.8 1267.6,1221.8 1269.6,1229.6 1271.6,1237.1 1273.6,1244.3 1275.6,1251.3 1277.6,1258.0 1279.6,1264.4 1281.6,1270.5 1283.6,1276.4 1285.6,1282.0 1287.6,1287.4 1289.6,1292.5 1291.6,1297.3 1293.6,1302.0 1295.6,1306.4 1297.6,1310.5 1299.6,1314.5 1301.6,1318.3 1303.6,1321.9 1305.6,1325.3 1307.6,1328.5 1309.6,1331.6 1311.6,1334.6 1313.6,1337.4 1315.6,1340.1 1317.6,1342.7 1319.6,1345.1 1321.6,1347.5 1323.6,1349.8 1325.6,1352.1 1327.6,1354.2 1329.6,1356.3 1331.6,1358.4 1333.6,1360.4 1335.6,1362.5 1337.6,1364.5 1339.6,1366.5 1341.6,1368.5 1343.6,1370.5 1345.6,1372.6 1347.6,1374.6 1349.6,1376.6 1351.6,1378.7 1353.6,1380.7 1355.6,1382.7 1357.6,1384.7 1359.6,1386.7 1361.6,1388.7 1363.6,1390.6 1365.6,1392.6 1367.6,1394.5 1369.6,1396.4 1371.6,1398.2 1373.6,1400.0 1375.6,1401.8 1377.6,1403.5 1379.6,1405.2 1381.6,1406.8 1383.6,1408.4 1385.6,1409.9 1387.6,1411.4 1389.6,1412.8 1391.6,1414.2 1393.6,1415.5 1395.6,1416.9 1397.6,1418.2 1399.6,1419.4 1401.6,1420.6 1403.6,1421.8 1405.6,1423.0 1407.6,1424.2 1409.6,1425.3 1411.6,1426.5 1413.6,1427.6 1415.6,1428.7 1417.6,1429.8 1419.6,1430.9 1421.6,1432.0 1423.6,1433.1 1425.6,1434.2 1427.6,1435.4 1429.6,1436.5 1431.6,1437.6 1433.6,1438.7 1435.6,1439.8 1437.6,1441.0 1439.6,1442.1 1441.6,1443.2 1443.6,1444.3 1445.6,1445.4 1447.6,1446.6 1449.6,1447.7 1451.6,1448.8 1453.6,1449.9 1455.6,1451.0 1457.6,1452.1 1459.6,1453.2 1461.6,1454.2 1463.6,1455.3 1465.6,1456.4 1467.6,1457.4 1469.6,1458.5 1471.6,1459.5 1473.6,1460.5 1475.6,1461.6 1477.6,1462.6 1479.6,1463.6 1481.6,1464.5 1483.6,1465.5 1485.6,1466.5 1487.6,1467.4 1489.6,1468.3 1491.6,1469.2 1493.6,1470.1 1495.6,1471.0 1497.6,1471.8 1499.6,1472.7 1501.6,1473.5 1505.6,1475.1 1509.6,1476.6 1513.6,1478.0 1517.6,1479.3 1521.6,1480.5 1525.6,1481.7 1529.6,1482.8 1533.6,1483.7 1537.6,1484.7 1541.6,1485.5 1545.6,1486.3 1549.6,1487.0 1553.6,1487.6 1557.6,1488.2 1561.6,1488.7 1565.6,1489.2 1569.6,1489.6 1573.6,1490.0 1577.6,1490.4 1581.6,1490.7 1585.6,1490.9 1589.6,1491.1 1593.6,1491.3 1597.6,1491.5 1601.6,1491.7 1605.6,1491.8 1609.6,1491.9 1613.6,1492.0 1617.6,1492.1 1621.6,1492.1 1625.6,1492.2 1629.6,1492.3 1633.6,1492.3 1637.6,1492.4 1641.6,1492.5 1645.6,1492.5 1649.6,1492.6 1653.6,1492.6 1657.6,1492.7 1661.6,1492.8 1665.6,1492.8 1669.6,1492.9 1673.6,1492.9 1677.6,1493.0 1681.6,1493.1 1685.6,1493.1 1689.6,1493.2 1693.6,1493.2 1697.6,1493.3 1701.6,1493.3 1705.6,1493.4 1709.6,1493.5 1713.6,1493.5 1717.6,1493.6 1721.6,1493.6 1725.6,1493.7 1729.6,1493.7 1733.6,1493.8 1737.6,1493.8 1741.6,1493.9 1745.6,1493.9 1749.6,1494.0 1753.6,1494.0 1757.6,1494.1 1761.6,1494.1 1765.6,1494.2 1769.6,1494.2 1773.6,1494.2 1777.6,1494.3 1781.6,1494.3 1785.6,1494.4 1789.6,1494.4 1793.6,1494.5 1797.6,1494.5 1801.6,1494.5 1805.6,1494.6 1809.6,1494.6 1813.6,1494.7 1817.6,1494.7 1821.6,1494.7 1825.6,1494.8 1829.6,1494.8 1833.6,1494.9 1837.6,1494.9 1841.6,1494.9 1845.6,1495.0 1849.6,1495.0 1853.6,1495.0 1857.6,1495.1 1861.6,1495.1 1865.6,1495.1 1869.6,1495.2 1873.6,1495.2 1877.6,1495.2 1881.6,1495.2 1885.6,1495.3 1889.6,1495.3 1893.6,1495.3 1897.6,1495.4 1901.6,1495.4 1905.6,1495.4 1909.6,1495.4 1913.6,1495.5 1917.6,1495.5 1921.6,1495.5 1925.6,1495.5 1929.6,1495.6 1933.6,1495.6 1937.6,1495.6 1941.6,1495.6 1945.6,1495.7 1949.6,1495.7 1953.6,1495.7 1957.6,1495.7 1961.6,1495.7 1965.6,1495.7 1969.6,1495.8 1973.6,1495.8 1977.6,1495.8 1981.6,1495.8 1985.6,1495.8 1989.6,1495.8 1993.6,1495.9 1997.6,1495.9 2001.6,1495.9 2005.6,1495.9 2009.6,1495.9 2013.6,1495.9 2017.6,1495.9 2021.6,1495.9 2025.6,1496.0 2029.6,1496.0 2033.6,1496.0 2037.6,1496.0 2041.6,1496.0 2045.6,1496.0 2049.6,1496.0 2053.6,1496.0 2057.6,1496.0 2061.6,1496.0 2065.6,1496.0 2069.6,1496.0 2073.6,1496.0 2077.6,1496.0 2081.6,1496.0 2085.6,1496.0 2089.6,1496.0 2093.6,1496.0 2097.6,1496.1 2101.6,1496.1 2105.6,1496.0 2109.6,1496.0 2113.6,1496.0 2117.6,1496.0 2121.6,1496.0 2125.6,1496.0 2129.6,1496.0 2133.6,1496.0 2137.6,1496.0 2141.6,1496.0 2145.6,1496.0 2149.6,1496.0 2153.6,1496.0 2157.6,1496.0 2161.6,1496.0 2165.6,1496.0 2169.6,1496.0 2173.6,1496.0 2177.6,1496.0 2181.6,1495.9 2185.6,1495.9 2189.6,1495.9 2193.6,1495.9 2197.6,1495.9 2201.6,1495.9 2205.6,1495.9 2209.6,1495.9 2213.6,1495.8 2217.6,1495.8 2221.6,1495.8 2225.6,1495.8 2229.6,1495.8 2233.6,1495.8 2237.6,1495.8 2241.6,1495.7 2245.6,1495.7 2249.6,1495.7 2253.6,1495.7 2257.6,1495.7 2261.6,1495.6 2265.6,1495.6 2269.6,1495.6 2273.6,1495.6 2277.6,1495.6 2281.6,1495.5 2285.6,1495.5 2289.6,1495.5 2293.6,1495.5 2297.6,1495.4 2301.6,1495.4 2305.6,1495.4 2309.6,1495.4 2313.6,1495.3 2317.6,1495.3 2321.6,1495.3 2325.6,1495.2 2329.6,1495.2 2333.6,1495.2 2337.6,1495.2 2341.6,1495.1 2345.6,1495.1 2349.6,1495.1 2353.6,1495.0 2357.6,1495.0 2361.6,1495.0 2362.0,1495.0" stroke="#0000a0"/>
<path d="M329.6,261.5 331.6,240.3 333.6,220.5 335.6,202.9 337.6,188.0 339.6,176.4 341.6,168.6 343.6,165.4 345.6,167.1 347.6,173.9 349.6,185.4 351.6,201.1 353.6,220.3 355.6,242.5 357.6,266.8 359.6,292.6 361.6,319.2 363.6,346.0 365.6,372.8 367.6,399.6 369.6,426.4 371.6,453.0 373.6,479.5 375.6,505.7 377.6,531.8 379.6,557.6 381.6,583.0 383.6,608.1 385.6,632.8 387.6,657.0 389.6,680.7 391.6,703.9 393.6,726.6 395.6,748.6 397.6,770.2 399.6,791.1 401.6,811.4 403.6,831.2 405.6,850.4 407.6,868.9 409.6,886.9 411.6,904.2 413.6,921.0 415.6,937.1 417.6,952.5 419.6,967.4 421.6,981.6 423.6,995.1 425.6,1008.0 427.6,1020.2 429.6,1031.8 431.6,1042.7 433.6,1052.9 435.6,1062.5 437.6,1071.3 439.6,1079.5 441.6,1086.9 443.6,1093.7 445.6,1099.8 447.6,1105.2 449.6,1110.0 451.6,1114.1 453.6,1117.4 455.6,1120.2 457.6,1122.2 459.6,1123.6 461.6,1124.4 463.6,1124.5 465.6,1123.9 467.6,1122.7 469.6,1120.8 471.6,1118.3 473.6,1115.1 475.6,1111.3 477.6,1106.9 479.6,1101.9 481.6,1096.4 483.6,1090.3 485.6,1083.7 487.6,1076.6 489.6,1069.0 491.6,1060.9 493.6,1052.4 495.6,1043.5 497.6,1034.2 499.6,1024.6 501.6,1014.7 503.6,1004.5 505.6,994.0 507.6,983.4 509.6,972.5 511.6,961.5 513.6,950.4 515.6,939.2 517.6,928.0 519.6,916.7 521.6,905.5 523.6,894.3 525.6,883.2 527.6,872.1 529.6,861.2 531.6,850.3 533.6,839.4 535.6,828.7 537.6,818.1 539.6,807.5 541.6,797.1 543.6,786.7 545.6,776.4 547.6,766.2 549.6,756.2 551.6,746.2 553.6,736.3 555.6,726.6 557.6,716.9 559.6,707.4 561.6,698.0 563.6,688.7 565.6,679.5 567.6,670.4 569.6,661.5 571.6,652.7 573.6,644.0 575.6,635.4 577.6,627.0 579.6,618.7 581.6,610.6 583.6,602.6 585.6,594.7 587.6,587.0 589.6,579.5 591.6,572.1 593.6,564.8 595.6,557.7 597.6,550.8 599.6,544.0 601.6,537.4 603.6,530.9 605.6,524.6 607.6,518.5 609.6,512.5 611.6,506.7 613.6,501.1 615.6,495.7 617.6,490.5 619.6,485.4 621.6,480.6 623.6,475.9 625.6,471.4 627.6,467.1 629.6,463.0 631.6,459.1 633.6,455.3 635.6,451.8 637.6,448.6 639.6,445.5 641.6,442.8 643.6,440.3 645.6,438.1 647.6,436.2 649.6,434.7 651.6,433.5 653.6,432.6 655.6,432.2 657.6,432.2 659.6,432.5 661.6,433.4 663.6,434.6 665.6,436.4 667.6,438.6 669.6,441.4 671.6,444.7 673.6,448.5 675.6,452.9 677.6,457.9 679.6,463.4 681.6,469.6 683.6,476.4 685.6,483.8 687.6,491.8 689.6,500.4 691.6,509.7 693.6,519.5 695.6,530.0 697.6,541.1 699.6,552.8 701.6,565.1 703.6,578.1 705.6,591.6 707.6,605.8 709.6,620.6 711.6,635.9 713.6,652.0 715.6,668.6 717.6,685.7 719.6,703.3 721.6,721.3 723.6,739.6 725.6,758.1 727.6,776.8 729.6,795.7 731.6,814.6 733.6,833.4 735.6,852.2 737.6,870.7 739.6,889.1 741.6,907.4 743.6,925.4 745.6,943.1 747.6,960.7 749.6,978.0 751.6,995.0 753.6,1011.8 755.6,1028.3 757.6,1044.6 759.6,1060.5 761.6,1076.1 763.6,1091.4 765.6,1106.3 767.6,1120.9 769.6,1135.2 771.6,1149.0 773.6,1162.5 775.6,1175.6 777.6,1188.3 779.6,1200.6 781.6,1212.4 783.6,1223.8 785.6,1234.8 787.6,1245.3 789.6,1255.3 791.6,1264.8 793.6,1273.8 795.6,1282.4 797.6,1290.4 799.6,1297.9 801.6,1305.0 803.6,1311.6 805.6,1317.8 807.6,1323.5 809.6,1328.8 811.6,1333.6 813.6,1338.1 815.6,1342.1 817.6,1345.8 819.6,1349.1 821.6,1352.0 823.6,1354.6 825.6,1356.8 827.6,1358.7 829.6,1360.3 831.6,1361.6 833.6,1362.5 835.6,1363.2 837.6,1363.6 839.6,1363.8 841.6,1363.6 843.6,1363.3 845.6,1362.7 847.6,1361.8 849.6,1360.7 851.6,1359.4 853.6,1357.9 855.6,1356.1 857.6,1354.1 859.6,1351.8 861.6,1349.4 863.6,1346.7 865.6,1343.8 867.6,1340.6 869.6,1337.3 871.6,1333.7 873.6,1329.9 875.6,1325.9 877.6,1321.7 879.6,1317.3 881.6,1312.7 883.6,1307.9 885.6,1302.8 887.6,1297.6 889.6,1292.2 891.6,1286.5 893.6,1280.7 895.6,1274.7 897.6,1268.4 899.6,1262.0 901.6,1255.4 903.6,1248.6 905.6,1241.7 907.6,1234.5 909.6,1227.2 911.6,1219.6 913.6,1211.9 915.6,1204.0 917.6,1196.0 919.6,1187.7 921.6,1179.3 923.6,1170.7 925.6,1162.0 927.6,1153.0 929.6,1144.0 931.6,1134.7 933.6,1125.3 935.6,1115.7 937.6,1105.9 939.6,1096.0 941.6,1085.9 943.6,1075.7 945.6,1065.3 947.6,1054.8 949.6,1044.1 951.6,1033.3 953.6,1022.3 955.6,1011.1 957.6,999.9 959.6,988.4 961.6,976.9 963.6,965.2 965.6,953.3 967.6,941.3 969.6,929.2 971.6,916.9 973.6,904.6 975.6,892.0 977.6,879.4 979.6,866.6 981.6,853.7 983.6,840.7 985.6,827.5 987.6,814.2 989.6,800.8 991.6,787.3 993.6,773.7 995.6,760.0 997.6,746.2 999.6,732.4 1001.6,718.5 1003.6,704.6 1005.6,690.7 1007.6,676.8 1009.6,662.9 1011.6,649.1 1013.6,635.3 1015.6,621.6 1017.6,608.0 1019.6,594.5 1021.6,581.1 1023.6,567.9 1025.6,554.8 1027.6,541.9 1029.6,529.2 1031.6,516.6 1033.6,504.3 1035.6,492.1 1037.6,480.2 1039.6,468.5 1041.6,457.0 1043.6,445.7 1045.6,434.7 1047.6,423.9 1049.6,413.4 1051.6,403.1 1053.6,393.0 1055.6,383.3 1057.6,373.7 1059.6,364.5 1061.6,355.6 1063.6,346.9 1065.6,338.5 1067.6,330.4 1069.6,322.7 1071.6,315.2 1073.6,308.1 1075.6,301.2 1077.6,294.7 1079.6,288.6 1081.6,282.8 1083.6,277.3 1085.6,272.2 1087.6,267.5 1089.6,263.2 1091.6,259.2 1093.6,255.7 1095.6,252.6 1097.6,249.9 1099.6,247.6 1101.6,245.8 1103.6,244.4 1105.6,243.5 1107.6,243.0 1109.6,243.1 1111.6,243.6 1113.6,244.7 1115.6,246.2 1117.6,248.3 1119.6,250.9 1121.6,254.0 1123.6,257.7 1125.6,262.0 1127.6,266.8 1129.6,272.2 1131.6,278.2 1133.6,284.8 1135.6,291.9 1137.6,299.5 1139.6,307.7 1141.6,316.3 1143.6,325.5 1145.6,335.2 1147.6,345.3 1149.6,355.8 1151.6,366.8 1153.6,378.3 1155.6,390.1 1157.6,402.3 1159.6,414.9 1161.6,427.8 1163.6,441.1 1165.6,454.8 1167.6,468.7 1169.6,483.0 1171.6,497.5 1173.6,512.3 1175.6,527.3 1177.6,542.6 1179.6,558.1 1181.6,573.8 1183.6,589.7 1185.6,605.7 1187.6,621.9 1189.6,638.3 1191.6,654.7 1193.6,671.3 1195.6,687.9 1197.6,704.5 1199.6,721.1 1201.6,737.7 1203.6,754.3 1205.6,770.8 1207.6,787.2 1209.6,803.5 1211.6,819.6 1213.6,835.5 1215.6,851.3 1217.6,866.9 1219.6,882.3 1221.6,897.4 1223.6,912.4 1225.6,927.2 1227.6,941.7 1229.6,956.1 1231.6,970.2 1233.6,984.1 1235.6,997.7 1237.6,1011.1 1239.6,1024.3 1241.6,1037.2 1243.6,1049.8 1245.6,1062.2 1247.6,1074.3 1249.6,1086.2 1251.6,1097.8 1253.6,1109.0 1255.6,1120.1 1257.6,1130.8 1259.6,1141.2 1261.6,1151.3 1263.6,1161.1 1265.6,1170.6 1267.6,1179.8 1269.6,1188.6 1271.6,1197.2 1273.6,1205.4 1275.6,1213.2 1277.6,1220.7 1279.6,1227.9 1281.6,1234.7 1283.6,1241.2 1285.6,1247.3 1287.6,1253.0 1289.6,1258.4 1291.6,1263.5 1293.6,1268.3 1295.6,1272.8 1297.6,1277.1 1299.6,1281.1 1301.6,1284.8 1303.6,1288.4 1305.6,1291.8 1307.6,1295.0 1309.6,1298.0 1311.6,1300.9 1313.6,1303.7 1315.6,1306.4 1317.6,1308.9 1319.6,1311.5 1321.6,1313.9 1323.6,1316.4 1325.6,1318.8 1327.6,1321.2 1329.6,1323.6 1331.6,1326.0 1333.6,1328.5 1335.6,1330.9 1337.6,1333.4 1339.6,1335.8 1341.6,1338.2 1343.6,1340.6 1345.6,1342.9 1347.6,1345.2 1349.6,1347.4 1351.6,1349.5 1353.6,1351.6 1355.6,1353.6 1357.6,1355.6 1359.6,1357.5 1361.6,1359.4 1363.6,1361.2 1365.6,1363.0 1367.6,1364.7 1369.6,1366.4 1371.6,1368.0 1373.6,1369.6 1375.6,1371.2 1377.6,1372.8 1379.6,1374.3 1381.6,1375.8 1383.6,1377.3 1385.6,1378.7 1387.6,1380.2 1389.6,1381.6 1391.6,1383.1 1393.6,1384.5 1395.6,1385.9 1397.6,1387.4 1399.6,1388.8 1401.6,1390.3 1403.6,1391.7 1405.6,1393.2 1407.6,1394.6 1409.6,1396.1 1411.6,1397.6 1413.6,1399.0 1415.6,1400.5 1417.6,1402.0 1419.6,1403.5 1421.6,1404.9 1423.6,1406.4 1425.6,1407.9 1427.6,1409.4 1429.6,1410.8 1431.6,1412.3 1433.6,1413.8 1435.6,1415.2 1437.6,1416.7 1439.6,1418.1 1441.6,1419.5 1443.6,1420.9 1445.6,1422.4 1447.6,1423.7 1449.6,1425.1 1451.6,1426.5 1453.6,1427.9 1455.6,1429.2 1457.6,1430.5 1459.6,1431.8 1461.6,1433.1 1463.6,1434.4 1465.6,1435.7 1467.6,1436.9 1469.6,1438.1 1471.6,1439.3 1473.6,1440.5 1475.6,1441.7 1477.6,1442.8 1479.6,1443.9 1481.6,1445.0 1483.6,1446.0 1485.6,1447.0 1487.6,1448.0 1489.6,1449.0 1491.6,1449.9 1493.6,1450.9 1495.6,1451.7 1497.6,1452.6 1499.6,1453.4 1501.6,1454.2 1505.6,1455.7 1509.6,1457.1 1513.6,1458.4 1517.6,1459.7 1521.6,1460.8 1525.6,1461.8 1529.6,1462.8 1533.6,1463.7 1537.6,1464.5 1541.6,1465.3 1545.6,1466.0 1549.6,1466.7 1553.6,1467.3 1557.6,1467.9 1561.6,1468.4 1565.6,1468.9 1569.6,1469.4 1573.6,1469.9 1577.6,1470.3 1581.6,1470.7 1585.6,1471.2 1589.6,1471.6 1593.6,1472.0 1597.6,1472.4 1601.6,1472.8 1605.6,1473.2 1609.6,1473.6 1613.6,1473.9 1617.6,1474.3 1621.6,1474.7 1625.6,1475.0 1629.6,1475.4 1633.6,1475.7 1637.6,1476.1 1641.6,1476.4 1645.6,1476.7 1649.6,1477.0 1653.6,1477.4 1657.6,1477.7 1661.6,1478.0 1665.6,1478.3 1669.6,1478.6 1673.6,1478.9 1677.6,1479.1 1681.6,1479.4 1685.6,1479.7 1689.6,1480.0 1693.6,1480.2 1697.6,1480.5 1701.6,1480.7 1705.6,1481.0 1709.6,1481.2 1713.6,1481.5 1717.6,1481.7 1721.6,1481.9 1725.6,1482.1 1729.6,1482.4 1733.6,1482.6 1737.6,1482.8 1741.6,1483.0 1745.6,1483.2 1749.6,1483.4 1753.6,1483.6 1757.6,1483.7 1761.6,1483.9 1765.6,1484.1 1769.6,1484.3 1773.6,1484.4 1777.6,1484.6 1781.6,1484.8 1785.6,1484.9 1789.6,1485.1 1793.6,1485.2 1797.6,1485.4 1801.6,1485.5 1805.6,1485.6 1809.6,1485.8 1813.6,1485.9 1817.6,1486.0 1821.6,1486.1 1825.6,1486.2 1829.6,1486.3 1833.6,1486.5 1837.6,1486.6 1841.6,1486.7 1845.6,1486.8 1849.6,1486.9 1853.6,1486.9 1857.6,1487.0 1861.6,1487.1 1865.6,1487.2 1869.6,1487.3 1873.6,1487.3 1877.6,1487.4 1881.6,1487.5 1885.6,1487.6 1889.6,1487.6 1893.6,1487.7 1897.6,1487.7 1901.6,1487.8 1905.6,1487.8 1909.6,1487.9 1913.6,1487.9 1917.6,1488.0 1921.6,1488.0 1925.6,1488.1 1929.6,1488.1 1933.6,1488.1 1937.6,1488.2 1941.6,1488.2 1945.6,1488.2 1949.6,1488.2 1953.6,1488.3 1957.6,1488.3 1961.6,1488.3 1965.6,1488.3 1969.6,1488.3 1973.6,1488.3 1977.6,1488.3 1981.6,1488.4 1985.6,1488.4 1989.6,1488.4 1993.6,1488.4 1997.6,1488.4 2001.6,1488.4 2005.6,1488.4 2009.6,1488.4 2013.6,1488.4 2017.6,1488.4 2021.6,1488.4 2025.6,1488.3 2029.6,1488.3 2033.6,1488.3 2037.6,1488.3 2041.6,1488.3 2045.6,1488.3 2049.6,1488.3 2053.6,1488.3 2057.6,1488.2 2061.6,1488.2 2065.6,1488.2 2069.6,1488.2 2073.6,1488.2 2077.6,1488.1 2081.6,1488.1 2085.6,1488.1 2089.6,1488.1 2093.6,1488.1 2097.6,1488.0 2101.6,1488.0 2105.6,1488.0 2109.6,1488.0 2113.6,1487.9 2117.6,1487.9 2121.6,1487.9 2125.6,1487.9 2129.6,1487.8 2133.6,1487.8 2137.6,1487.8 2141.6,1487.8 2145.6,1487.8 2149.6,1487.7 2153.6,1487.7 2157.6,1487.7 2161.6,1487.7 2165.6,1487.6 2169.6,1487.6 2173.6,1487.6 2177.6,1487.6 2181.6,1487.5 2185.6,1487.5 2189.6,1487.5 2193.6,1487.5 2197.6,1487.5 2201.6,1487.5 2205.6,1487.4 2209.6,1487.4 2213.6,1487.4 2217.6,1487.4 2221.6,1487.4 2225.6,1487.4 2229.6,1487.4 2233.6,1487.4 2237.6,1487.4 2241.6,1487.3 2245.6,1487.3 2249.6,1487.3 2253.6,1487.3 2257.6,1487.3 2261.6,1487.3 2265.6,1487.3 2269.6,1487.3 2273.6,1487.4 2277.6,1487.4 2281.6,1487.4 2285.6,1487.4 2289.6,1487.4 2293.6,1487.4 2297.6,1487.4 2301.6,1487.5 2305.6,1487.5 2309.6,1487.5 2313.6,1487.5 2317.6,1487.6 2321.6,1487.6 2325.6,1487.6 2329.6,1487.7 2333.6,1487.7 2337.6,1487.7 2341.6,1487.8 2345.6,1487.8 2349.6,1487.9 2353.6,1487.9 2357.6,1488.0 2361.6,1488.0 2362.0,1488.0" stroke="#ff8000" stroke-width="2.2"/>
</g>
<line x1="656.3" y1="1555.4" x2="656.7" y2="475.5" stroke="#0000ff" stroke-width="6.2"/><polygon points="656.7,433.5 668.7,477.5 644.7,477.5" fill="#0000ff"/>
<line x1="1105.3" y1="1555.4" x2="1109.6" y2="286.5" stroke="#0000ff" stroke-width="6.2"/><polygon points="1109.7,247.5 1121.1,288.5 1098.1,288.5" fill="#0000ff"/>
<g stroke="#000" fill="none" stroke-linecap="butt">
<line x1="329.5" y1="57.9" x2="329.5" y2="1557.8" stroke-width="4.8"/>
<line x1="327.1" y1="1555.4" x2="2364.9" y2="1555.4" stroke-width="4.8"/>
<line x1="311.5" y1="1555.4" x2="329.5" y2="1555.4" stroke-width="3.8"/>
<line x1="297.1" y1="1484.2" x2="329.5" y2="1484.2" stroke-width="3.8"/>
<line x1="311.5" y1="1413.0" x2="329.5" y2="1413.0" stroke-width="3.8"/>
<line x1="311.5" y1="1341.8" x2="329.5" y2="1341.8" stroke-width="3.8"/>
<line x1="311.5" y1="1270.6" x2="329.5" y2="1270.6" stroke-width="3.8"/>
<line x1="297.1" y1="1199.4" x2="329.5" y2="1199.4" stroke-width="3.8"/>
<line x1="311.5" y1="1128.2" x2="329.5" y2="1128.2" stroke-width="3.8"/>
<line x1="311.5" y1="1057.0" x2="329.5" y2="1057.0" stroke-width="3.8"/>
<line x1="311.5" y1="985.8" x2="329.5" y2="985.8" stroke-width="3.8"/>
<line x1="297.1" y1="914.6" x2="329.5" y2="914.6" stroke-width="3.8"/>
<line x1="311.5" y1="843.4" x2="329.5" y2="843.4" stroke-width="3.8"/>
<line x1="311.5" y1="772.2" x2="329.5" y2="772.2" stroke-width="3.8"/>
<line x1="311.5" y1="701.1" x2="329.5" y2="701.1" stroke-width="3.8"/>
<line x1="297.1" y1="629.9" x2="329.5" y2="629.9" stroke-width="3.8"/>
<line x1="311.5" y1="558.7" x2="329.5" y2="558.7" stroke-width="3.8"/>
<line x1="311.5" y1="487.5" x2="329.5" y2="487.5" stroke-width="3.8"/>
<line x1="311.5" y1="416.3" x2="329.5" y2="416.3" stroke-width="3.8"/>
<line x1="297.1" y1="345.1" x2="329.5" y2="345.1" stroke-width="3.8"/>
<line x1="311.5" y1="273.9" x2="329.5" y2="273.9" stroke-width="3.8"/>
<line x1="311.5" y1="202.7" x2="329.5" y2="202.7" stroke-width="3.8"/>
<line x1="311.5" y1="131.5" x2="329.5" y2="131.5" stroke-width="3.8"/>
<line x1="297.1" y1="60.3" x2="329.5" y2="60.3" stroke-width="3.8"/>
<line x1="329.5" y1="1555.4" x2="329.5" y2="1587.8" stroke-width="3.8"/>
<line x1="419.8" y1="1555.4" x2="419.8" y2="1573.4" stroke-width="3.8"/>
<line x1="510.2" y1="1555.4" x2="510.2" y2="1573.4" stroke-width="3.8"/>
<line x1="600.5" y1="1555.4" x2="600.5" y2="1573.4" stroke-width="3.8"/>
<line x1="690.8" y1="1555.4" x2="690.8" y2="1573.4" stroke-width="3.8"/>
<line x1="781.1" y1="1555.4" x2="781.1" y2="1587.8" stroke-width="3.8"/>
<line x1="871.5" y1="1555.4" x2="871.5" y2="1573.4" stroke-width="3.8"/>
<line x1="961.8" y1="1555.4" x2="961.8" y2="1573.4" stroke-width="3.8"/>
<line x1="1052.1" y1="1555.4" x2="1052.1" y2="1573.4" stroke-width="3.8"/>
<line x1="1142.5" y1="1555.4" x2="1142.5" y2="1573.4" stroke-width="3.8"/>
<line x1="1232.8" y1="1555.4" x2="1232.8" y2="1587.8" stroke-width="3.8"/>
<line x1="1323.1" y1="1555.4" x2="1323.1" y2="1573.4" stroke-width="3.8"/>
<line x1="1413.5" y1="1555.4" x2="1413.5" y2="1573.4" stroke-width="3.8"/>
<line x1="1503.8" y1="1555.4" x2="1503.8" y2="1573.4" stroke-width="3.8"/>
<line x1="1594.1" y1="1555.4" x2="1594.1" y2="1573.4" stroke-width="3.8"/>
<line x1="1684.4" y1="1555.4" x2="1684.4" y2="1587.8" stroke-width="3.8"/>
<line x1="1774.8" y1="1555.4" x2="1774.8" y2="1573.4" stroke-width="3.8"/>
<line x1="1865.1" y1="1555.4" x2="1865.1" y2="1573.4" stroke-width="3.8"/>
<line x1="1955.4" y1="1555.4" x2="1955.4" y2="1573.4" stroke-width="3.8"/>
<line x1="2045.8" y1="1555.4" x2="2045.8" y2="1573.4" stroke-width="3.8"/>
<line x1="2136.1" y1="1555.4" x2="2136.1" y2="1587.8" stroke-width="3.8"/>
<line x1="2226.4" y1="1555.4" x2="2226.4" y2="1573.4" stroke-width="3.8"/>
<line x1="2316.8" y1="1555.4" x2="2316.8" y2="1573.4" stroke-width="3.8"/>
</g>
<g font-size="62.5">
<text transform="translate(278.3,1500.0) scale(0.965,1)" text-anchor="end">0.0</text>
<text transform="translate(278.3,1215.2) scale(0.965,1)" text-anchor="end">0.2</text>
<text transform="translate(278.3,930.4) scale(0.965,1)" text-anchor="end">0.4</text>
<text transform="translate(278.3,645.7) scale(0.965,1)" text-anchor="end">0.6</text>
<text transform="translate(278.3,360.9) scale(0.965,1)" text-anchor="end">0.8</text>
<text transform="translate(278.3,76.1) scale(0.965,1)" text-anchor="end">1.0</text>
<text transform="translate(328.9,1653.7) scale(0.965,1)" text-anchor="middle">200</text>
<text transform="translate(780.5,1653.7) scale(0.965,1)" text-anchor="middle">300</text>
<text transform="translate(1232.2,1653.7) scale(0.965,1)" text-anchor="middle">400</text>
<text transform="translate(1683.8,1653.7) scale(0.965,1)" text-anchor="middle">500</text>
<text transform="translate(2135.5,1653.7) scale(0.965,1)" text-anchor="middle">600</text>
</g>
<text transform="translate(1345.7,1772.5) scale(1.044,1)" font-size="72" text-anchor="middle">Wavelenght (nm)</text>
<text transform="translate(80,813.5) rotate(-90) scale(1.044,1)" font-size="72" text-anchor="middle">Absorbance</text>
</svg></body></html>
